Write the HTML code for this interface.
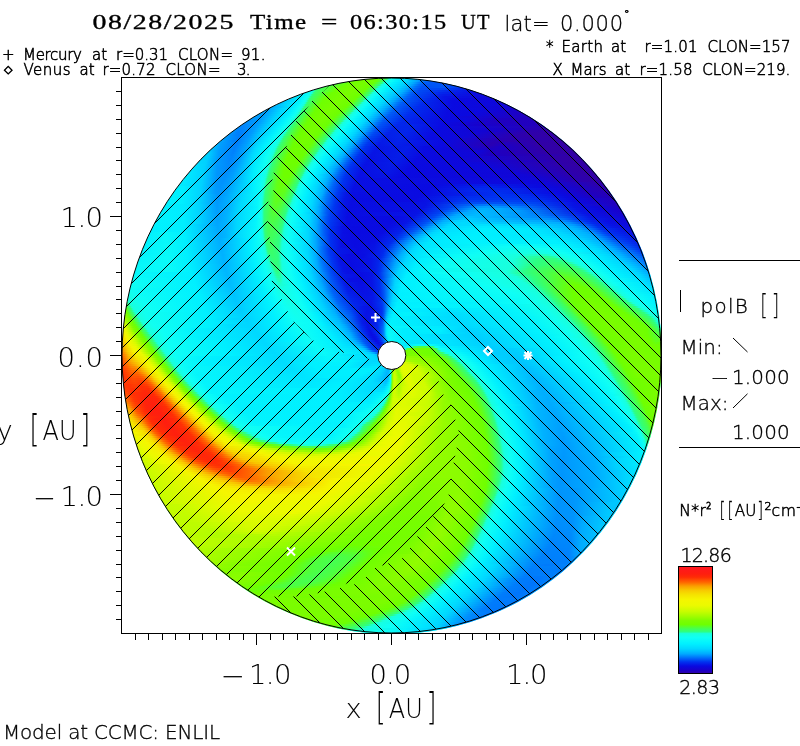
<!DOCTYPE html>
<html lang="en"><head><meta charset="utf-8"><title>ENLIL 08/28/2025 06:30:15 UT</title>
<style>
html,body{margin:0;padding:0;background:#fff}
body{width:800px;height:746px;position:relative;overflow:hidden}
#disk{position:absolute;left:121.5px;top:77.5px;width:540px;height:556px;border-radius:50%;overflow:hidden;background:#0ff;box-sizing:border-box;padding-top:.5px}
#disk i{display:block;height:2px;width:540px;margin-left:.5px}
#ov{position:absolute;left:0;top:0}
text{font-family:'DejaVu Sans Light','DejaVu Sans','Liberation Sans',sans-serif;font-weight:200;fill:#000;stroke:#000;white-space:pre}
.ser{font-family:'Liberation Serif','DejaVu Serif',serif;font-weight:400;stroke:#000;stroke-width:0.35px}
</style></head><body>

<div id="disk">
<i style="background:linear-gradient(90deg,#77fd00 244px,#6eff00 256px,#6aff08 257px,#2dff81 265px,#21ffb8 266px,#18ffdf 267px,#0ffff4 270px,#00efff 277px,#00d7ff 287px,#00b7ff 294px)"></i>
<i style="background:linear-gradient(90deg,#5eff20 227px,#6fff00 231px,#77fd00 243px,#6cff05 254px,#59ff29 257px,#32ff79 262px,#27ff9c 263px,#1bffd4 264px,#0efef6 268px,#01f1ff 274px,#00d4ff 285px,#00a8ff 294px,#006bf9 303px,#0057f6 311px)"></i>
<i style="background:linear-gradient(90deg,#50ff3d 216px,#6eff00 227px,#77fd00 239px,#6dff01 251px,#5cff23 254px,#2eff81 260px,#18ffde 262px,#0dfdf6 266px,#00f0ff 272px,#00d1ff 283px,#00abff 291px,#0074fb 298px,#005cf7 303px,#0051f5 322px)"></i>
<i style="background:linear-gradient(90deg,#47ff4d 207px,#6fff00 224px,#77fd00 236px,#6fff00 248px,#60ff1d 251px,#32ff77 257px,#29ff94 258px,#1dffc9 259px,#17ffe0 260px,#0ffff5 263px,#00efff 270px,#00d0ff 281px,#00a9ff 289px,#0069f9 297px,#0054f6 302px,#0057f6 321px,#004cf4 331px)"></i>
<i style="background:linear-gradient(90deg,#3dff63 199px,#6eff00 220px,#78fd00 234px,#6eff00 246px,#5dff22 249px,#30ff7d 255px,#19ffda 257px,#0ffff5 261px,#00efff 268px,#00ceff 279px,#00adff 286px,#006dfa 294px,#0051f5 300px,#0056f6 323px,#0035f1 339px)"></i>
<i style="background:linear-gradient(90deg,#14ffe8 192px,#18ffde 193px,#30ff7b 195px,#3dff62 197px,#6fff00 217px,#78fd00 232px,#6dff02 244px,#2dff81 253px,#18ffdd 255px,#0efef6 259px,#00efff 266px,#00cdff 277px,#00acff 284px,#006bfa 292px,#004ef5 298px,#0044f3 324px,#051ce8 346px)"></i>
<i style="background:linear-gradient(90deg,#02f2fe 185px,#0efef5 189px,#17ffe2 191px,#20ffbc 192px,#2eff80 193px,#3cff64 195px,#6fff00 213px,#79fd00 230px,#6cff04 242px,#34ff75 250px,#2bff8a 251px,#20ffbd 252px,#18ffdf 253px,#0efef6 257px,#00eeff 264px,#00ccff 275px,#00abff 282px,#005ef7 292px,#004af4 297px,#090de2 353px)"></i>
<i style="background:linear-gradient(90deg,#00eaff 180px,#11fff1 188px,#19ffdc 190px,#28ff97 191px,#33ff77 192px,#3aff69 193px,#65ff11 206px,#6fff00 210px,#79fd00 228px,#6bff05 240px,#32ff77 248px,#2aff92 249px,#1effc4 250px,#18ffe0 251px,#09f9f9 257px,#00c6ff 274px,#00aaff 280px,#0063f8 289px,#004af4 295px,#0327ec 319px,#0c09df 358px)"></i>
<i style="background:linear-gradient(90deg,#00dfff 174px,#01f1ff 181px,#0efef5 186px,#17ffe2 188px,#20ffbc 189px,#2eff80 190px,#3cff64 192px,#6eff00 207px,#79fd00 224px,#6fff00 237px,#5fff1f 240px,#32ff79 246px,#28ff97 247px,#1dffc9 248px,#17ffe0 249px,#10fff3 252px,#07f7fb 256px,#00c1ff 273px,#00a8ff 278px,#0063f8 287px,#004af4 293px,#061ce8 321px,#0e08db 364px)"></i>
<i style="background:linear-gradient(90deg,#00d8ff 169px,#00f0ff 179px,#10fff2 185px,#18ffde 187px,#26ffa2 188px,#31ff79 189px,#39ff6b 190px,#67ff0e 202px,#6fff00 205px,#79fd00 222px,#6eff00 235px,#5eff21 238px,#31ff7a 244px,#28ff9a 245px,#1cffcc 246px,#17ffe0 247px,#10fff3 250px,#04f4fc 255px,#00c9ff 269px,#00a7ff 276px,#0063f8 285px,#0049f4 292px,#0813e5 323px,#0f07da 369px)"></i>
<i style="background:linear-gradient(90deg,#00caff 164px,#01f1ff 178px,#0efef6 183px,#16ffe4 185px,#1cffcf 186px,#2bff8d 187px,#3bff67 189px,#67ff0f 200px,#6fff00 203px,#79fd00 219px,#6eff00 233px,#31ff7b 242px,#27ff9c 243px,#1cffce 244px,#17ffe1 245px,#10fff3 248px,#03f3fd 254px,#00d7ff 264px,#00acff 273px,#006ffa 281px,#0055f6 286px,#022aed 306px,#0a0ae1 331px,#0f07d9 374px)"></i>
<i style="background:linear-gradient(90deg,#00beff 160px,#00efff 176px,#0ffff5 182px,#17ffe1 184px,#21ffb9 185px,#2eff80 186px,#36ff70 187px,#66ff11 198px,#6fff00 201px,#79fd00 217px,#6dff01 231px,#30ff7b 240px,#27ff9e 241px,#1cffcf 242px,#17ffe1 243px,#10fff3 246px,#01f1fe 253px,#00d6ff 262px,#00abff 271px,#0059f6 283px,#0327ec 305px,#0a0ae1 330px,#0f07da 378px)"></i>
<i style="background:linear-gradient(90deg,#00b1ff 155px,#00d5ff 164px,#00f0ff 175px,#11fff1 181px,#18ffde 183px,#30ff7b 185px,#38ff6d 186px,#6eff00 199px,#79fd00 215px,#6cff04 229px,#30ff7c 238px,#27ff9f 239px,#1cffcf 240px,#17ffe1 241px,#0dfdf6 245px,#01f1fe 251px,#00d6ff 260px,#00aaff 269px,#0073fa 276px,#0058f6 281px,#0228ec 302px,#0a0ae1 330px,#0e07da 383px)"></i>
<i style="background:linear-gradient(90deg,#00a9ff 151px,#00d6ff 163px,#00efff 173px,#0efef6 179px,#1bffd5 182px,#29ff96 183px,#32ff77 184px,#39ff6a 185px,#66ff10 195px,#6fff00 198px,#79fd00 212px,#6eff00 226px,#5aff28 230px,#30ff7d 236px,#1cffcf 238px,#17ffe0 239px,#0efef6 243px,#01f1fe 249px,#00d6ff 258px,#00afff 266px,#005cf7 278px,#022aed 299px,#0a0ae1 331px,#0f07d9 387px)"></i>
<i style="background:linear-gradient(90deg,#00a1fe 147px,#00f0ff 172px,#10fff4 178px,#17ffe1 180px,#1fffc2 181px,#2cff87 182px,#34ff74 183px,#5bff25 191px,#6eff00 196px,#79fd00 210px,#6eff00 224px,#59ff2a 228px,#2fff7d 234px,#1cffcf 236px,#17ffe0 237px,#0efef6 241px,#01f1fe 247px,#00d6ff 256px,#00aeff 264px,#005bf7 276px,#022bed 296px,#0a0ae1 331px,#1205d4 391px)"></i>
<i style="background:linear-gradient(90deg,#009efe 143px,#00a3fe 147px,#00d5ff 160px,#00efff 170px,#0dfdf6 176px,#18ffdf 179px,#2eff7f 181px,#36ff70 182px,#62ff18 191px,#6fff00 195px,#79fd00 208px,#6cff03 222px,#58ff2d 226px,#2fff7e 232px,#1cffcf 234px,#17ffe0 235px,#0efef6 239px,#00f0ff 246px,#00d6ff 254px,#00aeff 262px,#005ef7 273px,#012dee 293px,#0a0ae1 328px,#0c09de 363px,#1801cb 395px)"></i>
<i style="background:linear-gradient(90deg,#009efe 140px,#00a0fe 145px,#00d7ff 159px,#00f0ff 169px,#0ffff5 175px,#19ffdb 178px,#26ff9f 179px,#31ff7b 180px,#37ff6d 181px,#6eff00 193px,#79fd00 206px,#6eff00 219px,#5cff23 223px,#2fff7e 230px,#1cffcf 232px,#17ffe0 233px,#0efef5 237px,#00f0ff 244px,#00d7ff 252px,#00adff 260px,#005df7 271px,#012cee 291px,#0a0ae1 326px,#0c09de 358px,#1b00c6 398px)"></i>
<i style="background:linear-gradient(90deg,#009dfe 136px,#009efe 143px,#00d5ff 157px,#00efff 167px,#10fff2 174px,#17ffe1 176px,#1effc7 177px,#2aff8f 178px,#33ff77 179px,#61ff1a 188px,#6fff00 192px,#78fd00 204px,#6eff01 217px,#56ff31 222px,#2fff7f 228px,#1cffcf 230px,#17ffe0 231px,#0efef5 235px,#00f0ff 242px,#00d7ff 250px,#00adff 258px,#005cf7 269px,#012dee 288px,#0a0ae1 325px,#0c09de 353px,#1e00c2 402px)"></i>
<i style="background:linear-gradient(90deg,#009bfe 133px,#009efe 142px,#00d7ff 156px,#00f0ff 166px,#0efef5 172px,#18ffde 175px,#2dff81 177px,#34ff73 178px,#6eff00 190px,#78fd00 202px,#6dff03 215px,#55ff33 220px,#2eff7f 226px,#1cffcf 228px,#17ffe0 229px,#0ffff5 233px,#01f1ff 240px,#00d8ff 248px,#00adff 256px,#005bf7 267px,#012cee 286px,#0a0ae1 325px,#0b09df 348px,#2000bf 405px)"></i>
<i style="background:linear-gradient(90deg,#0096fd 129px,#009cfe 140px,#00d5ff 154px,#00efff 164px,#10fff3 171px,#1affd9 174px,#26ffa1 175px,#30ff7d 176px,#5bff25 184px,#6fff00 189px,#78fd00 201px,#6cff04 213px,#54ff34 218px,#2eff7f 224px,#1cffcf 226px,#18ffe0 227px,#0ffff5 231px,#01f1fe 238px,#00d8ff 246px,#00aeff 254px,#005bf7 265px,#022bee 284px,#0a0ae1 324px,#2100be 409px)"></i>
<i style="background:linear-gradient(90deg,#0090fd 126px,#009dfe 139px,#00d7ff 153px,#01f1ff 163px,#0efef5 169px,#17ffe0 172px,#1fffc3 173px,#2aff8f 174px,#32ff78 175px,#62ff18 184px,#6fff00 188px,#78fd00 199px,#6cff05 211px,#53ff35 216px,#2eff7f 222px,#1cffcd 224px,#18ffdf 225px,#0ffff4 229px,#00efff 237px,#00d5ff 245px,#00aeff 252px,#005af7 263px,#022aed 282px,#0a0ae1 323px,#0c09de 343px,#1e00c3 375px,#2200bd 412px)"></i>
<i style="background:linear-gradient(90deg,#008afc 123px,#009bfe 137px,#00d5ff 151px,#00f0ff 161px,#10fff3 168px,#19ffdd 171px,#2eff81 173px,#34ff73 174px,#5fff1d 182px,#6eff00 186px,#78fd00 198px,#6cff05 209px,#2fff7e 220px,#1dffcb 222px,#18ffdf 223px,#10fff3 227px,#00f0ff 235px,#00d6ff 243px,#00afff 250px,#0059f7 261px,#0229ed 280px,#0a0ae1 323px,#0c09de 341px,#1f00c1 374px,#2200bd 415px)"></i>
<i style="background:linear-gradient(90deg,#0088fc 120px,#009bfe 136px,#00d7ff 150px,#01f1fe 160px,#0efef5 166px,#17ffe1 169px,#1cffcd 170px,#27ff9b 171px,#30ff7b 172px,#5dff23 180px,#6fff00 185px,#78fd00 196px,#6cff04 207px,#2fff7d 218px,#1dffc8 220px,#18ffdf 221px,#0efef6 226px,#01f1ff 233px,#00d7ff 241px,#00aaff 249px,#006cfa 256px,#0054f6 260px,#0229ed 277px,#0a0ae1 322px,#1f00c1 378px,#2200bd 418px)"></i>
<i style="background:linear-gradient(90deg,#008cfd 117px,#0084fc 121px,#009afe 134px,#00d5ff 148px,#00f0ff 158px,#10fff3 165px,#18ffde 168px,#2cff88 170px,#33ff76 171px,#5aff29 178px,#6eff00 183px,#77fd00 194px,#6cff03 205px,#30ff7c 216px,#18ffde 219px,#0efef5 224px,#01f1fe 231px,#00d8ff 239px,#00abff 247px,#0054f6 258px,#0327ec 275px,#0326eb 289px,#0a0ae1 321px,#1801cb 359px,#2300bb 421px)"></i>
<i style="background:linear-gradient(90deg,#0093fd 114px,#0082fc 120px,#009afe 133px,#00d7ff 147px,#00efff 156px,#0ffff5 163px,#1bffd5 167px,#2fff7e 169px,#35ff71 170px,#5cff24 177px,#6fff00 182px,#77fd00 192px,#6dff02 203px,#31ff7a 214px,#2aff92 215px,#18ffdd 217px,#0ffff5 222px,#00efff 230px,#00d5ff 238px,#00acff 245px,#0053f6 256px,#0326eb 273px,#0325eb 288px,#0a0be1 318px,#2800b4 424px)"></i>
<i style="background:linear-gradient(90deg,#009afe 111px,#0082fc 117px,#0082fc 120px,#009bfe 132px,#00d5ff 145px,#00edff 154px,#10fff3 162px,#18ffdf 165px,#1fffc0 166px,#2aff90 167px,#32ff79 168px,#5eff21 176px,#6fff00 181px,#77fd00 191px,#6eff00 201px,#33ff77 212px,#2bff89 213px,#19ffdc 215px,#0ffff5 220px,#00f0ff 228px,#00d6ff 236px,#00aeff 243px,#004ef5 255px,#0424eb 271px,#0326eb 286px,#0a0be1 316px,#1901ca 383px,#2e00ab 427px)"></i>
<i style="background:linear-gradient(90deg,#009cfe 109px,#0081fc 116px,#0082fc 120px,#009cfe 131px,#00d7ff 144px,#00efff 153px,#0ffff5 160px,#19ffdc 164px,#2dff81 166px,#34ff74 167px,#5bff26 174px,#6eff00 179px,#77fd00 189px,#6eff00 199px,#5cff24 203px,#2eff81 211px,#1bffd5 213px,#17ffe0 214px,#10fff4 218px,#01f1ff 226px,#00d7ff 234px,#00aaff 242px,#004ef5 253px,#0422ea 269px,#0325eb 285px,#0a0be1 314px,#1304d2 363px,#2b00af 406px,#3100a7 429px)"></i>
<i style="background:linear-gradient(90deg,#009ffe 106px,#0081fc 115px,#0080fc 119px,#009cfe 130px,#00c9ff 139px,#00eeff 151px,#10fff3 159px,#17ffe0 162px,#1dffca 163px,#27ff9b 164px,#30ff7c 165px,#36ff6f 166px,#5cff23 173px,#6fff00 178px,#77fd00 188px,#6cff03 198px,#2fff7d 209px,#1dffc9 211px,#18ffdf 212px,#0efef6 217px,#00efff 225px,#00d4ff 233px,#00acff 240px,#0062f8 248px,#0049f4 252px,#0421e9 267px,#0325eb 282px,#0a0be1 311px,#1106d6 353px,#2d00ad 402px,#3200a6 432px)"></i>
<i style="background:linear-gradient(90deg,#00a1fe 103px,#0081fc 114px,#007ffb 118px,#009dfe 129px,#00c7ff 137px,#00f0ff 150px,#0ffff5 157px,#18ffde 161px,#2bff8c 163px,#38ff6b 165px,#5eff20 172px,#6fff00 177px,#76fd00 186px,#6eff00 196px,#32ff79 207px,#2aff90 208px,#18ffdd 210px,#0ffff5 215px,#00f0ff 223px,#00d6ff 231px,#00aeff 238px,#0049f4 250px,#051fe9 265px,#0325eb 281px,#0a0be1 310px,#0f07d9 344px,#2d00ad 397px,#3200a5 435px)"></i>
<i style="background:linear-gradient(90deg,#00a2fe 101px,#007efb 117px,#009dfe 128px,#00d7ff 140px,#01f1ff 149px,#10fff4 156px,#19ffdb 160px,#2dff81 162px,#3aff67 164px,#5fff1e 171px,#6fff00 176px,#76fd00 185px,#6bff05 195px,#2dff82 206px,#1affd8 208px,#0ffff4 213px,#00f0ff 221px,#00d7ff 229px,#00aaff 237px,#005ef7 245px,#0044f3 249px,#051ee8 263px,#0424eb 279px,#0a0be1 309px,#0e08db 338px,#2d00ad 395px,#3200a5 437px)"></i>
<i style="background:linear-gradient(90deg,#00a7ff 98px,#007efb 116px,#009efe 127px,#00d8ff 139px,#00efff 147px,#0efef6 154px,#17ffe0 158px,#1cffd0 159px,#2fff7e 161px,#36ff70 162px,#57ff2f 168px,#6eff00 174px,#76fd00 183px,#6dff02 193px,#30ff7c 204px,#1effc7 206px,#18ffdf 207px,#0efef6 212px,#01f1ff 219px,#00d4ff 228px,#00acff 235px,#0058f6 244px,#003ff2 248px,#051ce8 261px,#0423ea 278px,#0a0be2 307px,#0a0ae0 323px,#2600b8 374px,#3200a5 440px)"></i>
<i style="background:linear-gradient(90deg,#00adff 96px,#0080fb 112px,#007ffb 116px,#009efe 126px,#00d6ff 137px,#00f0ff 146px,#0ffff5 153px,#18ffdf 157px,#1dffc8 158px,#28ff99 159px,#31ff7b 160px,#37ff6e 161px,#57ff2e 167px,#6eff00 173px,#75fe00 182px,#6eff00 191px,#5cff24 195px,#33ff77 202px,#2bff8a 203px,#19ffdd 205px,#0ffff5 210px,#00efff 218px,#00d6ff 226px,#00aeff 233px,#005bf7 242px,#003af1 247px,#061ae7 260px,#0422ea 276px,#0b0ae0 322px,#2800b4 373px,#3200a5 442px)"></i>
<i style="background:linear-gradient(90deg,#00b5ff 94px,#009ffe 99px,#007efb 115px,#009efe 125px,#00d7ff 136px,#01f1ff 145px,#0ffff4 152px,#18ffdf 156px,#1fffc3 157px,#29ff92 158px,#38ff6b 160px,#57ff2e 166px,#6eff00 172px,#75fe00 181px,#6dff03 190px,#2fff7e 201px,#1cffce 203px,#18ffe0 204px,#0ffff4 208px,#00f0ff 216px,#00d7ff 224px,#00abff 232px,#0055f6 241px,#0036f1 246px,#0619e7 258px,#0421ea 274px,#0b0ae0 321px,#2900b2 371px,#2200bd 383px,#3000a8 414px,#3200a5 444px)"></i>
<i style="background:linear-gradient(90deg,#00c5ff 91px,#00a0fe 98px,#007efb 114px,#00a3fe 125px,#00d8ff 135px,#00f0ff 143px,#10fff3 151px,#18ffdf 155px,#1fffbf 156px,#2aff8e 157px,#39ff6a 159px,#6eff00 171px,#6eff00 188px,#5cff23 192px,#32ff78 199px,#2aff8e 200px,#19ffdd 202px,#0efef6 207px,#01f1ff 214px,#00d4ff 223px,#00adff 230px,#0058f6 239px,#0037f1 244px,#0717e6 257px,#051fe9 273px,#0b0ae0 320px,#2900b3 369px,#1d00c4 381px,#3000a8 416px,#3200a5 447px)"></i>
<i style="background:linear-gradient(90deg,#00ccff 89px,#00a1fe 97px,#007ffb 113px,#00a2fe 124px,#00d8ff 134px,#00f0ff 142px,#10fff3 150px,#18ffdf 154px,#20ffbf 155px,#2bff8c 156px,#3aff69 158px,#6eff00 170px,#6dff03 187px,#5aff28 191px,#2fff7f 198px,#1cffd0 200px,#17ffe0 201px,#0ffff5 205px,#00efff 213px,#00d6ff 221px,#00aaff 229px,#0053f6 238px,#0032f0 243px,#0716e6 255px,#051de8 286px,#0a0be1 303px,#0b0ae0 319px,#2400ba 369px,#1900c9 379px,#3000a8 418px,#3200a5 449px)"></i>
<i style="background:linear-gradient(90deg,#00d1ff 87px,#009ffe 97px,#007ffb 112px,#00a2fe 123px,#00d8ff 133px,#00f0ff 141px,#10fff2 149px,#18ffdf 153px,#1fffc0 154px,#2bff8d 155px,#39ff69 157px,#6eff00 169px,#74fe00 177px,#6bff06 186px,#32ff78 196px,#2bff8d 197px,#19ffdd 199px,#0efef6 204px,#00f0ff 211px,#00d8ff 219px,#00acff 227px,#0057f6 236px,#0034f0 241px,#0715e5 254px,#051de8 284px,#0a0ce2 301px,#0a0ae0 317px,#1d00c3 369px,#1a00c8 380px,#3100a7 422px,#3200a5 451px)"></i>
<i style="background:linear-gradient(90deg,#00d4ff 85px,#009dfe 97px,#0080fc 112px,#00a2fe 122px,#00d8ff 132px,#00f0ff 140px,#10fff3 148px,#18ffdf 152px,#1effc5 153px,#29ff92 154px,#39ff6b 156px,#6eff00 168px,#6dff02 184px,#5bff26 188px,#2fff7e 195px,#1cffce 197px,#18ffe0 198px,#0ffff5 202px,#01f1fe 209px,#00d5ff 218px,#00aeff 225px,#0052f5 235px,#0031f0 240px,#0714e5 252px,#051de8 282px,#0a0be1 302px,#1205d4 360px,#1d00c3 369px,#3000a8 423px,#3200a5 453px)"></i>
<i style="background:linear-gradient(90deg,#00d5ff 83px,#00ceff 87px,#009bfe 97px,#0081fc 111px,#00a1fe 121px,#00d8ff 131px,#00f0ff 139px,#10fff3 147px,#17ffe0 151px,#1dffcc 152px,#28ff9a 153px,#31ff7b 154px,#37ff6e 155px,#6eff00 167px,#6cff04 183px,#59ff2a 187px,#33ff77 193px,#2bff89 194px,#19ffdd 196px,#10fff3 200px,#00f0ff 208px,#00d7ff 216px,#00abff 224px,#0056f6 233px,#0033f0 238px,#0813e4 251px,#051ee8 280px,#0a0be1 300px,#1006d7 356px,#1e00c2 369px,#3100a6 430px,#3200a5 455px)"></i>
<i style="background:linear-gradient(90deg,#00d6ff 81px,#00ccff 87px,#009afe 97px,#0082fc 110px,#009cfe 119px,#00d7ff 130px,#00f0ff 138px,#0ffff4 146px,#1bffd5 151px,#2fff7e 153px,#35ff71 154px,#6aff08 165px,#6fff00 167px,#6eff00 181px,#5dff23 185px,#30ff7c 192px,#1dffc8 194px,#18ffdf 195px,#0ffff5 199px,#01f1ff 206px,#00d4ff 215px,#00aeff 222px,#005af7 231px,#0030ef 237px,#0813e4 249px,#051ee8 279px,#0a0be1 299px,#0f07d8 351px,#1d00c3 368px,#3200a5 457px)"></i>
<i style="background:linear-gradient(90deg,#00d7ff 79px,#00ceff 86px,#0098fe 97px,#0084fc 110px,#009bfe 118px,#00ddff 131px,#0ffff5 145px,#19ffdc 150px,#2dff84 152px,#33ff75 153px,#65ff12 163px,#6fff00 166px,#6dff02 180px,#5bff27 184px,#2dff82 191px,#19ffdb 193px,#10fff3 197px,#00efff 205px,#00d6ff 213px,#00abff 221px,#005ef7 229px,#0032f0 235px,#0812e4 248px,#051de8 277px,#0a0be1 297px,#0e07da 342px,#3100a7 436px,#3200a5 459px)"></i>
<i style="background:linear-gradient(90deg,#00d8ff 77px,#00d0ff 85px,#009afe 96px,#0084fc 109px,#009bfe 117px,#00e0ff 131px,#0efef6 144px,#18ffdd 149px,#2aff91 151px,#31ff7a 152px,#64ff13 162px,#6eff00 165px,#6cff04 179px,#59ff2b 183px,#31ff79 189px,#2aff92 190px,#18ffde 192px,#0ffff5 196px,#01f1ff 203px,#00d8ff 211px,#00adff 219px,#005af7 228px,#0030ef 234px,#0811e4 247px,#051de8 275px,#0a0be1 295px,#0d08dd 334px,#3100a7 439px,#3200a5 461px)"></i>
<i style="background:linear-gradient(90deg,#00daff 75px,#00d1ff 84px,#0098fe 96px,#0085fc 108px,#0096fd 115px,#00e6ff 132px,#0ffff4 144px,#18ffdf 148px,#1effc7 149px,#2fff7e 151px,#63ff16 161px,#6eff00 164px,#6eff00 177px,#5cff23 181px,#2fff7e 188px,#1cffcf 190px,#17ffe0 191px,#0efef6 195px,#00f0ff 202px,#00d6ff 210px,#00aaff 218px,#005ef7 226px,#0033f0 232px,#0810e3 246px,#051ce8 274px,#0a0be1 293px,#0c09de 329px,#2400b9 420px,#3100a7 442px,#3200a5 463px)"></i>
<i style="background:linear-gradient(90deg,#00dcff 73px,#00d0ff 84px,#009afe 95px,#0087fc 107px,#0099fe 115px,#00e8ff 132px,#0efef5 143px,#1bffd2 148px,#2dff83 150px,#33ff77 151px,#67ff0f 161px,#6fff00 164px,#6dff02 176px,#5bff27 180px,#2dff84 187px,#19ffdc 189px,#0ffff5 193px,#01f1fe 200px,#00d8ff 208px,#00adff 216px,#005af7 225px,#0031f0 231px,#0811e4 244px,#061ce8 272px,#0a0be1 292px,#0f07d9 357px,#3000a7 444px,#3200a5 465px)"></i>
<i style="background:linear-gradient(90deg,#00e0ff 71px,#00d2ff 83px,#0099fe 95px,#0088fc 107px,#0099fe 114px,#00eaff 132px,#10fff4 143px,#19ffdc 147px,#2aff8f 149px,#31ff7b 150px,#65ff12 160px,#6eff00 163px,#6cff04 175px,#59ff2a 179px,#32ff79 185px,#2aff91 186px,#20ffbf 187px,#18ffde 188px,#0efef5 192px,#00f0ff 199px,#00d6ff 207px,#00abff 215px,#005ff8 223px,#0035f0 229px,#0810e3 243px,#061be7 271px,#0a0ae1 291px,#0d08dc 358px,#3100a7 447px,#3200a5 467px)"></i>
<i style="background:linear-gradient(90deg,#00e4ff 69px,#00d1ff 83px,#0098fe 95px,#0089fc 106px,#009cfe 114px,#00e8ff 131px,#0efef5 142px,#18ffdf 146px,#2fff7f 149px,#63ff15 159px,#6fff00 163px,#6bff06 174px,#57ff2e 178px,#30ff7c 184px,#27ff9d 185px,#1dffcb 186px,#17ffe0 187px,#0efef6 191px,#00efff 198px,#00d8ff 205px,#00a8ff 214px,#005cf7 222px,#0033f0 228px,#0910e3 242px,#061ae7 269px,#0a0ae1 289px,#0d08dc 362px,#3000a8 449px,#3200a5 469px)"></i>
<i style="background:linear-gradient(90deg,#00e8ff 67px,#00d2ff 82px,#0098fd 95px,#008afc 105px,#009cfe 113px,#00eaff 131px,#0ffff4 142px,#1affd6 146px,#2cff85 148px,#32ff78 149px,#62ff19 158px,#6eff00 162px,#6aff08 173px,#2eff7f 183px,#1affd6 185px,#17ffe1 186px,#0ffff4 189px,#00eeff 197px,#00d7ff 204px,#00acff 212px,#005af7 221px,#0032f0 227px,#0910e3 241px,#0619e7 268px,#0a0ae1 287px,#0e08db 372px,#3000a8 451px,#3200a5 471px)"></i>
<i style="background:linear-gradient(90deg,#00eaff 66px,#00d1ff 82px,#0097fd 95px,#008cfc 105px,#009bfe 112px,#00ebff 131px,#0efef6 141px,#18ffde 145px,#29ff95 147px,#30ff7d 148px,#64ff13 158px,#6eff00 162px,#6fff00 170px,#69ff0a 172px,#2dff82 182px,#19ffdc 184px,#0ffff5 188px,#00f0ff 195px,#00d5ff 203px,#00abff 211px,#0060f8 219px,#0031f0 226px,#090fe3 240px,#0718e6 266px,#0a0ae1 285px,#0f07d9 382px,#2f00a9 452px,#3200a5 472px)"></i>
<i style="background:linear-gradient(90deg,#00edff 64px,#00d3ff 81px,#0096fd 95px,#008dfd 104px,#009ffe 112px,#00ecff 131px,#0ffff5 141px,#1bffd3 145px,#2dff81 147px,#62ff18 157px,#6eff00 162px,#6eff00 169px,#68ff0b 171px,#2cff87 181px,#18ffdd 183px,#0efef5 187px,#00f0ff 194px,#00d8ff 201px,#00a9ff 210px,#005ff7 218px,#0031f0 225px,#090fe3 239px,#0717e6 265px,#0a0ae1 283px,#1006d7 393px,#2e00ab 452px,#3200a5 474px)"></i>
<i style="background:linear-gradient(90deg,#00efff 62px,#00d2ff 81px,#0096fd 95px,#008efd 103px,#009efe 111px,#00edff 131px,#0dfdf6 140px,#18ffde 144px,#29ff93 146px,#30ff7c 147px,#64ff14 157px,#6eff00 162px,#6eff00 168px,#5eff21 172px,#33ff77 179px,#2bff8a 180px,#18ffde 182px,#0efef6 186px,#00f0ff 193px,#00aeff 208px,#005ef7 217px,#0031f0 224px,#090fe3 238px,#0715e5 264px,#0a0ae1 282px,#1106d7 402px,#2d00ac 453px,#3200a5 476px)"></i>
<i style="background:linear-gradient(90deg,#00f0ff 61px,#00d2ff 81px,#0099fe 94px,#008ffd 103px,#009efe 110px,#00eeff 131px,#0efef6 140px,#1affd6 144px,#2dff81 146px,#66ff10 157px,#6eff00 162px,#6dff02 167px,#5dff22 171px,#32ff77 178px,#2bff8b 179px,#18ffde 181px,#0efef6 185px,#00efff 192px,#00d7ff 199px,#00adff 207px,#005df7 216px,#0032f0 223px,#090fe3 237px,#0714e5 262px,#0a0ae1 280px,#1006d7 409px,#2d00ad 455px,#3200a6 477px)"></i>
<i style="background:linear-gradient(90deg,#00f0ff 59px,#00d3ff 80px,#0098fe 94px,#0090fd 102px,#009efe 109px,#00f0ff 132px,#0ffff5 140px,#18ffdf 143px,#29ff95 145px,#30ff7c 146px,#67ff0e 157px,#6dff01 163px,#67ff0e 168px,#32ff77 177px,#2bff8a 178px,#18ffde 180px,#0efef6 184px,#00efff 191px,#00d7ff 198px,#00adff 206px,#005df7 215px,#0033f0 222px,#090fe3 236px,#0f07d9 413px,#2c00ae 457px,#3200a6 479px)"></i>
<i style="background:linear-gradient(90deg,#01f1ff 57px,#00d3ff 80px,#0098fe 94px,#0091fd 101px,#009efe 108px,#00efff 131px,#0cfcf7 139px,#19ffdc 143px,#2dff83 145px,#32ff77 146px,#65ff13 156px,#6cff04 162px,#67ff0f 167px,#33ff77 176px,#2cff87 177px,#18ffde 179px,#0efef6 183px,#00efff 190px,#00d7ff 197px,#00adff 205px,#0065f8 213px,#0034f0 221px,#090fe3 235px,#0e07db 416px,#2c00af 460px,#3100a6 481px)"></i>
<i style="background:linear-gradient(90deg,#01f1ff 56px,#00d2ff 80px,#0098fd 94px,#0092fd 100px,#009dfe 107px,#00efff 131px,#0dfdf6 139px,#17ffe1 142px,#1dffcb 143px,#27ff9b 144px,#2fff7e 145px,#62ff19 155px,#6bff06 160px,#66ff0f 166px,#33ff76 175px,#2dff83 176px,#18ffdd 178px,#0efef6 182px,#00efff 189px,#00d8ff 196px,#00aeff 204px,#0066f9 212px,#0035f1 220px,#090fe3 234px,#0d08dc 419px,#3100a7 482px)"></i>
<i style="background:linear-gradient(90deg,#01f1fe 54px,#00d4ff 79px,#0098fd 94px,#0093fd 99px,#009dfe 106px,#00f0ff 131px,#0dfdf6 139px,#18ffdf 142px,#2bff8b 144px,#31ff79 145px,#63ff16 155px,#6aff08 159px,#69ff0a 163px,#62ff18 166px,#47ff4e 170px,#2eff81 175px,#19ffdd 177px,#0efef6 181px,#00efff 188px,#00d8ff 195px,#00a9ff 204px,#0067f9 211px,#0032f0 220px,#090fe3 233px,#0a0ae1 314px,#061ae7 363px,#0c08dd 422px,#3000a8 484px)"></i>
<i style="background:linear-gradient(90deg,#01f1fe 53px,#00eeff 62px,#00d3ff 79px,#0098fd 94px,#0093fd 98px,#00a0fe 106px,#00f0ff 131px,#0bfbf8 138px,#19ffdc 142px,#2eff81 144px,#64ff15 155px,#69ff0a 159px,#62ff19 165px,#41ff5a 170px,#2eff7f 174px,#25ffa4 175px,#1affd8 176px,#16ffe3 177px,#0efef6 180px,#00f0ff 187px,#00d5ff 195px,#00abff 203px,#0068f9 210px,#0033f0 219px,#090fe3 232px,#0a0ae1 310px,#0324eb 363px,#0a0ae1 415px,#0e07da 433px,#2f00aa 485px)"></i>
<i style="background:linear-gradient(90deg,#01f1fe 51px,#00efff 61px,#00d3ff 79px,#009bfe 93px,#0094fd 98px,#009ffe 105px,#00f0ff 131px,#0bfbf8 138px,#17ffe2 141px,#1cffcd 142px,#28ff9a 143px,#30ff7d 144px,#61ff1b 154px,#68ff0c 158px,#61ff1a 164px,#42ff59 169px,#2fff7e 173px,#27ff9d 174px,#1cffcf 175px,#17ffe2 176px,#0efef6 179px,#00f0ff 186px,#00d7ff 194px,#00adff 202px,#0072fa 208px,#0034f0 218px,#090fe3 231px,#0a0ae1 306px,#0229ed 358px,#0326ec 381px,#0c09de 433px,#2d00ad 487px)"></i>
<i style="background:linear-gradient(90deg,#01f1fe 50px,#00efff 61px,#00d4ff 78px,#009bfe 93px,#0095fd 97px,#00a2fe 105px,#00eeff 130px,#08f8fa 137px,#17ffe0 141px,#20ffbe 142px,#2bff8d 143px,#31ff7a 144px,#61ff19 154px,#67ff0e 157px,#60ff1b 163px,#2fff7d 172px,#17ffe0 175px,#0efef5 178px,#00edff 186px,#00d8ff 193px,#00afff 201px,#0073fa 207px,#0035f1 217px,#0910e3 230px,#0a0ae1 302px,#022cee 360px,#022aed 385px,#0c09df 436px,#2100be 465px,#2a00b1 488px)"></i>
<i style="background:linear-gradient(90deg,#01f1fe 49px,#00efff 61px,#00d4ff 78px,#009bfe 93px,#0096fd 97px,#00a4fe 105px,#00d6ff 120px,#08f8f9 137px,#18ffde 141px,#2dff82 143px,#5eff20 153px,#66ff10 157px,#5cff23 163px,#30ff7d 171px,#29ff92 172px,#18ffdf 174px,#0ffff5 177px,#00efff 185px,#00d9ff 192px,#00abff 201px,#0076fb 206px,#0036f1 216px,#0618e6 224px,#090ee3 231px,#0a0be1 301px,#0030ef 376px,#0a0ae1 437px,#2000bf 468px,#2700b5 489px)"></i>
<i style="background:linear-gradient(90deg,#02f2fe 47px,#00efff 61px,#00d4ff 78px,#0096fd 96px,#00a3fe 104px,#00d8ff 120px,#09f9f9 137px,#19ffdc 141px,#25ffa5 142px,#2eff7f 143px,#5eff1f 153px,#65ff13 156px,#5cff24 162px,#30ff7c 170px,#2aff8e 171px,#19ffdd 173px,#10fff3 176px,#00f0ff 184px,#00d7ff 192px,#00aeff 200px,#0078fb 205px,#0038f1 215px,#0716e6 224px,#090de2 232px,#0a0be1 298px,#0032f0 380px,#022aed 403px,#0a0ae1 441px,#2000bf 472px,#2600b7 491px)"></i>
<i style="background:linear-gradient(90deg,#02f2fe 46px,#00efff 60px,#00d5ff 77px,#0097fd 96px,#00adff 107px,#00d7ff 119px,#06f6fb 136px,#12ffef 139px,#1bffd3 141px,#27ff9b 142px,#30ff7d 143px,#5fff1f 153px,#63ff15 156px,#57ff2d 162px,#31ff7a 169px,#2bff8a 170px,#19ffdb 172px,#0efef6 176px,#00edff 184px,#00d9ff 191px,#00b0ff 199px,#007cfb 204px,#0039f1 214px,#0717e6 223px,#090de2 231px,#0a0be1 296px,#022aed 339px,#0034f0 385px,#022cee 409px,#0a0ae1 445px,#1f00c0 475px,#2400b9 492px)"></i>
<i style="background:linear-gradient(90deg,#03f3fd 44px,#00efff 60px,#00d5ff 77px,#0098fe 96px,#00afff 107px,#00d8ff 119px,#06f6fb 136px,#0efef6 138px,#16ffe2 140px,#1dffc8 141px,#29ff93 142px,#31ff7b 143px,#5bff26 152px,#62ff18 155px,#57ff2e 161px,#32ff79 168px,#2cff84 169px,#1bffd2 171px,#17ffe1 172px,#0ffff5 175px,#00efff 183px,#00d7ff 191px,#00b2ff 198px,#0078fb 204px,#003bf2 213px,#0618e6 222px,#090ce2 231px,#0a0be1 294px,#012fef 338px,#0039f1 389px,#012fef 414px,#0a0ae1 449px,#2400ba 494px)"></i>
<i style="background:linear-gradient(90deg,#03f3fd 43px,#00efff 60px,#00d5ff 77px,#0099fe 95px,#00adff 106px,#00d9ff 119px,#06f6fb 136px,#0efef6 138px,#17ffe1 140px,#1fffc0 141px,#2bff8c 142px,#31ff79 143px,#5bff26 152px,#60ff1b 155px,#57ff2e 160px,#2eff81 168px,#1dffc9 170px,#18ffdf 171px,#0dfdf6 175px,#01f1ff 182px,#00d5ff 191px,#00afff 198px,#0074fa 204px,#0038f1 213px,#0717e6 222px,#090ce2 230px,#0a0be1 293px,#0714e5 311px,#003af1 342px,#0041f2 388px,#0038f1 413px,#0a0ae1 453px,#2300bb 495px)"></i>
<i style="background:linear-gradient(90deg,#03f3fd 42px,#00efff 60px,#00d6ff 76px,#009afe 95px,#00afff 106px,#00d8ff 118px,#07f7fb 136px,#0ffff5 138px,#17ffe0 140px,#2cff87 142px,#32ff78 143px,#57ff2e 151px,#5fff1f 154px,#53ff36 160px,#2fff7e 167px,#18ffde 170px,#0efef6 174px,#00efff 182px,#00d8ff 190px,#00b2ff 197px,#0070fa 204px,#0036f1 213px,#0619e6 221px,#090de2 229px,#0811e3 303px,#004bf4 347px,#0053f6 376px,#0042f3 414px,#0a0ae1 457px,#2200bc 496px)"></i>
<i style="background:linear-gradient(90deg,#03f3fd 41px,#00e7ff 66px,#00d2ff 78px,#009bfe 95px,#00b0ff 106px,#00d9ff 118px,#07f7fa 136px,#0ffff4 138px,#18ffdf 140px,#2dff83 142px,#33ff77 143px,#57ff2e 151px,#5dff22 154px,#53ff37 159px,#30ff7b 166px,#2aff90 167px,#19ffdc 169px,#0ffff5 173px,#00f0ff 181px,#00d6ff 190px,#00b5ff 196px,#0064f8 205px,#0034f0 213px,#0718e6 221px,#090ce2 229px,#0812e4 304px,#0071fa 355px,#007afb 365px,#0059f6 405px,#0812e4 451px,#2100be 497px)"></i>
<i style="background:linear-gradient(90deg,#02f2fe 39px,#00e9ff 65px,#00d2ff 78px,#009cfe 95px,#00aeff 105px,#00d7ff 117px,#04f4fc 135px,#10fff3 138px,#18ffde 140px,#2dff82 142px,#33ff76 143px,#57ff2f 151px,#5bff26 154px,#4fff3e 159px,#32ff78 165px,#2cff85 166px,#1bffd3 168px,#17ffe0 169px,#0efef6 173px,#00efff 181px,#00d8ff 189px,#00b8ff 195px,#0060f8 205px,#0036f1 212px,#0717e6 221px,#090ce2 228px,#0812e4 302px,#0044f3 329px,#0098fd 356px,#00a0fe 365px,#007ffb 395px,#0714e5 452px,#0d08dc 473px,#2000bf 499px)"></i>
<i style="background:linear-gradient(90deg,#02f2fe 38px,#00eaff 64px,#00d4ff 77px,#009dfe 95px,#00afff 105px,#00d8ff 117px,#05f5fc 135px,#10fff2 138px,#18ffde 140px,#2dff81 142px,#33ff75 143px,#53ff36 150px,#59ff2a 153px,#4fff3e 158px,#2eff7f 165px,#1effc6 167px,#18ffdf 168px,#0ffff5 172px,#01f1ff 180px,#00d7ff 189px,#00c2ff 193px,#00a9ff 197px,#005cf7 205px,#0034f0 212px,#090de2 227px,#0813e4 300px,#0045f3 325px,#00aaff 353px,#00b1ff 363px,#00aaff 379px,#0096fd 394px,#0716e5 454px,#0d08dc 478px,#1e00c3 500px)"></i>
<i style="background:linear-gradient(90deg,#02f2fe 37px,#00eaff 64px,#00d4ff 77px,#009efe 95px,#00b0ff 105px,#00dbff 118px,#05f5fc 135px,#10fff1 138px,#18ffdd 140px,#2eff81 142px,#34ff75 143px,#52ff37 150px,#57ff2e 153px,#4fff3e 157px,#30ff7b 164px,#2aff91 165px,#19ffdd 167px,#0efef6 172px,#00f0ff 180px,#00d6ff 189px,#00c0ff 193px,#00a5ff 197px,#0058f6 205px,#0040f2 209px,#061ae7 219px,#090de2 226px,#0a0ae1 278px,#0813e4 298px,#0045f3 321px,#00aaff 348px,#00b7ff 361px,#009bfe 397px,#0715e5 458px,#0d08dc 482px,#1a00c8 501px)"></i>
<i style="background:linear-gradient(90deg,#02f2fe 36px,#00ecff 63px,#00d4ff 77px,#009ffe 95px,#00b1ff 105px,#00d7ff 116px,#05f5fb 135px,#0cfcf7 137px,#18ffdd 140px,#2eff81 142px,#34ff74 143px,#4fff3f 149px,#55ff33 152px,#4fff3f 156px,#32ff77 163px,#2dff83 164px,#1bffd1 166px,#17ffe0 167px,#0ffff5 171px,#00efff 180px,#00c4ff 192px,#00abff 196px,#005df7 204px,#003ef2 209px,#0619e7 219px,#090ce2 226px,#0812e4 295px,#0043f3 317px,#008afc 332px,#00a8ff 341px,#00baff 360px,#0092fd 403px,#0714e5 462px,#1702cc 502px)"></i>
<i style="background:linear-gradient(90deg,#02f2fe 35px,#00ecff 63px,#00d3ff 77px,#00a1fe 95px,#00b2ff 105px,#00d7ff 116px,#06f6fb 135px,#0dfdf7 137px,#18ffde 140px,#2eff81 142px,#34ff74 143px,#4bff46 148px,#53ff37 152px,#4cff45 156px,#34ff73 162px,#2fff7e 163px,#18ffde 166px,#0efef6 171px,#00d8ff 188px,#00a8ff 196px,#0046f3 207px,#061be7 218px,#090ce2 226px,#0813e4 293px,#0049f4 315px,#00aaff 335px,#00bbff 356px,#00aaff 382px,#0086fc 413px,#0814e5 466px,#1503d1 503px)"></i>
<i style="background:linear-gradient(90deg,#02f2fe 33px,#00edff 62px,#00d3ff 77px,#00a2fe 95px,#00b1ff 104px,#00d8ff 116px,#06f6fb 135px,#0dfdf6 137px,#18ffde 140px,#2eff81 142px,#3aff68 144px,#4aff47 148px,#50ff3c 152px,#48ff4b 156px,#31ff7a 162px,#2bff8a 163px,#1affd8 165px,#0ffff5 170px,#00f0ff 179px,#00d7ff 188px,#00adff 195px,#0060f8 203px,#0044f3 207px,#051de8 217px,#090ce2 225px,#0a0ae1 274px,#0814e5 291px,#004af4 312px,#00abff 330px,#00c3ff 347px,#0087fc 419px,#006efa 433px,#0717e6 468px,#1304d3 505px)"></i>
<i style="background:linear-gradient(90deg,#02f2fe 32px,#00eeff 62px,#00d6ff 76px,#00a3fe 95px,#00b1ff 104px,#00d8ff 116px,#06f6fb 135px,#18ffde 140px,#2eff81 142px,#3bff67 144px,#4aff48 148px,#4eff40 151px,#49ff4b 155px,#33ff75 161px,#2eff80 162px,#18ffde 165px,#0efef6 170px,#00d6ff 188px,#00abff 195px,#005ef7 203px,#0042f3 207px,#061ae7 218px,#0a0ce2 225px,#0a0ae1 273px,#0715e5 289px,#004cf4 309px,#00a9ff 325px,#00cdff 344px,#0090fd 426px,#0075fb 439px,#0032f0 459px,#061ce8 469px,#1106d6 506px)"></i>
<i style="background:linear-gradient(90deg,#02f2fd 31px,#00eeff 62px,#00d6ff 76px,#00a4fe 95px,#00b2ff 104px,#00d7ff 115px,#04f4fc 134px,#0dfdf6 137px,#18ffdf 140px,#2dff81 142px,#3bff66 144px,#49ff4a 148px,#4cff44 151px,#43ff55 156px,#30ff7b 161px,#2aff8e 162px,#1affda 164px,#0ffff5 169px,#01f1ff 178px,#00d4ff 188px,#00a9ff 195px,#005cf7 203px,#003bf2 208px,#0a0ce2 225px,#0a0ae1 271px,#0716e5 287px,#004ef5 306px,#00aaff 321px,#00cdff 334px,#00d7ff 343px,#00c4ff 362px,#00a3fe 429px,#0083fc 443px,#0033f0 463px,#0422ea 470px,#090fe3 484px,#0f07d9 507px)"></i>
<i style="background:linear-gradient(90deg,#02f2fe 30px,#00eeff 62px,#00d6ff 76px,#00a5ff 95px,#00b3ff 104px,#00d7ff 115px,#05f5fc 134px,#0dfdf6 137px,#18ffdf 140px,#21ffb9 141px,#2dff82 142px,#43ff55 146px,#4aff49 150px,#44ff55 155px,#33ff77 160px,#2eff81 161px,#18ffde 164px,#0efef6 169px,#00d8ff 187px,#00a7ff 195px,#0063f8 202px,#0039f1 208px,#090ce2 224px,#0a0be1 269px,#0715e5 284px,#004ff5 303px,#00b4ff 320px,#00d6ff 332px,#00dbff 341px,#00aeff 436px,#008efd 448px,#0034f0 467px,#0326ec 472px,#0811e4 486px,#0e07db 508px)"></i>
<i style="background:linear-gradient(90deg,#02f2fe 29px,#00eeff 62px,#00a6ff 95px,#00b3ff 104px,#00d7ff 115px,#05f5fc 134px,#0dfdf6 137px,#17ffe0 140px,#20ffbd 141px,#2dff83 142px,#3bff66 144px,#45ff52 147px,#48ff4c 150px,#42ff58 155px,#30ff7c 160px,#2aff8e 161px,#1affd8 163px,#0ffff5 168px,#00f0ff 178px,#00d7ff 187px,#00adff 194px,#0061f8 202px,#0038f1 208px,#0a0ce2 224px,#0a0be1 266px,#0715e5 281px,#0047f4 298px,#0066f9 304px,#00acff 314px,#00d6ff 327px,#00e1ff 364px,#00d7ff 401px,#00b7ff 440px,#0098fe 452px,#022bed 474px,#0714e5 488px,#0d08dc 509px)"></i>
<i style="background:linear-gradient(90deg,#02f2fe 28px,#00eeff 62px,#00a8ff 96px,#00b4ff 104px,#00d7ff 115px,#05f5fb 134px,#0dfdf6 137px,#17ffe1 140px,#1fffc2 141px,#2cff86 142px,#34ff73 143px,#42ff57 146px,#46ff50 149px,#42ff58 154px,#32ff77 159px,#2eff81 160px,#18ffde 163px,#0efef5 168px,#00d6ff 187px,#00acff 194px,#0060f8 202px,#0032f0 209px,#090fe3 221px,#0a0ae1 231px,#0a0be2 266px,#051ce8 282px,#0056f6 298px,#00aeff 311px,#00dcff 326px,#00ebff 363px,#00e2ff 406px,#00b2ff 450px,#0092fd 459px,#0030ef 476px,#0718e6 490px,#0c09de 510px)"></i>
<i style="background:linear-gradient(90deg,#01f1fe 27px,#00efff 62px,#00a9ff 96px,#00b4ff 104px,#00d8ff 115px,#06f6fb 134px,#10fff2 138px,#17ffe2 140px,#1dffc9 141px,#2bff8b 142px,#34ff75 143px,#42ff59 146px,#45ff52 149px,#40ff5b 154px,#30ff7b 159px,#2bff8c 160px,#1bffd2 162px,#10fff3 167px,#01f1ff 177px,#00d5ff 187px,#00abff 194px,#005ff8 202px,#0031f0 209px,#090fe3 221px,#0a0ae1 233px,#0a0ce2 264px,#051ee8 280px,#0057f6 295px,#00b4ff 309px,#00d6ff 318px,#00deff 323px,#00f0ff 362px,#00e9ff 406px,#00d7ff 429px,#00b2ff 455px,#0095fd 463px,#0033f0 479px,#0b09df 511px)"></i>
<i style="background:linear-gradient(90deg,#01f1fe 26px,#00efff 62px,#00aaff 96px,#00b5ff 104px,#00d8ff 115px,#06f6fb 134px,#10fff3 138px,#16ffe3 140px,#1bffd1 141px,#29ff92 142px,#33ff77 143px,#41ff5a 146px,#44ff54 149px,#3fff5f 154px,#2eff80 159px,#19ffdd 162px,#0ffff5 167px,#00efff 178px,#00d4ff 187px,#00a9ff 194px,#005ef7 202px,#0030ef 209px,#090fe3 221px,#0a0ae1 234px,#090ce2 262px,#0422ea 279px,#0057f6 292px,#00b9ff 307px,#00d5ff 314px,#00dfff 320px,#00f0ff 358px,#00ecff 407px,#00d7ff 433px,#00b3ff 459px,#009bfe 466px,#0032f0 483px,#0a0ae1 512px)"></i>
<i style="background:linear-gradient(90deg,#01f1fe 25px,#07f7fa 44px,#00efff 62px,#00abff 96px,#00b3ff 103px,#00d8ff 115px,#08f8fa 135px,#10fff4 138px,#19ffdb 141px,#27ff9c 142px,#31ff79 143px,#40ff5c 146px,#43ff56 149px,#3dff62 154px,#31ff7a 158px,#2cff87 159px,#1dffca 161px,#18ffde 162px,#0ffff5 167px,#00d8ff 186px,#00a8ff 194px,#0056f6 203px,#0130ef 209px,#090ee3 221px,#0a0ae1 234px,#090ce2 260px,#0423ea 277px,#0057f6 289px,#00beff 305px,#00d7ff 311px,#00e2ff 318px,#00f0ff 355px,#00ebff 409px,#00d7ff 438px,#00b3ff 463px,#009ffe 469px,#004ef5 481px,#0032f0 487px,#090ee2 513px)"></i>
<i style="background:linear-gradient(90deg,#01f1fe 24px,#08f8fa 44px,#00eeff 63px,#00abff 97px,#00b5ff 104px,#00d7ff 115px,#08f8f9 135px,#0ffff5 138px,#18ffdd 141px,#30ff7c 143px,#3fff5e 146px,#42ff57 149px,#3cff65 154px,#2fff7e 158px,#29ff92 159px,#1affd7 161px,#0efef6 167px,#00d8ff 186px,#00a7ff 194px,#0066f9 201px,#0033f0 208px,#0910e3 220px,#0a0be1 231px,#0a0ce2 257px,#0324eb 275px,#0050f5 285px,#00aaff 298px,#00c3ff 303px,#00d8ff 308px,#00e4ff 316px,#00f0ff 351px,#00e8ff 419px,#00d7ff 444px,#00b0ff 468px,#009cfe 473px,#0050f5 484px,#0035f0 490px,#0811e4 514px)"></i>
<i style="background:linear-gradient(90deg,#01f1fe 23px,#08f8fa 44px,#00efff 63px,#00acff 97px,#00b3ff 103px,#00d7ff 115px,#08f8f9 135px,#0ffff5 138px,#18ffdf 141px,#2eff80 143px,#3eff60 146px,#42ff59 149px,#3aff68 154px,#2eff81 158px,#19ffdd 161px,#10fff3 166px,#00f0ff 177px,#00d7ff 186px,#00a6ff 194px,#0033f0 208px,#0910e3 220px,#0a0be1 231px,#090de2 256px,#0328ec 274px,#0042f3 280px,#00a9ff 295px,#00c7ff 301px,#00d8ff 305px,#00e6ff 314px,#01f1fe 348px,#00e9ff 427px,#00d6ff 450px,#00aeff 472px,#003cf2 492px,#0714e5 515px)"></i>
<i style="background:linear-gradient(90deg,#01f1fe 22px,#08f8fa 44px,#00efff 63px,#00adff 97px,#00f0ff 129px,#0afaf8 136px,#17ffe1 141px,#1effc6 142px,#2bff8c 143px,#33ff76 144px,#3dff62 146px,#41ff5a 149px,#30ff7c 157px,#2cff88 158px,#1dffc9 160px,#18ffde 161px,#0ffff4 166px,#00d7ff 186px,#00a6ff 194px,#0033f0 208px,#090fe3 220px,#0a0be1 232px,#090de2 254px,#0229ec 272px,#0038f1 276px,#00acff 293px,#00c5ff 298px,#00d7ff 302px,#00e7ff 311px,#01f1fe 345px,#00ecff 431px,#00d7ff 455px,#00afff 475px,#003ff2 495px,#0718e6 516px)"></i>
<i style="background:linear-gradient(90deg,#01f1fe 22px,#08f8fa 44px,#00efff 63px,#00adff 98px,#00efff 129px,#0cfcf7 137px,#1affd8 142px,#27ff9d 143px,#31ff7a 144px,#3cff65 146px,#40ff5b 149px,#2fff7e 157px,#2aff91 158px,#1bffd2 160px,#18ffdf 161px,#0ffff5 166px,#00d6ff 186px,#00a6ff 194px,#0033f0 208px,#090fe3 220px,#0a0be1 233px,#090ee2 253px,#022cee 271px,#00a9ff 290px,#00cdff 297px,#00e8ff 309px,#02f2fe 343px,#00f0ff 433px,#00d7ff 460px,#00afff 478px,#0046f3 497px,#061ce8 516px)"></i>
<i style="background:linear-gradient(90deg,#02f2fe 21px,#08f8f9 45px,#00efff 64px,#00aeff 98px,#00efff 129px,#0cfcf7 137px,#18ffde 142px,#2eff7f 144px,#3aff68 146px,#40ff5d 149px,#2eff81 157px,#19ffdb 160px,#0ffff5 166px,#00efff 177px,#00d6ff 186px,#00a6ff 194px,#0033f0 208px,#090fe3 220px,#0a0be1 233px,#090fe3 252px,#012cee 269px,#00aaff 288px,#00d7ff 297px,#00e8ff 306px,#03f3fd 348px,#00f0ff 440px,#00d7ff 464px,#00afff 481px,#004af4 500px,#051fe9 517px)"></i>
<i style="background:linear-gradient(90deg,#02f2fe 20px,#09f9f9 45px,#00efff 64px,#00aeff 99px,#00efff 129px,#0dfdf6 138px,#17ffe0 142px,#1effc4 143px,#2bff8c 144px,#33ff76 145px,#3fff5e 149px,#2dff84 157px,#19ffdd 160px,#0ffff5 166px,#00d6ff 186px,#00a7ff 194px,#0034f0 208px,#090fe3 220px,#0a0be1 234px,#0811e4 252px,#022cee 267px,#00aaff 286px,#00ceff 293px,#00e8ff 304px,#0afaf8 396px,#03f3fd 441px,#00d9ff 467px,#00b2ff 483px,#0052f5 502px,#0422ea 518px)"></i>
<i style="background:linear-gradient(90deg,#02f2fe 19px,#09f9f9 45px,#00efff 64px,#00afff 99px,#00efff 129px,#0dfdf6 138px,#1affd9 143px,#26ffa0 144px,#30ff7c 145px,#3bff67 147px,#3eff60 149px,#30ff7d 156px,#2bff89 157px,#18ffde 160px,#0ffff5 166px,#00d6ff 186px,#00a7ff 194px,#0077fb 199px,#0031f0 209px,#0811e4 219px,#0a0be1 234px,#0812e4 252px,#012eee 266px,#00a9ff 284px,#00d7ff 293px,#00e7ff 301px,#0ffff5 399px,#06f6fb 440px,#00d7ff 472px,#00acff 488px,#005df7 503px,#0327ec 519px)"></i>
<i style="background:linear-gradient(90deg,#02f2fe 18px,#09f9f9 45px,#00f0ff 64px,#00afff 99px,#00f0ff 130px,#0efef6 139px,#18ffde 143px,#2dff82 145px,#39ff6b 147px,#3dff63 149px,#2fff7e 156px,#2bff8d 157px,#1dffcc 159px,#18ffde 160px,#0ffff5 166px,#00d6ff 186px,#00a9ff 194px,#007ffb 198px,#003bf1 207px,#0619e7 216px,#0a0be1 236px,#0813e5 252px,#012cee 264px,#00acff 283px,#00d6ff 291px,#00e5ff 298px,#02f2fe 317px,#13ffec 409px,#0ffff5 426px,#00f0ff 456px,#00d7ff 476px,#00acff 491px,#0069f9 504px,#022cee 520px)"></i>
<i style="background:linear-gradient(90deg,#02f2fe 17px,#09f9f9 45px,#00efff 65px,#00b0ff 100px,#00f0ff 130px,#0efef6 139px,#17ffe1 143px,#1cffce 144px,#28ff98 145px,#31ff7b 146px,#3bff66 149px,#2fff7f 156px,#2aff90 157px,#1cffd1 159px,#18ffdf 160px,#0ffff5 166px,#00d7ff 186px,#00aaff 194px,#007ffb 198px,#003cf2 207px,#0619e7 216px,#0a0be1 236px,#0813e4 251px,#0229ed 262px,#00abff 281px,#00d8ff 290px,#00e6ff 297px,#0dfdf6 361px,#15ffe5 412px,#0ffff5 435px,#00f0ff 460px,#00d8ff 479px,#00acff 494px,#0032f0 521px)"></i>
<i style="background:linear-gradient(90deg,#02f2fd 17px,#09f9f9 45px,#00efff 65px,#00b1ff 100px,#00efff 130px,#0dfdf6 139px,#18ffdd 144px,#2dff82 146px,#37ff6e 148px,#3aff69 150px,#2fff7f 156px,#2aff91 157px,#1bffd3 159px,#18ffdf 160px,#0ffff4 166px,#01f1ff 176px,#00d7ff 186px,#00abff 194px,#0080fc 198px,#003ef2 207px,#0619e7 216px,#0a0be1 236px,#0814e5 251px,#0229ed 261px,#00adff 280px,#00d6ff 288px,#00e7ff 296px,#0ffff5 361px,#18ffdf 414px,#0ffff5 442px,#00d6ff 483px,#00a9ff 498px,#0040f2 521px)"></i>
<i style="background:linear-gradient(90deg,#03f3fd 16px,#09f9f9 46px,#00f0ff 65px,#00b1ff 101px,#00efff 130px,#0efef6 140px,#17ffe0 144px,#1dffcb 145px,#28ff9a 146px,#2fff7d 147px,#38ff6c 150px,#2fff7f 156px,#2aff90 157px,#1bffd4 159px,#18ffe0 160px,#10fff4 166px,#00dcff 185px,#00acff 194px,#0081fc 198px,#0039f1 208px,#0716e5 217px,#0a0be2 227px,#090de2 242px,#0325eb 259px,#0033f0 262px,#00aaff 278px,#00d7ff 287px,#00e3ff 292px,#02f2fe 308px,#0efef6 349px,#19ffdc 401px,#1effc6 410px,#20ffbe 420px,#1effc5 425px,#19ffdc 430px,#0ffff4 447px,#00e9ff 474px,#00d7ff 486px,#00adff 500px,#004af4 522px)"></i>
<i style="background:linear-gradient(90deg,#04f4fc 15px,#0afaf9 46px,#00efff 66px,#00b2ff 101px,#00f0ff 131px,#0efef6 140px,#19ffdd 145px,#2bff8b 147px,#31ff7b 148px,#37ff6f 151px,#2fff7e 156px,#2aff8f 157px,#1bffd3 159px,#18ffe0 160px,#0efef6 167px,#00d9ff 186px,#00adff 194px,#007bfb 199px,#0036f1 209px,#0814e5 218px,#0a0ce2 227px,#090de2 241px,#0324eb 258px,#0033f0 261px,#00abff 277px,#00d8ff 286px,#00e4ff 291px,#0efef6 343px,#19ffdc 394px,#24ffaa 408px,#29ff92 424px,#26ffa0 430px,#19ffdd 438px,#0efef5 453px,#00ebff 476px,#00d8ff 489px,#00b8ff 500px,#0054f6 523px)"></i>
<i style="background:linear-gradient(90deg,#05f5fc 14px,#0afaf9 46px,#00efff 66px,#00b2ff 101px,#02f2fd 133px,#0ffff5 141px,#17ffe0 145px,#1bffd1 146px,#2dff83 148px,#35ff72 152px,#2fff7e 156px,#2bff8d 157px,#1cffd0 159px,#18ffdf 160px,#0efef6 167px,#00d9ff 186px,#00aeff 194px,#007cfb 199px,#0038f1 209px,#0715e5 218px,#0a0be2 228px,#0714e5 250px,#0327ec 258px,#00acff 276px,#00d8ff 285px,#00f0ff 300px,#0cfcf7 328px,#19ffdc 391px,#2cff88 415px,#30ff7d 427px,#2cff86 434px,#19ffdc 443px,#0ffff5 457px,#00f0ff 473px,#00d7ff 493px,#00abff 507px,#005cf7 524px)"></i>
<i style="background:linear-gradient(90deg,#05f5fb 14px,#0afaf9 47px,#00f0ff 66px,#00b3ff 102px,#02f2fe 133px,#10fff3 142px,#18ffde 146px,#2dff81 149px,#34ff74 153px,#2fff7e 156px,#2bff8a 157px,#1dffcb 159px,#18ffdf 160px,#0ffff5 167px,#00daff 186px,#00aaff 195px,#007ffb 199px,#0036f1 210px,#0715e5 218px,#0a0ce2 228px,#0814e5 249px,#0325eb 257px,#0068f9 267px,#00abff 275px,#00d9ff 284px,#00f0ff 298px,#0cfcf7 325px,#19ffdc 390px,#2dff82 414px,#34ff75 430px,#2cff85 440px,#19ffdc 448px,#0ffff4 460px,#00f0ff 477px,#00d8ff 496px,#00abff 510px,#0067f9 524px)"></i>
<i style="background:linear-gradient(90deg,#06f6fb 13px,#0afaf9 47px,#00efff 67px,#00b3ff 102px,#01f1fe 133px,#0ffff5 142px,#19ffdc 147px,#28ff98 149px,#2eff81 150px,#33ff76 153px,#2cff88 157px,#18ffde 160px,#0ffff5 167px,#00f0ff 177px,#00dbff 186px,#00abff 195px,#007afb 200px,#0033f0 211px,#0814e5 219px,#090ce2 228px,#0814e5 249px,#0327ec 257px,#00a9ff 274px,#00d8ff 282px,#00eeff 294px,#0cfcf7 322px,#19ffdc 391px,#2dff81 413px,#38ff6d 433px,#2eff7f 444px,#19ffdd 453px,#0ffff5 464px,#00f0ff 480px,#00d6ff 500px,#00acff 513px,#006efa 525px)"></i>
<i style="background:linear-gradient(90deg,#07f7fb 12px,#0afaf8 47px,#00f0ff 67px,#00b4ff 103px,#00f0ff 133px,#0efef6 142px,#18ffe0 147px,#1bffd3 148px,#29ff95 150px,#2eff81 151px,#32ff78 154px,#2cff86 157px,#19ffdd 160px,#0ffff5 167px,#00f0ff 177px,#00d8ff 187px,#00acff 195px,#007dfb 200px,#0035f1 211px,#0715e5 219px,#090ce2 229px,#0814e5 249px,#0325eb 256px,#0034f0 259px,#00a7ff 273px,#00d9ff 281px,#00f0ff 294px,#0dfdf6 320px,#19ffdc 390px,#2dff81 411px,#3cff63 435px,#39ff6a 442px,#2eff80 449px,#19ffdd 457px,#0ffff4 467px,#00f0ff 483px,#00d7ff 503px,#00abff 516px,#0074fb 526px)"></i>
<i style="background:linear-gradient(90deg,#07f7fa 12px,#0afaf9 48px,#00efff 68px,#00b5ff 103px,#01f1fe 134px,#0ffff5 143px,#18ffde 148px,#2eff81 152px,#31ff7b 154px,#2cff85 157px,#19ffdc 160px,#0ffff4 167px,#00f0ff 177px,#00d9ff 187px,#00aeff 195px,#0079fb 201px,#0032f0 212px,#0814e5 220px,#090ce2 229px,#0814e5 249px,#0326eb 256px,#0036f1 259px,#00a6ff 272px,#00d9ff 280px,#00f0ff 293px,#0dfdf7 317px,#19ffdc 389px,#2dff83 408px,#3aff68 421px,#42ff59 437px,#3dff63 445px,#2fff7f 453px,#19ffdd 461px,#0efef5 471px,#00f0ff 486px,#00d7ff 506px,#00abff 519px,#0080fb 526px)"></i>
<i style="background:linear-gradient(90deg,#07f7fa 11px,#0afaf9 48px,#00f0ff 68px,#00b5ff 103px,#00f0ff 134px,#0ffff4 144px,#19ffdd 149px,#2aff91 152px,#2dff81 153px,#2fff7d 155px,#2cff86 157px,#1affd6 160px,#18ffdf 161px,#0efef5 168px,#00daff 187px,#00aaff 196px,#007cfb 201px,#0030ef 213px,#0813e4 221px,#090ce2 230px,#061ce8 253px,#0130ef 258px,#00a4ff 271px,#00d6ff 278px,#00f0ff 291px,#07f7fa 302px,#19ffdc 387px,#2eff81 406px,#40ff5c 422px,#47ff4d 438px,#42ff59 447px,#2eff7f 457px,#1affd9 464px,#0efef5 474px,#01f1ff 488px,#00d7ff 509px,#00aaff 522px,#0089fc 527px)"></i>
<i style="background:linear-gradient(90deg,#08f8fa 10px,#0afaf9 49px,#00f0ff 69px,#00b6ff 104px,#01f1fe 135px,#0efef5 144px,#19ffdc 150px,#2aff91 153px,#2eff80 155px,#2cff88 157px,#1cffd0 160px,#18ffde 161px,#0ffff5 168px,#00f0ff 178px,#00d7ff 188px,#00acff 196px,#0078fb 202px,#0033f0 213px,#0714e5 221px,#090ce2 231px,#061ce8 253px,#0031ef 258px,#00abff 271px,#00d5ff 277px,#00edff 287px,#07f7fa 301px,#19ffdc 385px,#2dff82 403px,#45ff52 423px,#4eff40 439px,#48ff4d 448px,#2eff81 461px,#19ffdd 468px,#10fff4 476px,#01f1fe 490px,#00d8ff 512px,#00b1ff 523px,#0093fd 528px)"></i>
<i style="background:linear-gradient(90deg,#08f8fa 10px,#00f0ff 69px,#00b7ff 105px,#00f0ff 135px,#0ffff5 145px,#18ffdf 150px,#1affd6 151px,#29ff92 154px,#2cff86 156px,#27ff9c 158px,#18ffde 161px,#0ffff5 168px,#00f0ff 178px,#00d8ff 188px,#00a7ff 197px,#004df5 209px,#051ce8 219px,#0910e3 225px,#0a0ce2 237px,#0714e5 250px,#022cee 257px,#00a6ff 270px,#00d4ff 276px,#00efff 286px,#0cfcf7 314px,#0ffff4 342px,#19ffdc 385px,#2dff82 403px,#4cff43 428px,#54ff34 440px,#4dff42 450px,#2fff7f 464px,#19ffdd 471px,#0ffff4 479px,#01f1fe 493px,#00d8ff 515px,#00a5ff 528px)"></i>
<i style="background:linear-gradient(90deg,#0afaf9 9px,#00f0ff 70px,#00b7ff 105px,#01f1ff 136px,#10fff4 146px,#18ffde 151px,#26ffa3 154px,#2aff90 156px,#27ff9f 158px,#19ffdd 161px,#0efef5 169px,#00efff 179px,#00d6ff 189px,#00abff 197px,#0050f5 209px,#061be7 220px,#090ce2 238px,#0714e5 250px,#012cee 257px,#00d3ff 275px,#00f0ff 285px,#0ffff5 342px,#19ffdc 389px,#2dff83 406px,#53ff37 432px,#5aff29 442px,#50ff3b 453px,#2dff82 468px,#19ffdd 474px,#0ffff5 482px,#01f1fe 496px,#00d9ff 517px,#00aeff 529px)"></i>
<i style="background:linear-gradient(90deg,#0afaf8 9px,#00efff 71px,#00b8ff 106px,#00efff 136px,#0efef5 146px,#18ffde 152px,#25ffa6 155px,#27ff9d 157px,#22ffb4 159px,#19ffdc 161px,#0ffff5 169px,#00f0ff 179px,#00d8ff 189px,#00adff 197px,#0054f6 209px,#061ae7 221px,#090ce2 238px,#0814e5 250px,#0031f0 258px,#00d1ff 274px,#00f0ff 284px,#0ffff5 343px,#19ffdc 394px,#2dff83 409px,#57ff2d 435px,#5fff1e 445px,#55ff32 455px,#2dff82 471px,#18ffdd 477px,#10fff3 484px,#02f2fe 497px,#00e0ff 516px,#00b9ff 529px)"></i>
<i style="background:linear-gradient(90deg,#0cfcf7 8px,#00f0ff 71px,#00b9ff 106px,#00f0ff 137px,#0ffff5 147px,#19ffdd 153px,#21ffb8 155px,#25ffa8 157px,#21ffb8 159px,#19ffdc 161px,#0efef6 170px,#00efff 180px,#00d5ff 190px,#00abff 198px,#0057f6 209px,#051de8 221px,#0910e3 227px,#090ce2 238px,#0814e5 250px,#0031f0 258px,#00aaff 269px,#00d6ff 274px,#00f0ff 283px,#12ffed 368px,#19ffdd 397px,#2dff82 411px,#5aff27 437px,#63ff15 447px,#5aff29 457px,#2dff82 474px,#1affd9 479px,#0ffff5 487px,#00e3ff 517px,#00beff 530px)"></i>
<i style="background:linear-gradient(90deg,#0efef6 7px,#00f0ff 72px,#00baff 107px,#00eeff 137px,#0ffff5 148px,#19ffdd 154px,#22ffb5 157px,#20ffbe 159px,#19ffdc 161px,#0ffff5 170px,#00f0ff 180px,#00d7ff 190px,#00aeff 198px,#0060f8 208px,#061ce8 222px,#090fe3 228px,#090de2 239px,#0814e5 250px,#0031ef 258px,#00d2ff 273px,#00f0ff 282px,#11fff0 367px,#19ffdc 400px,#2eff80 413px,#5fff1f 440px,#68ff0d 450px,#5cff25 460px,#2dff83 477px,#19ffdd 482px,#10fff3 489px,#02f2fe 502px,#00e4ff 519px,#00c3ff 531px)"></i>
<i style="background:linear-gradient(90deg,#0ffff5 7px,#00efff 73px,#00bbff 108px,#00efff 138px,#0efef6 148px,#19ffdc 155px,#1fffc1 158px,#19ffdc 161px,#0efef5 171px,#00f0ff 181px,#00d5ff 191px,#00acff 199px,#0064f8 208px,#061be7 223px,#090de2 239px,#0814e5 250px,#0030ef 258px,#00d5ff 273px,#00f0ff 281px,#0ffff4 359px,#19ffdc 403px,#2dff82 414px,#56ff2f 435px,#6cff05 452px,#60ff1d 462px,#2fff7e 479px,#2cff87 480px,#1bffd4 484px,#18ffde 485px,#0ffff5 492px,#00e7ff 520px,#00cbff 531px)"></i>
<i style="background:linear-gradient(90deg,#10fff3 6px,#00f0ff 73px,#00bcff 108px,#00f0ff 139px,#0efef6 149px,#1cffce 158px,#0efef6 172px,#01f1ff 181px,#00d3ff 192px,#00aaff 200px,#0061f8 209px,#061ae7 224px,#090ee2 239px,#0814e5 250px,#0030ef 258px,#00d8ff 273px,#00f0ff 280px,#0ffff5 363px,#19ffdc 406px,#2dff83 416px,#51ff39 432px,#6cff04 449px,#6eff00 456px,#61ff1a 465px,#2eff7f 482px,#19ffdc 487px,#10fff3 494px,#08f8fa 500px,#00e8ff 522px,#00cfff 532px)"></i>
<i style="background:linear-gradient(90deg,#11fff1 6px,#00f0ff 74px,#00bdff 109px,#00f0ff 140px,#0efef5 150px,#19ffda 159px,#0ffff5 172px,#00f0ff 182px,#00d6ff 192px,#00a8ff 201px,#0065f8 209px,#061ae7 225px,#090ee3 240px,#0814e5 250px,#0130ef 258px,#0056f6 262px,#00a8ff 268px,#00d2ff 272px,#00f0ff 280px,#0ffff5 371px,#19ffdc 409px,#2cff85 418px,#56ff31 434px,#6eff00 450px,#6eff00 461px,#5fff1d 469px,#2dff81 485px,#1bffd3 489px,#18ffde 490px,#0afaf9 501px,#00eaff 523px,#00d8ff 532px)"></i>
<i style="background:linear-gradient(90deg,#12ffee 5px,#0bfbf8 16px,#00f0ff 75px,#00beff 110px,#00f0ff 141px,#0efef5 151px,#18ffdd 159px,#0ffff5 173px,#00efff 183px,#00d4ff 193px,#00adff 201px,#0063f8 210px,#051de8 225px,#090fe3 240px,#0814e5 250px,#012fef 258px,#0055f6 262px,#00aaff 268px,#00d4ff 272px,#00f0ff 279px,#0ffff5 380px,#19ffdd 411px,#2cff87 420px,#59ff2a 436px,#6eff01 450px,#6fff00 465px,#60ff1c 472px,#2fff7d 487px,#2cff86 488px,#19ffdc 492px,#0bfbf7 502px,#00ebff 525px,#00dbff 533px)"></i>
<i style="background:linear-gradient(90deg,#13ffeb 5px,#0cfcf7 16px,#00f0ff 75px,#00bfff 110px,#01f1fe 142px,#0efef5 152px,#18ffdf 160px,#0efef5 174px,#00efff 184px,#00d3ff 194px,#00acff 202px,#0067f9 210px,#051de8 226px,#0910e3 240px,#0814e5 250px,#012fef 258px,#0055f6 262px,#00acff 268px,#00d7ff 272px,#01f1ff 279px,#0ffff5 387px,#18ffdd 413px,#19ffdc 414px,#2eff81 423px,#5cff24 438px,#6eff00 451px,#6eff00 469px,#60ff1b 475px,#2eff7f 490px,#1bffd2 494px,#18ffde 495px,#0cfcf7 504px,#00e1ff 533px)"></i>
<i style="background:linear-gradient(90deg,#16ffe5 4px,#0dfdf7 16px,#00f0ff 76px,#00c1ff 111px,#00f0ff 142px,#0efef5 153px,#17ffe0 161px,#0efef6 175px,#00d6ff 194px,#00abff 203px,#0066f9 211px,#0421ea 226px,#0811e4 241px,#0714e5 250px,#012fef 258px,#0054f6 262px,#00adff 268px,#00cfff 271px,#00f0ff 278px,#0ffff5 392px,#17ffe1 413px,#19ffdc 416px,#2dff81 425px,#5fff1e 440px,#6eff00 451px,#6fff00 472px,#61ff1b 478px,#2dff82 493px,#19ffdc 497px,#0efef5 505px,#00e5ff 534px)"></i>
<i style="background:linear-gradient(90deg,#17ffe0 4px,#0dfdf6 17px,#00f0ff 77px,#00c2ff 112px,#00f0ff 143px,#0efef5 154px,#17ffe2 161px,#0ffff5 175px,#00f0ff 185px,#00d5ff 195px,#00abff 204px,#0066f9 212px,#0422ea 227px,#0812e4 241px,#0714e5 250px,#012eef 258px,#0054f6 262px,#00afff 268px,#00d2ff 271px,#00f0ff 278px,#0efef5 394px,#16ffe3 414px,#19ffdd 418px,#2dff81 427px,#61ff19 442px,#6eff00 452px,#6eff00 476px,#2fff7d 495px,#2bff89 496px,#18ffdd 500px,#0efef6 508px,#00eaff 534px)"></i>
<i style="background:linear-gradient(90deg,#1cffcd 4px,#17ffe0 5px,#14ffe7 7px,#0efef6 17px,#00f0ff 78px,#00c3ff 113px,#00f0ff 144px,#0efef5 155px,#16ffe4 162px,#0ffff5 176px,#00f0ff 186px,#00d4ff 196px,#00aaff 205px,#0065f9 213px,#0423ea 228px,#0813e4 242px,#0716e6 251px,#0034f0 259px,#0061f8 263px,#00a3fe 267px,#00d5ff 271px,#01f1fe 278px,#0dfdf6 394px,#16ffe5 415px,#1affd7 421px,#2eff81 429px,#64ff15 444px,#6eff00 452px,#6eff00 479px,#2eff7f 498px,#1affd8 502px,#18ffdf 503px,#0ffff5 510px,#00edff 534px)"></i>
<i style="background:linear-gradient(90deg,#35ff71 3px,#28ff97 4px,#1cffce 5px,#18ffdf 6px,#0efef5 18px,#00efff 79px,#00c4ff 113px,#00f0ff 144px,#0efef6 156px,#15ffe5 164px,#0ffff5 177px,#00f0ff 187px,#00cfff 198px,#00aaff 206px,#0066f9 214px,#0327ec 228px,#0814e5 242px,#0716e6 251px,#0032f0 259px,#0053f5 262px,#00a7ff 267px,#00d8ff 271px,#00f0ff 277px,#0bfbf7 392px,#15ffe7 416px,#1affd8 423px,#2eff81 431px,#3eff61 436px,#5bff27 442px,#66ff11 446px,#6eff00 453px,#76fd00 467px,#6eff00 482px,#2dff82 501px,#19ffdc 505px,#0efef5 513px,#00efff 535px)"></i>
<i style="background:linear-gradient(90deg,#41ff5b 3px,#28ff99 5px,#1dffcc 6px,#18ffdf 7px,#0ffff5 19px,#00f0ff 79px,#00c6ff 114px,#00f0ff 145px,#0ffff4 158px,#15ffe6 166px,#0efef5 178px,#00f0ff 188px,#00d3ff 198px,#00abff 207px,#0066f9 215px,#0325eb 230px,#0814e5 249px,#0031ef 259px,#0052f5 262px,#00abff 267px,#00d2ff 270px,#01f1fe 277px,#06f6fb 376px,#0ffff5 405px,#15ffe7 418px,#1affd9 425px,#2eff80 433px,#3eff5f 438px,#5cff23 444px,#68ff0d 448px,#6eff00 453px,#76fd00 467px,#6eff00 485px,#5dff23 491px,#2cff85 504px,#19ffdd 508px,#0efef5 516px,#00f0ff 535px)"></i>
<i style="background:linear-gradient(90deg,#61ff19 2px,#3fff5f 4px,#28ff98 6px,#1effc7 7px,#18ffde 8px,#0ffff5 21px,#00f0ff 80px,#00c7ff 115px,#00f0ff 146px,#0ffff5 159px,#15ffe7 167px,#0efef5 179px,#00f0ff 189px,#00cfff 200px,#00abff 208px,#0067f9 216px,#0326ec 231px,#0813e4 249px,#0037f1 260px,#0061f8 263px,#00aeff 267px,#00d7ff 270px,#00efff 275px,#02f2fe 354px,#0ffff5 407px,#18ffdd 426px,#19ffda 427px,#2eff80 435px,#3fff5d 440px,#5eff20 446px,#69ff09 450px,#6eff00 454px,#77fd00 469px,#6eff00 488px,#30ff7d 506px,#2cff88 507px,#19ffdd 511px,#0efef5 519px,#00f0ff 536px)"></i>
<i style="background:linear-gradient(90deg,#6fff00 2px,#3eff61 5px,#29ff93 7px,#1fffc0 8px,#18ffdd 9px,#0ffff5 23px,#00f0ff 81px,#00c8ff 115px,#00efff 146px,#0efef5 160px,#14ffe8 168px,#0efef6 180px,#00f0ff 190px,#00cfff 201px,#00acff 209px,#0069f9 217px,#0327ec 232px,#0812e4 249px,#0035f1 260px,#0050f5 262px,#00a1fe 266px,#00d0ff 269px,#00f0ff 275px,#05f5fc 381px,#14ffe9 421px,#19ffdb 429px,#2cff88 436px,#40ff5c 442px,#60ff1c 448px,#6bff06 452px,#78fd00 471px,#6eff00 491px,#30ff7d 509px,#2cff88 510px,#19ffdd 514px,#0ffff5 522px,#01f1fe 536px)"></i>
<i style="background:linear-gradient(90deg,#75fe00 2px,#6eff01 3px,#4aff47 5px,#2bff8c 8px,#19ffdd 10px,#0ffff5 26px,#00f0ff 82px,#00caff 116px,#00f0ff 147px,#0ffff5 162px,#14ffe9 170px,#0efef6 181px,#00f0ff 191px,#00cfff 202px,#00a7ff 211px,#006bf9 218px,#0328ec 233px,#0716e5 241px,#0812e4 249px,#0033f0 260px,#0063f8 263px,#00a9ff 266px,#00d7ff 269px,#01f1ff 275px,#04f4fc 383px,#14ffea 423px,#19ffdc 431px,#2cff87 438px,#41ff5a 444px,#61ff1a 450px,#6dff03 454px,#78fd00 474px,#6eff00 494px,#2cff85 513px,#19ffdc 517px,#0ffff5 525px,#02f2fd 536px)"></i>
<i style="background:linear-gradient(90deg,#86fc00 1px,#6cff04 4px,#49ff49 6px,#2dff82 9px,#1affd9 11px,#16ffe3 13px,#0ffff5 28px,#00efff 83px,#00cbff 118px,#00f0ff 148px,#0ffff5 163px,#13ffea 172px,#0cfcf7 184px,#00d3ff 202px,#00a9ff 212px,#0072fa 218px,#0030ef 232px,#061be7 238px,#0813e4 245px,#0716e5 252px,#0032f0 260px,#0051f5 262px,#00b0ff 266px,#00d0ff 268px,#00e8ff 271px,#00f0ff 274px,#00e8ff 317px,#03f3fd 386px,#13ffea 425px,#19ffdc 433px,#2cff86 440px,#41ff59 446px,#62ff17 452px,#6eff00 456px,#79fd00 476px,#6eff00 497px,#2dff82 516px,#1affd6 520px,#18ffde 521px,#0ffff5 528px,#03f3fd 537px)"></i>
<i style="background:linear-gradient(90deg,#93fc00 1px,#6aff07 5px,#4aff48 7px,#2fff7f 10px,#1cffd1 12px,#16ffe2 14px,#0ffff5 30px,#00f0ff 83px,#00cdff 119px,#00f0ff 149px,#0ffff5 165px,#13ffeb 173px,#0cfcf7 185px,#00d4ff 203px,#00abff 213px,#0074fb 219px,#0050f5 228px,#0326ec 235px,#0812e4 245px,#0716e6 252px,#0032f0 260px,#0053f5 262px,#00a4fe 265px,#00d8ff 268px,#00f0ff 273px,#00e2ff 329px,#04f4fc 393px,#13ffec 426px,#19ffdc 435px,#2cff84 442px,#3eff61 447px,#5fff1e 453px,#6dff02 457px,#79fd00 478px,#6eff00 500px,#2eff80 519px,#18ffdd 524px,#0ffff4 531px,#07f7fb 537px)"></i>
<i style="background:linear-gradient(90deg,#a2fc00 1px,#82fc00 3px,#69ff09 6px,#4bff46 8px,#31ff7b 11px,#1effc6 13px,#18ffde 14px,#11fff0 23px,#00f0ff 84px,#00ceff 119px,#00f0ff 150px,#0ffff5 166px,#13ffec 174px,#0dfdf7 185px,#00edff 195px,#00b1ff 213px,#0077fb 220px,#0051f5 229px,#0229ed 235px,#0812e4 244px,#0717e6 252px,#0033f0 260px,#0056f6 262px,#00aeff 265px,#00d2ff 267px,#00f0ff 272px,#02f2fd 286px,#00ddff 329px,#04f4fc 397px,#13ffec 428px,#19ffdc 437px,#2dff83 444px,#3eff60 449px,#60ff1c 455px,#6eff00 459px,#79fd00 481px,#6eff00 503px,#2eff80 522px,#19ffdd 527px,#0bfbf8 537px)"></i>
<i style="background:linear-gradient(90deg,#c9fc00 0px,#8ffc00 3px,#69ff09 7px,#4dff42 9px,#2aff8f 13px,#19ffdc 15px,#11fff0 24px,#00f0ff 84px,#00d0ff 120px,#00f0ff 151px,#0ffff5 168px,#12ffed 175px,#0dfdf7 186px,#00edff 196px,#00b3ff 214px,#007afb 221px,#0057f6 229px,#0421ea 237px,#0812e4 244px,#0619e7 253px,#0036f1 260px,#005cf7 262px,#009efe 264px,#00cbff 266px,#00e2ff 268px,#00f0ff 271px,#02f2fd 285px,#00dbff 332px,#05f5fc 402px,#13ffec 430px,#19ffdc 439px,#2dff82 446px,#3fff5f 451px,#61ff1a 457px,#6dff03 460px,#7afd00 482px,#6fff00 506px,#2eff80 525px,#1bffd4 529px,#18ffde 530px,#0dfdf6 538px)"></i>
<i style="background:linear-gradient(90deg,#d6fb00 0px,#8efc00 4px,#6aff08 8px,#46ff51 11px,#2dff82 14px,#1bffd3 16px,#17ffe2 18px,#11fff0 25px,#00f0ff 85px,#00d1ff 122px,#00f0ff 152px,#0ffff5 169px,#12ffee 177px,#0bfbf7 188px,#00eeff 197px,#00b5ff 215px,#007efb 222px,#0057f6 230px,#0324eb 237px,#0812e4 244px,#061ae7 253px,#0032f0 259px,#004bf4 261px,#0063f8 262px,#00acff 264px,#00d6ff 266px,#01f1fe 271px,#00daff 333px,#04f4fc 404px,#12ffed 432px,#19ffdc 441px,#2dff81 448px,#3fff5e 453px,#62ff18 459px,#6eff01 462px,#7afd00 485px,#6fff00 509px,#30ff7d 527px,#2cff87 528px,#18ffdd 532px,#11fff1 538px)"></i>
<i style="background:linear-gradient(90deg,#e3fa00 0px,#9bfc00 4px,#6cff04 9px,#49ff4a 12px,#30ff7d 15px,#1effc5 17px,#18ffdd 18px,#11fff0 26px,#00f0ff 86px,#00d4ff 113px,#00d2ff 124px,#00f0ff 153px,#0ffff5 171px,#11ffef 178px,#0bfbf8 189px,#00eeff 198px,#00b7ff 216px,#0422ea 238px,#0811e4 244px,#061be7 253px,#0038f1 259px,#0051f5 261px,#00ceff 265px,#00e6ff 267px,#01f1fe 270px,#00daff 335px,#03f3fd 405px,#12ffee 433px,#19ffdc 443px,#2eff81 450px,#40ff5c 455px,#63ff17 461px,#6eff00 464px,#7afd00 487px,#6fff00 512px,#63ff16 516px,#30ff7b 529px,#2cff85 530px,#1bffd1 533px,#18ffde 534px,#13ffea 538px)"></i>
<i style="background:linear-gradient(90deg,#ecf900 0px,#9bfc00 5px,#6eff00 10px,#2aff8d 17px,#1affda 19px,#11fff0 28px,#00f0ff 87px,#00d3ff 125px,#00f0ff 154px,#0efef5 172px,#0bfbf8 190px,#00eeff 199px,#00b9ff 217px,#0520e9 239px,#0810e3 245px,#051fe9 254px,#0047f4 260px,#0074fb 262px,#00c0ff 264px,#00d9ff 265px,#02f2fe 269px,#00dbff 338px,#03f3fd 408px,#12ffee 435px,#19ffdd 445px,#2eff80 452px,#41ff5b 457px,#64ff15 463px,#6eff00 466px,#7afd00 490px,#6fff00 515px,#5fff1d 520px,#30ff7c 531px,#2bff8c 532px,#19ffdd 535px,#15ffe6 538px)"></i>
<i style="background:linear-gradient(90deg,#f0f700 0px,#eafa00 1px,#b6fc00 4px,#84fc00 8px,#6fff00 11px,#2eff80 18px,#1dffcc 20px,#18ffde 21px,#11fff0 29px,#00f0ff 88px,#00d5ff 126px,#00f0ff 155px,#0ffff5 174px,#0bfbf8 191px,#00efff 200px,#00bbff 218px,#051ee8 240px,#090fe3 245px,#0520e9 254px,#004ef5 260px,#005ef7 261px,#00caff 264px,#00e0ff 265px,#02f2fe 268px,#00dbff 341px,#03f3fd 410px,#12ffee 437px,#19ffdd 447px,#2eff80 454px,#41ff59 459px,#6dff02 467px,#7bfc00 491px,#6fff00 518px,#5fff1f 523px,#2eff80 533px,#19ffdc 536px,#16ffe4 539px)"></i>
<i style="background:linear-gradient(90deg,#f3f600 0px,#e6fa00 2px,#b6fc00 5px,#7bfc00 10px,#6bff06 13px,#4bff47 16px,#31ff7a 19px,#19ffdc 22px,#11fff1 31px,#00f0ff 88px,#00daff 110px,#00d6ff 128px,#00f0ff 156px,#0efef6 175px,#0afaf8 193px,#00efff 201px,#00c1ff 218px,#00adff 222px,#0422ea 240px,#090fe3 246px,#0325eb 255px,#0055f6 260px,#0064f8 261px,#0083fc 262px,#00d4ff 264px,#00e6ff 265px,#03f3fd 267px,#00daff 343px,#02f2fe 409px,#11ffef 439px,#19ffdd 449px,#2fff7f 456px,#42ff58 461px,#65ff11 467px,#6fff00 470px,#7bfc00 495px,#6fff00 521px,#5cff23 526px,#30ff7b 534px,#2aff91 535px,#1bffd5 537px,#17ffe0 539px)"></i>
<i style="background:linear-gradient(90deg,#f5f100 0px,#edf900 2px,#7cfc00 11px,#6fff00 14px,#45ff53 18px,#2dff82 21px,#1cffcf 23px,#18ffde 24px,#11fff0 32px,#00f0ff 89px,#00dbff 111px,#00d6ff 129px,#00f0ff 157px,#0efef6 176px,#0afaf8 194px,#00d8ff 213px,#00c3ff 219px,#00a8ff 224px,#012eee 239px,#090ee3 246px,#012cee 256px,#006af9 261px,#0088fc 262px,#00d9ff 264px,#00ecff 265px,#06f6fb 267px,#00e9ff 320px,#00d8ff 344px,#03f3fd 414px,#12ffee 442px,#19ffdd 451px,#2cff87 457px,#43ff56 463px,#6eff00 471px,#7bfc00 498px,#6dff03 524px,#58ff2c 529px,#2eff81 536px,#1fffc1 538px,#1affd6 539px)"></i>
<i style="background:linear-gradient(90deg,#f5eb00 0px,#ecf900 3px,#7efc00 12px,#71fe00 15px,#6aff08 16px,#49ff4a 19px,#30ff7b 22px,#19ffdc 25px,#0ffff5 40px,#02f2fe 72px,#00d7ff 130px,#00f0ff 159px,#0efef6 178px,#09f9f9 196px,#00d7ff 215px,#00c4ff 220px,#00abff 225px,#012dee 240px,#090de2 247px,#0327ec 255px,#0037f1 257px,#006ffa 261px,#008bfc 262px,#00dcff 264px,#00f0ff 265px,#08f8fa 267px,#00ecff 283px,#00edff 319px,#00d4ff 344px,#02f2fd 416px,#12ffee 444px,#19ffdc 453px,#2dff83 459px,#40ff5d 464px,#63ff17 470px,#6eff00 473px,#7bfc00 499px,#6eff00 525px,#50ff3b 532px,#2cff85 538px,#27ff9f 539px)"></i>
<i style="background:linear-gradient(90deg,#f5e400 0px,#ebfa00 4px,#82fc00 13px,#6eff00 17px,#44ff55 21px,#2dff84 24px,#1cffcf 26px,#18ffde 27px,#0ffff5 40px,#02f2fd 71px,#00d8ff 133px,#00f0ff 160px,#0efef5 181px,#01f1ff 204px,#00d6ff 217px,#00adff 226px,#012eee 241px,#090de2 248px,#0036f1 257px,#0072fa 261px,#008cfc 262px,#00ddff 264px,#01f1fe 265px,#09f9f9 267px,#00edff 281px,#00edff 319px,#00daff 330px,#00d1ff 346px,#02f2fe 416px,#12ffee 446px,#19ffdc 455px,#2dff81 461px,#46ff51 467px,#64ff14 472px,#6fff00 475px,#7bfc00 501px,#6eff00 525px,#57ff2d 532px,#33ff75 539px)"></i>
<i style="background:linear-gradient(90deg,#f5dd00 0px,#f3f600 3px,#eafa00 5px,#7dfc00 15px,#70ff00 18px,#69ff0a 19px,#48ff4d 22px,#30ff7c 25px,#19ffdc 28px,#0ffff5 41px,#02f2fe 73px,#00d8ff 135px,#00f0ff 162px,#0efef6 182px,#00f0ff 206px,#00d8ff 218px,#00abff 228px,#012fef 242px,#090ce2 249px,#0034f0 257px,#0073fa 261px,#008afc 262px,#00ddff 264px,#02f2fe 265px,#0afaf8 267px,#00edff 281px,#00eaff 318px,#00d0ff 349px,#02f2fe 418px,#12ffef 448px,#19ffdc 457px,#2eff80 463px,#42ff57 468px,#65ff12 474px,#6fff00 477px,#7bfc00 503px,#6fff00 525px,#57ff2e 533px,#3fff5f 539px)"></i>
<i style="background:linear-gradient(90deg,#f6d600 0px,#f5f200 3px,#e9fa00 6px,#81fc00 16px,#6eff00 20px,#42ff57 24px,#2cff85 27px,#1cffce 29px,#18ffde 30px,#0ffff5 42px,#02f2fe 75px,#00d8ff 137px,#00f0ff 163px,#0dfdf6 183px,#01f1ff 207px,#00d6ff 220px,#00adff 229px,#0060f8 237px,#0715e5 247px,#090ce2 250px,#0715e5 253px,#003df2 258px,#0087fc 262px,#00d9ff 264px,#00f0ff 265px,#0afaf8 267px,#00efff 278px,#00cfff 353px,#01f1fe 420px,#11ffef 450px,#19ffdc 459px,#2cff88 464px,#6eff00 478px,#7cfc00 506px,#6eff00 526px,#5fff1e 530px,#4aff49 539px)"></i>
<i style="background:linear-gradient(90deg,#f7cf00 0px,#f5f400 4px,#e9fa00 7px,#7dfc00 18px,#70ff00 21px,#68ff0c 22px,#46ff50 25px,#30ff7d 28px,#19ffdc 31px,#0ffff5 43px,#01f1fe 77px,#00d8ff 138px,#00f0ff 165px,#0dfdf6 184px,#00f0ff 209px,#00d8ff 221px,#00b5ff 229px,#0062f8 238px,#0717e6 248px,#0a0ce2 251px,#0813e4 254px,#0037f1 258px,#007ffb 262px,#00e7ff 265px,#0afaf8 267px,#00efff 278px,#00cfff 356px,#01f1fe 422px,#0ffff4 446px,#1affd9 461px,#2dff83 466px,#6eff00 480px,#7cfc00 509px,#6eff00 527px,#5cff25 532px,#54ff33 539px)"></i>
<i style="background:linear-gradient(90deg,#f8c900 0px,#f5f500 5px,#e9fa00 8px,#cbfc00 12px,#82fc00 19px,#6dff02 23px,#4bff47 26px,#2cff86 30px,#1cffcd 32px,#18ffde 33px,#0ffff5 44px,#01f1fe 80px,#00d9ff 140px,#00f0ff 166px,#0dfdf7 185px,#00efff 211px,#00d8ff 223px,#00b8ff 230px,#005cf7 240px,#003ff2 245px,#0714e5 250px,#0a0ce2 253px,#061ae7 256px,#003df2 259px,#0072fa 262px,#008dfd 263px,#00dbff 265px,#02f2fe 266px,#0afaf8 268px,#00f0ff 278px,#00cfff 359px,#01f1fe 425px,#10fff3 450px,#18ffde 462px,#1affd5 463px,#2eff80 468px,#3eff60 472px,#6dff02 481px,#7cfc00 510px,#6fff00 528px,#5bff27 534px,#5dff22 539px)"></i>
<i style="background:linear-gradient(90deg,#f8bf00 0px,#f5f500 6px,#ebfa00 9px,#c6fc00 14px,#7dfc00 21px,#70ff00 24px,#45ff52 28px,#2fff7d 31px,#19ffdc 34px,#0ffff5 45px,#00f0ff 96px,#00d9ff 141px,#00f0ff 168px,#0cfcf7 187px,#00f0ff 212px,#00d7ff 225px,#00bcff 231px,#00a9ff 234px,#005df7 241px,#090ce2 254px,#0717e6 257px,#003df2 260px,#0079fb 263px,#00edff 266px,#0bfbf8 268px,#00e6ff 288px,#00e1ff 329px,#00ceff 362px,#01f1fe 427px,#10fff2 453px,#19ffdd 464px,#2cff88 469px,#6eff00 483px,#7cfc00 517px,#6fff00 529px,#60ff1d 534px,#64ff15 539px)"></i>
<i style="background:linear-gradient(90deg,#f9b600 0px,#f5f500 7px,#dafb00 13px,#82fc00 22px,#6cff03 26px,#4aff48 29px,#2cff87 33px,#1cffcd 35px,#18ffde 36px,#0ffff5 46px,#00f0ff 98px,#00d9ff 143px,#0cfcf7 188px,#00f0ff 213px,#00d8ff 227px,#00bcff 233px,#00a9ff 236px,#0058f6 243px,#090ee2 256px,#051ce8 259px,#003bf1 261px,#0067f9 263px,#0088fc 264px,#00e3ff 266px,#04f4fc 267px,#0bfbf8 269px,#00e5ff 286px,#00e2ff 329px,#00ceff 365px,#01f1fe 429px,#10fff2 455px,#19ffdc 466px,#2dff81 471px,#42ff58 476px,#64ff14 482px,#6fff00 485px,#7cfc00 517px,#6fff00 530px,#66ff10 534px,#6bff05 537px,#69ff0b 539px)"></i>
<i style="background:linear-gradient(90deg,#f9ac00 0px,#f5e000 5px,#f5f400 8px,#dffb00 14px,#7efc00 24px,#70ff00 27px,#45ff52 31px,#2fff7e 34px,#19ffdc 37px,#0ffff5 47px,#00f0ff 99px,#00d9ff 144px,#0cfcf7 190px,#00efff 215px,#00d7ff 230px,#00c0ff 235px,#00aeff 238px,#0054f6 245px,#090fe3 258px,#0717e6 260px,#0033f0 262px,#0070fa 264px,#00c9ff 266px,#00e6ff 267px,#0afaf8 269px,#00e6ff 284px,#08f8fa 295px,#0afaf8 308px,#00e7ff 320px,#00ceff 367px,#01f1fe 431px,#10fff2 457px,#1affd8 468px,#2fff7e 473px,#6dff01 486px,#7bfc00 516px,#6dff03 539px)"></i>
<i style="background:linear-gradient(90deg,#faa200 0px,#f5e000 6px,#f3f600 10px,#eafa00 14px,#84fc00 25px,#6cff03 29px,#4aff48 32px,#2cff88 36px,#1cffcf 38px,#18ffde 39px,#0ffff5 48px,#00f0ff 100px,#00daff 147px,#0bfbf7 195px,#00e0ff 229px,#00d6ff 234px,#00bdff 239px,#00acff 241px,#004ff5 247px,#0812e4 260px,#0031f0 263px,#0074fa 265px,#00d3ff 267px,#00f0ff 268px,#09f9f9 269px,#00e8ff 281px,#0ffff4 288px,#18ffdd 290px,#2aff91 291px,#35ff72 292px,#3dff62 293px,#4aff47 296px,#4fff3d 300px,#4bff45 305px,#40ff5b 309px,#33ff77 311px,#27ff9e 312px,#18ffde 313px,#10fff3 315px,#03f3fd 319px,#00cdff 370px,#01f1fe 433px,#10fff3 458px,#19ffdd 469px,#2dff82 474px,#6eff00 488px,#7bfc00 515px,#6fff00 539px)"></i>
<i style="background:linear-gradient(90deg,#fb9500 0px,#f7cf00 5px,#f4f500 11px,#e8fa00 16px,#7ffc00 27px,#70ff00 30px,#45ff51 34px,#2fff7e 37px,#19ffdd 40px,#0ffff5 49px,#00f0ff 102px,#00daff 148px,#0bfbf8 197px,#00e2ff 233px,#00d7ff 238px,#00bfff 242px,#00abff 244px,#005df7 248px,#0045f3 250px,#0031f0 257px,#061ae7 261px,#0034f0 264px,#0052f5 265px,#00c5ff 267px,#00ecff 268px,#07f7fa 269px,#00eaff 277px,#0dfdf6 282px,#14ffe8 283px,#29ff95 284px,#40ff5b 285px,#51ff3b 286px,#6bff07 289px,#70ff00 290px,#6eff00 308px,#60ff1d 311px,#3fff5e 314px,#32ff78 315px,#20ffbe 316px,#16ffe3 317px,#0efef5 319px,#00f0ff 331px,#00cdff 372px,#00d0ff 391px,#01f1fe 435px,#11fff1 462px,#19ffdc 471px,#2fff7e 476px,#6dff02 489px,#7bfc00 508px,#70ff00 539px)"></i>
<i style="background:linear-gradient(90deg,#fc8700 0px,#f8c700 5px,#f5f500 12px,#e5fa00 18px,#7cfc00 29px,#6eff01 32px,#4bff46 35px,#2cff88 39px,#1cffd1 41px,#18ffdf 42px,#0ffff5 50px,#00f0ff 103px,#00daff 150px,#0afaf8 199px,#00e3ff 237px,#00d8ff 242px,#00c4ff 245px,#00aeff 247px,#0063f8 251px,#0046f3 254px,#022aed 263px,#0039f1 265px,#0066f9 266px,#00b0ff 267px,#00dfff 268px,#02f2fe 269px,#00edff 274px,#0bfbf8 278px,#13ffeb 279px,#2bff8a 280px,#46ff51 281px,#6aff09 283px,#72fe00 284px,#7afd00 290px,#6eff00 309px,#5aff28 313px,#33ff77 317px,#27ff9e 318px,#1affd9 319px,#16ffe2 320px,#0efef6 324px,#00efff 340px,#00cdff 372px,#00ceff 392px,#01f1fe 439px,#10fff2 463px,#18ffdd 472px,#1bffd2 473px,#2dff81 477px,#6eff00 491px,#7bfc00 509px,#71fe00 539px)"></i>
<i style="background:linear-gradient(90deg,#fd7800 0px,#f8c500 6px,#f5f100 13px,#ebfa00 19px,#81fc00 30px,#70ff00 33px,#69ff0b 34px,#46ff50 37px,#2fff7d 40px,#19ffdd 43px,#0ffff5 51px,#00f0ff 105px,#00daff 152px,#0afaf9 201px,#00e4ff 241px,#00ceff 248px,#00a9ff 252px,#0073fa 255px,#005cf7 257px,#0036f1 264px,#0039f1 265px,#0051f5 266px,#00c2ff 268px,#00dfff 269px,#00f0ff 272px,#0efef6 275px,#17ffe2 276px,#32ff78 277px,#63ff16 279px,#71fe00 280px,#7bfc00 287px,#6dff02 310px,#5aff27 314px,#2eff7f 321px,#1effc6 323px,#18ffde 324px,#0efef6 330px,#00f0ff 344px,#00cdff 374px,#00ccff 393px,#01f1fe 440px,#0ffff5 462px,#19ffdc 474px,#2cff89 478px,#6dff02 492px,#7bfc00 510px,#72fe00 539px)"></i>
<i style="background:linear-gradient(90deg,#fe6b00 0px,#f8c300 7px,#f5ed00 14px,#e9fa00 21px,#c9fc00 25px,#7cfc00 32px,#6fff00 35px,#42ff57 39px,#2cff88 42px,#1bffd4 44px,#18ffdf 45px,#0efef6 53px,#00f0ff 107px,#00dbff 155px,#09f9f9 203px,#00e2ff 231px,#00e3ff 245px,#00d3ff 252px,#00a9ff 258px,#006af9 264px,#006bf9 265px,#007dfb 266px,#00d2ff 268px,#00e6ff 269px,#01f1fe 271px,#0dfdf7 273px,#20ffbe 274px,#4cff44 275px,#6bff07 276px,#74fe00 277px,#80fc00 291px,#6eff00 313px,#59ff2b 318px,#31ff79 325px,#2aff8e 326px,#19ffdc 328px,#0ffff5 334px,#00efff 348px,#00cdff 376px,#00cbff 395px,#01f1fe 442px,#0ffff5 463px,#18ffdd 475px,#2eff80 480px,#6eff00 494px,#7bfc00 511px,#74fe00 539px)"></i>
<i style="background:linear-gradient(90deg,#ff5f00 0px,#f9ad00 6px,#f5e500 14px,#e7fa00 23px,#c6fc00 27px,#83fc00 33px,#71fe00 36px,#6aff07 37px,#47ff4d 40px,#2fff7d 43px,#18ffdd 46px,#0ffff5 53px,#02f2fe 80px,#00dbff 156px,#07f7fa 207px,#00daff 251px,#00c4ff 263px,#00caff 265px,#00e2ff 267px,#0ffff5 269px,#24ffaa 270px,#33ff77 271px,#2cff87 272px,#39ff6b 273px,#5eff1f 274px,#71fe00 275px,#6cff04 276px,#60ff1d 277px,#62ff18 278px,#70ff00 279px,#8efc00 283px,#91fc00 290px,#6eff00 318px,#5aff28 322px,#2dff82 329px,#1bffd2 331px,#18ffdf 332px,#0ffff5 338px,#00f0ff 351px,#00ceff 378px,#00c9ff 396px,#00f0ff 437px,#0ffff5 465px,#18ffde 476px,#1affd8 477px,#2dff82 481px,#6eff01 495px,#7bfc00 512px,#75fe00 539px)"></i>
<i style="background:linear-gradient(90deg,#ff5601 0px,#faa100 6px,#f5e100 15px,#ecfa00 24px,#c4fc00 29px,#7efc00 35px,#6fff00 38px,#43ff55 42px,#2cff88 45px,#1affd7 47px,#0efef6 55px,#01f1fe 81px,#00dcff 157px,#06f6fb 205px,#00d7ff 256px,#00e5ff 267px,#02f2fe 268px,#14ffe8 269px,#62ff18 270px,#87fc00 271px,#96fc00 272px,#9bfc00 274px,#7bfc00 275px,#46ff50 276px,#19ffdd 277px,#18ffde 278px,#39ff69 279px,#6aff08 280px,#7dfc00 281px,#99fc00 283px,#9bfc00 285px,#93fc00 299px,#6fff00 321px,#5fff1d 324px,#31ff7a 331px,#2bff8d 332px,#1bffd2 334px,#18ffdf 335px,#0ffff5 341px,#00efff 354px,#00cfff 379px,#00c7ff 398px,#00f0ff 439px,#0ffff5 467px,#19ffdd 478px,#2cff89 482px,#60ff1d 493px,#6fff00 497px,#7bfc00 513px,#76fd00 539px)"></i>
<i style="background:linear-gradient(90deg,#ff4d02 0px,#ff6800 3px,#fa9e00 7px,#f7ce00 14px,#f4f500 22px,#ebfa00 26px,#c1fc00 31px,#7bfc00 37px,#6cff03 40px,#49ff4a 43px,#2fff7d 46px,#1effc5 48px,#18ffde 49px,#0dfdf6 57px,#01f1fe 82px,#00dcff 159px,#05f5fc 207px,#00f0ff 229px,#00d8ff 250px,#00d8ff 267px,#00e4ff 268px,#0ffff5 269px,#60ff1b 270px,#93fc00 271px,#c1fc00 274px,#c1fc00 275px,#a2fc00 277px,#a1fc00 278px,#bdfc00 282px,#a3fc00 288px,#6fff00 323px,#6cff04 324px,#2fff7f 334px,#19ffdc 337px,#0ffff5 344px,#00f0ff 356px,#00cfff 381px,#00c5ff 399px,#00f0ff 441px,#0ffff5 469px,#18ffdd 479px,#2fff7f 484px,#6eff00 498px,#7afd00 513px,#77fd00 539px)"></i>
<i style="background:linear-gradient(90deg,#ff4603 0px,#faa000 9px,#f5e300 20px,#edf900 27px,#c9fc00 32px,#81fc00 38px,#70ff00 41px,#2cff88 48px,#1affd9 50px,#0cfcf7 59px,#01f1fe 84px,#00ddff 162px,#00f0ff 188px,#02f2fd 225px,#00d8ff 244px,#00e1ff 260px,#00cbff 267px,#00dbff 268px,#0afaf9 269px,#48ff4c 270px,#7dfc00 271px,#d0fc00 275px,#e2fb00 278px,#d7fb00 284px,#a4fc00 294px,#6fff00 325px,#31ff7b 336px,#2bff8c 337px,#1cffcc 339px,#18ffde 340px,#0ffff5 347px,#00efff 359px,#00d0ff 382px,#00c4ff 401px,#00f0ff 443px,#0ffff5 470px,#18ffde 480px,#1affd6 481px,#2eff81 485px,#6dff01 499px,#7afd00 513px,#77fd00 539px)"></i>
<i style="background:linear-gradient(90deg,#ff3f03 0px,#fc8800 8px,#f8c600 17px,#f5f300 25px,#ecf900 29px,#c6fc00 34px,#7dfc00 40px,#6eff00 43px,#4bff47 46px,#30ff7c 49px,#1effc6 51px,#18ffde 52px,#0cfcf7 61px,#01f1fe 85px,#00ddff 165px,#00f0ff 190px,#01f1fe 225px,#00daff 241px,#00e5ff 258px,#00d3ff 264px,#00beff 267px,#00d4ff 268px,#06f6fb 269px,#39ff6a 270px,#78fd00 271px,#8ffc00 272px,#a3fc00 274px,#ddfb00 277px,#e4fa00 279px,#dafb00 288px,#9ffc00 301px,#6eff00 327px,#2cff87 339px,#19ffdd 342px,#0ffff5 349px,#00f0ff 361px,#00c2ff 402px,#00f0ff 446px,#0ffff5 472px,#19ffdc 482px,#2dff82 486px,#6fff00 501px,#7afd00 514px,#78fd00 539px)"></i>
<i style="background:linear-gradient(90deg,#ff3904 0px,#fd8100 9px,#fb9100 13px,#f5de00 23px,#f5f400 27px,#ecfa00 31px,#c3fc00 36px,#84fc00 41px,#71fe00 44px,#6aff08 45px,#46ff51 48px,#2cff85 51px,#19ffda 53px,#0ffff5 59px,#07f7fa 68px,#00deff 167px,#00f0ff 193px,#00eeff 224px,#00e1ff 240px,#00ebff 254px,#00d2ff 263px,#00b9ff 267px,#00d1ff 268px,#06f6fb 269px,#39ff6a 270px,#7cfc00 271px,#a0fc00 272px,#a4fc00 275px,#d2fb00 277px,#e4fa00 280px,#ddfb00 290px,#9ffc00 305px,#6fff00 328px,#31ff7a 340px,#2bff8a 341px,#1dffca 343px,#18ffde 344px,#0ffff5 351px,#00f0ff 363px,#00c0ff 404px,#00f0ff 448px,#0ffff4 474px,#19ffdd 483px,#2cff85 487px,#6eff00 502px,#7afd00 515px,#79fd00 539px)"></i>
<i style="background:linear-gradient(90deg,#ff3404 0px,#fe7300 9px,#fc8400 14px,#f5de00 25px,#f5f400 29px,#ebfa00 33px,#c0fc00 38px,#80fc00 43px,#6fff00 46px,#31ff7a 52px,#1effc5 54px,#18ffde 55px,#0efef6 61px,#07f7fa 70px,#00dfff 170px,#00f0ff 196px,#00eeff 250px,#00d2ff 262px,#00b5ff 266px,#00b8ff 267px,#00d4ff 268px,#07f7fa 269px,#44ff54 270px,#8afc00 271px,#b2fc00 272px,#b2fc00 273px,#96fc00 275px,#a1fc00 276px,#defb00 279px,#e4fa00 281px,#dbfb00 293px,#9efc00 308px,#6fff00 329px,#5fff1e 333px,#30ff7d 342px,#1bffd1 345px,#18ffde 346px,#0efef5 353px,#00efff 365px,#00beff 405px,#00f0ff 451px,#0ffff5 475px,#18ffde 484px,#1cffd0 485px,#2bff89 488px,#2fff7d 489px,#47ff4f 495px,#6eff00 503px,#7afd00 515px,#79fd00 539px)"></i>
<i style="background:linear-gradient(90deg,#ff3105 0px,#fe6b00 10px,#fd7700 15px,#f5df00 27px,#f5f500 31px,#eafa00 35px,#c9fc00 39px,#7cfc00 45px,#6dff03 48px,#48ff4c 51px,#2eff81 54px,#1affd7 56px,#0ffff5 62px,#07f7fb 71px,#00e0ff 173px,#00efff 197px,#00efff 247px,#00d5ff 260px,#00b3ff 266px,#00baff 267px,#00d9ff 268px,#0bfbf8 269px,#55ff32 270px,#9afc00 271px,#bffc00 272px,#befc00 273px,#95fc00 275px,#92fc00 276px,#d6fb00 279px,#e5fa00 282px,#d6fb00 296px,#9cfc00 311px,#6eff00 331px,#2eff7f 344px,#1affd8 347px,#0ffff4 354px,#00efff 367px,#00bcff 407px,#00f0ff 453px,#0ffff5 477px,#18ffde 485px,#1affd6 486px,#2aff8d 489px,#2fff7e 490px,#45ff51 496px,#6dff02 504px,#7afd00 515px,#7afd00 539px)"></i>
<i style="background:linear-gradient(90deg,#ff2e05 0px,#ff6000 10px,#ff6a00 16px,#f5e000 29px,#edf900 36px,#c7fc00 41px,#84fc00 46px,#71fe00 49px,#68ff0b 50px,#44ff54 53px,#32ff77 55px,#2aff91 56px,#18ffdd 58px,#10fff4 63px,#06f6fb 73px,#00e1ff 175px,#00eeff 198px,#00efff 243px,#00d5ff 259px,#00b3ff 265px,#00c0ff 267px,#00dfff 268px,#0ffff5 269px,#64ff15 270px,#a5fc00 271px,#c8fc00 272px,#c8fc00 273px,#92fc00 276px,#96fc00 277px,#d7fb00 280px,#e5fa00 283px,#d6fb00 289px,#d4fb00 298px,#97fc00 314px,#6fff00 332px,#5bff27 337px,#2eff81 346px,#19ffdb 349px,#0ffff5 356px,#00f0ff 368px,#00baff 408px,#00f0ff 456px,#0ffff5 478px,#19ffdc 487px,#2eff80 491px,#6fff00 506px,#7afd00 516px,#7afd00 539px)"></i>
<i style="background:linear-gradient(90deg,#ff2d05 0px,#ff5801 10px,#ff6000 17px,#fd7c00 21px,#f8ca00 28px,#f5e100 31px,#ecf900 38px,#c4fc00 43px,#80fc00 48px,#6fff00 51px,#30ff7d 57px,#1cffce 59px,#18ffdf 60px,#0ffff5 65px,#05f5fb 75px,#00e3ff 178px,#00efff 207px,#00edff 240px,#00d4ff 258px,#00b3ff 265px,#00c7ff 267px,#00e6ff 268px,#12ffed 269px,#6dff02 270px,#a9fc00 271px,#cbfc00 272px,#cefc00 273px,#97fc00 276px,#8ffc00 277px,#98fc00 278px,#dbfb00 281px,#e5fa00 284px,#d5fb00 290px,#d2fb00 299px,#91fc00 317px,#6eff00 334px,#2eff80 348px,#19ffdc 351px,#0efef6 358px,#00efff 370px,#00b9ff 410px,#00efff 458px,#0ffff5 480px,#19ffdd 488px,#2eff81 492px,#43ff55 498px,#6fff00 507px,#7afd00 517px,#7afd00 539px)"></i>
<i style="background:linear-gradient(90deg,#ff2d05 0px,#ff5302 11px,#ff5202 16px,#ff6000 20px,#fd7600 23px,#f6da00 32px,#f5f200 36px,#ecf900 40px,#ccfc00 44px,#7dfc00 50px,#6dff02 53px,#48ff4d 56px,#2dff82 59px,#19ffdc 61px,#0efef6 67px,#05f5fc 77px,#00e4ff 181px,#00efff 206px,#00ecff 237px,#00d7ff 255px,#00b4ff 265px,#00baff 266px,#00ecff 268px,#15ffe7 269px,#70ff00 270px,#abfc00 271px,#ccfc00 272px,#c7fc00 274px,#9efc00 276px,#90fc00 277px,#92fc00 278px,#d3fb00 281px,#e3fa00 283px,#e5fa00 285px,#d5fb00 291px,#d0fc00 300px,#8afc00 320px,#6eff00 336px,#2eff80 350px,#19ffdd 353px,#0ffff5 359px,#00f0ff 371px,#00b7ff 411px,#00f0ff 461px,#0ffff5 481px,#18ffde 489px,#1cffcf 490px,#2dff83 493px,#42ff57 499px,#6fff00 508px,#79fd00 517px,#7afd00 539px)"></i>
<i style="background:linear-gradient(90deg,#ff2d05 0px,#ff4c02 11px,#ff4902 17px,#ff5a01 22px,#fe7200 25px,#f8cb00 32px,#f5f200 38px,#ecfa00 42px,#cafc00 46px,#7cfc00 52px,#71fe00 54px,#69ff09 55px,#45ff53 58px,#33ff77 60px,#2aff90 61px,#20ffbf 62px,#18ffde 63px,#0ffff5 68px,#05f5fc 78px,#00e5ff 184px,#00edff 229px,#00ddff 251px,#00b9ff 264px,#00c2ff 266px,#01f1ff 268px,#16ffe3 269px,#70ff00 270px,#aafc00 271px,#ccfc00 272px,#d0fc00 273px,#a4fc00 276px,#98fc00 278px,#d6fb00 282px,#e5fa00 286px,#d4fb00 292px,#cefc00 301px,#aefc00 308px,#7efc00 325px,#6eff00 338px,#2dff82 352px,#1effc8 354px,#18ffde 355px,#0ffff5 361px,#00efff 373px,#00b6ff 413px,#00efff 463px,#0ffff5 483px,#18ffdf 490px,#1affd6 491px,#2cff87 494px,#46ff50 501px,#6fff00 509px,#7afd00 539px)"></i>
<i style="background:linear-gradient(90deg,#ff2f05 0px,#ff4703 12px,#ff4103 18px,#ff5002 23px,#ff6300 26px,#f8cc00 34px,#f3f600 41px,#dbfb00 46px,#84fc00 53px,#70ff00 56px,#31ff7b 62px,#1dffca 64px,#18ffdf 65px,#0ffff5 70px,#04f4fc 80px,#00e6ff 185px,#00edff 223px,#00dfff 249px,#00bdff 264px,#00c2ff 265px,#00e1ff 267px,#04f4fc 268px,#18ffde 269px,#71fe00 270px,#aafc00 271px,#cbfc00 272px,#cffc00 273px,#a9fc00 276px,#a4fc00 278px,#d9fb00 283px,#e4fa00 287px,#d4fb00 293px,#d1fb00 301px,#acfc00 309px,#7ffc00 325px,#6eff00 340px,#31ff79 353px,#2bff8b 354px,#1bffd4 356px,#18ffdf 357px,#0ffff4 362px,#00efff 374px,#00b4ff 414px,#00efff 465px,#0ffff5 484px,#19ffdc 492px,#2bff8b 495px,#2fff7d 496px,#45ff51 502px,#6eff00 510px,#7bfc00 539px)"></i>
<i style="background:linear-gradient(90deg,#ff3304 0px,#ff4303 13px,#ff3a04 19px,#ff4603 24px,#ff6200 28px,#f7cc00 36px,#f3f600 43px,#e2fa00 47px,#c6fc00 50px,#81fc00 55px,#6fff00 58px,#4aff47 61px,#2fff7e 64px,#1bffd3 66px,#17ffe0 67px,#0efef5 72px,#04f4fc 82px,#00e7ff 186px,#00eeff 218px,#00e0ff 247px,#00d1ff 260px,#00c3ff 264px,#00ebff 267px,#08f8fa 268px,#20ffbc 269px,#73fe00 270px,#acfc00 271px,#cbfc00 272px,#cffc00 273px,#a9fc00 277px,#d5fb00 283px,#e3fa00 287px,#d2fb00 295px,#d1fb00 302px,#aafc00 310px,#7efc00 326px,#6fff00 341px,#5cff23 346px,#2fff7e 355px,#19ffdd 358px,#0efef5 364px,#00f0ff 375px,#00b3ff 415px,#00efff 467px,#0ffff5 486px,#19ffdd 493px,#2fff7f 497px,#45ff53 503px,#6eff00 511px,#7bfc00 539px)"></i>
<i style="background:linear-gradient(90deg,#ff3804 0px,#ff3304 7px,#ff3e03 14px,#ff3205 20px,#ff3d04 25px,#ff6100 30px,#f8c400 37px,#f5f500 44px,#eafa00 48px,#c4fc00 52px,#7ffc00 57px,#6eff00 60px,#48ff4b 63px,#2eff81 66px,#19ffda 68px,#0efef6 74px,#04f4fd 84px,#00e8ff 190px,#00efff 216px,#00d7ff 260px,#00caff 263px,#00e7ff 266px,#0cfcf7 268px,#2fff7d 269px,#77fd00 270px,#b0fc00 271px,#ccfc00 272px,#d0fc00 273px,#adfc00 276px,#abfc00 277px,#cbfc00 281px,#e3fa00 288px,#d2fb00 296px,#d1fb00 303px,#a9fc00 311px,#7efc00 327px,#6eff00 343px,#57ff2f 349px,#32ff78 356px,#2bff89 357px,#1bffd5 359px,#0ffff5 365px,#00f0ff 376px,#00b2ff 417px,#00efff 469px,#0ffff5 487px,#18ffde 494px,#2eff80 498px,#44ff54 504px,#6eff00 512px,#7bfc00 539px)"></i>
<i style="background:linear-gradient(90deg,#ff3e03 0px,#ff3304 7px,#ff3b04 14px,#ff2c05 20px,#ff3504 26px,#ff6200 32px,#f8c500 39px,#f5f500 46px,#e9fa00 50px,#c2fc00 54px,#7dfc00 59px,#72fe00 61px,#6cff04 62px,#47ff4f 65px,#2dff84 68px,#19ffdc 70px,#0ffff4 75px,#03f3fd 86px,#00e9ff 190px,#00f0ff 215px,#00d4ff 262px,#01f1fe 266px,#12ffee 268px,#3fff5d 269px,#7cfc00 270px,#b5fc00 271px,#cefc00 272px,#d0fc00 273px,#acfc00 277px,#d0fc00 281px,#e2fb00 289px,#d2fb00 296px,#d0fc00 304px,#a8fc00 312px,#7efc00 328px,#6fff00 344px,#59ff2a 350px,#2eff80 358px,#1dffc8 360px,#18ffde 361px,#0efef6 367px,#00efff 378px,#00b1ff 418px,#00efff 471px,#0efef6 488px,#18ffde 495px,#1cffd1 496px,#2eff81 499px,#44ff55 505px,#6eff00 513px,#7bfc00 539px)"></i>
<i style="background:linear-gradient(90deg,#ff4603 0px,#ff3205 8px,#ff2d05 27px,#ff6200 34px,#f8c600 41px,#f5f000 47px,#e8fa00 52px,#ccfc00 55px,#7cfc00 61px,#72fe00 63px,#6bff06 64px,#46ff51 67px,#2cff88 70px,#19ffdd 72px,#0ffff4 77px,#03f3fd 88px,#00f0ff 214px,#00dbff 250px,#00ddff 262px,#01f1fe 265px,#0dfdf6 267px,#19ffdd 268px,#56ff31 269px,#89fc00 270px,#bbfc00 271px,#cffc00 272px,#d1fb00 273px,#aefc00 277px,#d3fb00 281px,#e1fb00 290px,#d1fc00 297px,#ccfc00 306px,#a7fc00 313px,#7efc00 329px,#6eff00 346px,#56ff30 352px,#30ff7d 359px,#19ffdd 362px,#0efef6 368px,#00efff 379px,#00b0ff 419px,#00efff 473px,#0ffff5 490px,#18ffdf 496px,#1affd6 497px,#2dff82 500px,#48ff4d 507px,#6eff00 514px,#7bfc00 539px)"></i>
<i style="background:linear-gradient(90deg,#ff4f02 0px,#ff3205 9px,#ff3504 15px,#ff2709 22px,#ff2c05 29px,#ff6400 36px,#f8c700 43px,#f5f100 49px,#e7fa00 54px,#cbfc00 57px,#7cfc00 63px,#71fe00 65px,#6aff08 66px,#45ff52 69px,#2bff8a 72px,#19ffdd 74px,#0ffff5 79px,#03f3fd 90px,#00f0ff 213px,#00ddff 248px,#00e2ff 260px,#00efff 263px,#0cfcf7 266px,#14ffe9 267px,#34ff74 268px,#6eff00 269px,#c1fc00 271px,#d1fb00 272px,#d2fb00 273px,#b1fc00 277px,#d5fb00 281px,#e0fb00 290px,#cafc00 307px,#a5fc00 314px,#7ffc00 329px,#6eff00 347px,#57ff2e 353px,#31ff7b 360px,#29ff92 361px,#19ffdc 363px,#0efef5 369px,#00efff 380px,#00b7ff 411px,#00afff 421px,#00f0ff 475px,#0ffff5 491px,#19ffdb 498px,#2cff85 501px,#47ff4e 508px,#6eff00 515px,#7bfc00 538px)"></i>
<i style="background:linear-gradient(90deg,#ff5901 0px,#ff3205 10px,#ff250a 23px,#ff2c06 31px,#ff6600 38px,#f8c800 45px,#f5f200 51px,#e6fa00 56px,#cafc00 59px,#7cfc00 65px,#71fe00 67px,#69ff09 68px,#45ff52 71px,#2bff8a 74px,#19ffdd 76px,#0ffff5 81px,#04f4fc 90px,#00f0ff 212px,#00e0ff 246px,#00efff 261px,#12ffee 266px,#20ffbc 267px,#4cff44 268px,#78fd00 269px,#c6fc00 271px,#d2fb00 272px,#b6fc00 277px,#d7fb00 281px,#dffb00 290px,#c8fc00 308px,#a4fc00 315px,#81fc00 329px,#6fff00 348px,#58ff2d 354px,#31ff7a 361px,#2aff8f 362px,#1affd9 364px,#0efef5 370px,#00efff 381px,#00b6ff 412px,#00aeff 422px,#00eeff 476px,#0efef5 492px,#19ffdc 499px,#2cff88 502px,#47ff4f 509px,#6eff00 516px,#7bfc00 538px)"></i>
<i style="background:linear-gradient(90deg,#ff6500 0px,#ff3205 11px,#ff230b 24px,#ff2a07 32px,#ff5d01 39px,#f8c900 47px,#f5f200 53px,#e5fa00 58px,#7cfc00 67px,#71fe00 69px,#69ff09 70px,#45ff52 73px,#2cff88 76px,#19ffdd 78px,#0efef6 84px,#01f1fe 99px,#00f0ff 212px,#00e2ff 245px,#00efff 258px,#0efef6 264px,#18ffde 266px,#3aff69 267px,#67ff0e 268px,#84fc00 269px,#aefc00 270px,#cafc00 271px,#d4fb00 272px,#bcfc00 277px,#d8fb00 281px,#defb00 291px,#c7fc00 308px,#a2fc00 316px,#85fc00 328px,#6dff02 350px,#53ff36 356px,#31ff79 362px,#2aff8d 363px,#1affd7 365px,#0dfdf6 372px,#00f0ff 382px,#00b5ff 413px,#00adff 424px,#00efff 478px,#0afaf8 490px,#19ffdd 500px,#2bff8b 503px,#2fff7d 504px,#46ff50 510px,#6eff00 517px,#7bfc00 538px)"></i>
<i style="background:linear-gradient(90deg,#fe7000 1px,#ff3504 11px,#ff220c 24px,#ff2709 33px,#ff2d05 35px,#ff5501 40px,#f8c900 49px,#f5f300 55px,#e4fa00 60px,#7cfc00 69px,#71fe00 71px,#6aff08 72px,#45ff51 75px,#2cff86 78px,#19ffdd 80px,#0efef6 86px,#01f1fe 101px,#00f0ff 211px,#00e4ff 243px,#00f0ff 256px,#0ffff4 263px,#17ffe0 265px,#31ff7b 266px,#75fe00 268px,#b7fc00 270px,#d5fb00 272px,#c3fc00 277px,#dafb00 281px,#dcfb00 290px,#c8fc00 307px,#a3fc00 316px,#88fc00 327px,#6dff02 351px,#53ff35 357px,#31ff7a 363px,#2aff8e 364px,#1affd7 366px,#0dfdf6 373px,#00f0ff 383px,#00b6ff 413px,#00adff 425px,#00f0ff 480px,#0afaf9 491px,#0ffff5 495px,#18ffde 501px,#2aff8e 504px,#2fff7e 505px,#46ff51 511px,#6eff00 518px,#7bfc00 537px)"></i>
<i style="background:linear-gradient(90deg,#fc8200 1px,#ff3504 12px,#ff220d 24px,#ff250a 34px,#ff2d05 37px,#ff5701 42px,#f8ca00 51px,#f5f400 57px,#e4fa00 62px,#7cfc00 71px,#72fe00 73px,#6bff07 74px,#46ff50 77px,#2dff82 80px,#19ffdc 82px,#0efef6 88px,#02f2fe 103px,#00f0ff 212px,#00e6ff 242px,#00f0ff 253px,#0ffff5 261px,#18ffe0 264px,#2cff85 265px,#45ff52 266px,#6bff06 267px,#7dfc00 268px,#befc00 270px,#cffc00 271px,#d7fb00 273px,#cbfc00 277px,#ddfb00 282px,#c9fc00 306px,#8bfc00 326px,#6dff02 352px,#53ff36 358px,#31ff7b 364px,#2aff91 365px,#1affd9 367px,#0dfdf7 374px,#00f0ff 384px,#00b5ff 414px,#00acff 426px,#00f0ff 482px,#09f9f9 492px,#0ffff5 496px,#18ffde 502px,#2fff7f 506px,#45ff52 512px,#6eff00 519px,#7bfc00 537px)"></i>
<i style="background:linear-gradient(90deg,#fb9500 1px,#ff4703 10px,#ff3704 13px,#ff210d 24px,#ff220c 34px,#ff2f05 39px,#ff5002 43px,#f8c000 52px,#f5e300 56px,#f5f400 59px,#ebfa00 63px,#c8fc00 67px,#7dfc00 73px,#72fe00 75px,#6cff04 76px,#47ff4e 79px,#2eff81 82px,#19ffdb 84px,#0efef6 90px,#02f2fe 105px,#00f0ff 212px,#00e7ff 240px,#01f1ff 251px,#10fff2 260px,#18ffdf 263px,#2aff8f 264px,#5eff20 266px,#76fd00 267px,#c3fc00 270px,#d0fc00 271px,#defb00 282px,#c9fc00 306px,#93fc00 322px,#6fff00 352px,#58ff2d 358px,#30ff7c 365px,#29ff95 366px,#19ffdc 368px,#0dfdf7 375px,#00f0ff 385px,#00b4ff 415px,#00acff 427px,#00efff 483px,#09f9f9 493px,#10fff3 498px,#18ffdf 503px,#1cffd0 504px,#2eff7f 507px,#45ff52 513px,#6fff00 520px,#7bfc00 537px)"></i>
<i style="background:linear-gradient(90deg,#faa600 1px,#ff3c04 13px,#ff230c 23px,#ff1f0e 32px,#ff3105 41px,#ff6400 47px,#fa9f00 51px,#f8cb00 55px,#f5f500 61px,#ebfa00 65px,#c8fc00 69px,#7dfc00 75px,#6dff01 78px,#49ff4b 81px,#2fff7f 84px,#1affd6 86px,#0efef5 92px,#02f2fe 107px,#00f0ff 213px,#00f0ff 248px,#13ffeb 260px,#18ffde 262px,#2aff8f 263px,#71fe00 266px,#80fc00 267px,#c8fc00 270px,#d2fb00 271px,#defb00 281px,#c8fc00 306px,#95fc00 321px,#6fff00 353px,#5cff25 358px,#2fff7e 366px,#19ffdd 369px,#0cfcf7 376px,#00f0ff 386px,#00b4ff 415px,#00abff 428px,#00b4ff 441px,#00f0ff 485px,#08f8fa 494px,#0ffff4 499px,#18ffdf 504px,#1bffd4 505px,#2eff80 508px,#49ff49 515px,#6fff00 521px,#7bfc00 537px)"></i>
<i style="background:linear-gradient(90deg,#f9af00 2px,#fa9b00 5px,#ff5d01 10px,#ff3f03 14px,#ff220c 24px,#ff1f0e 34px,#ff3304 43px,#ff6600 49px,#faa000 53px,#f8cc00 57px,#f5f500 63px,#ebfa00 67px,#c8fc00 71px,#7ffc00 77px,#6fff00 80px,#4aff47 83px,#30ff7d 86px,#1cffd1 88px,#17ffe0 89px,#0ffff5 94px,#01f1fe 116px,#00f0ff 215px,#02f2fe 247px,#0ffff5 256px,#16ffe3 260px,#19ffdc 261px,#2bff89 262px,#6fff00 265px,#7afd00 266px,#bcfc00 269px,#d3fb00 271px,#defb00 281px,#c6fc00 307px,#95fc00 321px,#6eff00 354px,#5bff26 359px,#2eff80 367px,#1effc6 369px,#18ffde 370px,#0bfbf8 378px,#00dfff 397px,#00b5ff 415px,#00aaff 429px,#08f8fa 495px,#0ffff5 500px,#1affd8 506px,#2eff81 509px,#49ff4a 516px,#6fff00 522px,#7afd00 536px)"></i>
<i style="background:linear-gradient(90deg,#f9be00 2px,#faa300 6px,#ff6000 11px,#ff4603 14px,#ff230b 24px,#ff1f0f 35px,#ff2d05 44px,#ff6800 51px,#f7cc00 59px,#f5f500 65px,#ebfa00 69px,#c8fc00 73px,#81fc00 79px,#6fff00 82px,#31ff7a 88px,#27ff9b 89px,#1dffca 90px,#18ffdf 91px,#0ffff5 96px,#01f1fe 118px,#00f0ff 219px,#03f3fd 246px,#0ffff5 254px,#17ffe1 259px,#1dffca 260px,#2eff80 261px,#3eff60 262px,#6eff00 264px,#cefc00 270px,#dffb00 276px,#dbfb00 292px,#c6fc00 307px,#95fc00 321px,#6eff00 355px,#5aff29 360px,#2cff85 368px,#1cffcf 370px,#18ffdf 371px,#0ffff5 376px,#00efff 388px,#00b6ff 415px,#00a9ff 430px,#00efff 488px,#0efef5 501px,#19ffdb 507px,#2dff81 510px,#49ff4a 517px,#6bff07 522px,#7afd00 536px)"></i>
<i style="background:linear-gradient(90deg,#f8c700 3px,#faa000 8px,#ff6400 12px,#ff4b02 15px,#ff250a 24px,#ff1e0f 36px,#ff2f05 46px,#ff5f00 52px,#faa200 57px,#f5dd00 63px,#f5f500 67px,#ebfa00 71px,#c9fc00 75px,#83fc00 81px,#70ff00 84px,#32ff77 90px,#18ffde 93px,#0efef6 99px,#01f1fe 120px,#00f0ff 223px,#02f2fe 241px,#0ffff5 252px,#18ffde 258px,#32ff79 260px,#41ff5a 261px,#6eff00 263px,#c8fc00 269px,#dcfb00 272px,#e2fb00 275px,#dbfb00 292px,#c7fc00 306px,#94fc00 322px,#6eff01 356px,#5dff21 360px,#31ff7b 368px,#2aff8f 369px,#1affd9 371px,#0ffff5 377px,#00efff 389px,#00b4ff 416px,#00a8ff 431px,#00f0ff 490px,#0efef6 502px,#19ffdc 508px,#2dff82 511px,#49ff4b 518px,#6bff06 523px,#79fd00 535px)"></i>
<i style="background:linear-gradient(90deg,#f7d100 3px,#faa500 9px,#ff5d01 14px,#ff2e05 22px,#ff200e 28px,#ff1e0f 37px,#ff3105 48px,#ff6100 54px,#f8c400 62px,#f5f500 69px,#ebfa00 73px,#7cfc00 84px,#6bff07 87px,#46ff51 90px,#2bff8a 93px,#19ffdd 95px,#0ffff5 101px,#02f2fe 119px,#01f1ff 166px,#01f1fe 232px,#0ffff4 250px,#18ffdf 256px,#1effc6 257px,#2aff8e 258px,#37ff6e 259px,#70ff00 262px,#cdfc00 269px,#e3fa00 274px,#dbfb00 291px,#c7fc00 306px,#95fc00 322px,#6fff00 356px,#61ff1a 360px,#2fff7e 369px,#19ffdd 372px,#0efef5 378px,#00efff 390px,#00b5ff 416px,#00a7ff 432px,#00f0ff 492px,#0ffff4 504px,#19ffdd 509px,#2dff82 512px,#48ff4b 519px,#6cff05 524px,#79fd00 535px)"></i>
<i style="background:linear-gradient(90deg,#f6da00 3px,#f8c800 7px,#faa000 11px,#ff6300 15px,#ff2f05 23px,#ff200e 29px,#ff1e0f 38px,#ff2d05 49px,#ff6300 56px,#f8c500 64px,#f5f500 71px,#ebfa00 75px,#7dfc00 86px,#6eff00 89px,#48ff4c 92px,#2eff81 95px,#1affd9 97px,#0ffff4 103px,#02f2fd 121px,#01f1ff 168px,#02f2fe 225px,#0ffff5 247px,#18ffde 254px,#1effc8 255px,#28ff99 256px,#3eff60 258px,#63ff16 260px,#72fe00 261px,#c9fc00 268px,#e4fa00 274px,#c8fc00 305px,#94fc00 323px,#6eff00 357px,#5fff1d 361px,#2dff82 370px,#1dffcb 372px,#18ffdf 373px,#0efef6 379px,#00eeff 391px,#00b4ff 417px,#00a7ff 433px,#00f0ff 494px,#0ffff5 505px,#19ffdd 510px,#2dff83 513px,#48ff4b 520px,#6cff03 525px,#78fd00 535px)"></i>
<i style="background:linear-gradient(90deg,#f5e000 4px,#f8c500 9px,#fd7800 15px,#ff3005 24px,#ff220d 29px,#ff1e0f 39px,#ff2e05 51px,#ff6400 58px,#f8c500 66px,#f5f500 73px,#ebfa00 77px,#81fc00 88px,#6fff00 91px,#41ff5b 95px,#30ff7c 97px,#1dffcb 99px,#18ffdf 100px,#10fff3 105px,#03f3fd 124px,#01f1ff 168px,#02f2fe 224px,#0ffff5 245px,#18ffdf 252px,#1dffc9 253px,#31ff79 255px,#47ff4e 257px,#6bff05 259px,#cefc00 268px,#e4fa00 274px,#c8fc00 305px,#94fc00 323px,#6eff00 358px,#5eff21 362px,#31ff7b 370px,#2aff8e 371px,#1affd9 373px,#0ffff5 379px,#00f0ff 391px,#00b4ff 417px,#00a5ff 433px,#00f0ff 496px,#0efef6 506px,#19ffdd 511px,#2dff82 514px,#49ff4b 521px,#6dff02 526px,#77fd00 534px)"></i>
<i style="background:linear-gradient(90deg,#f5e600 4px,#f8ca00 10px,#fc8400 16px,#ff2c06 26px,#ff1e0f 40px,#ff3005 53px,#ff6600 60px,#f8c600 68px,#f5f500 75px,#ebfa00 79px,#c4fc00 84px,#7bfc00 91px,#71fe00 93px,#68ff0c 94px,#43ff55 97px,#2aff8e 100px,#19ffdc 102px,#0ffff5 108px,#03f3fd 127px,#01f1ff 171px,#02f2fd 225px,#0efef5 243px,#18ffdf 250px,#1cffcf 251px,#30ff7d 253px,#43ff56 255px,#70ff00 258px,#ccfc00 267px,#e4fa00 273px,#defb00 288px,#c9fc00 304px,#94fc00 323px,#6fff00 358px,#61ff1b 362px,#2fff7f 371px,#18ffdd 374px,#0ffff5 380px,#00efff 392px,#00b5ff 417px,#00a4ff 434px,#00f0ff 498px,#0efef6 507px,#18ffdd 512px,#2dff82 515px,#43ff55 521px,#6eff00 527px,#76fd00 534px)"></i>
<i style="background:linear-gradient(90deg,#f5ea00 5px,#f8c500 12px,#ff2e05 27px,#ff210d 33px,#ff1e0f 42px,#ff230c 50px,#ff3205 55px,#ff6800 62px,#f8c600 70px,#f5f500 77px,#e4fa00 82px,#c7fc00 86px,#7dfc00 93px,#6cff04 96px,#47ff4e 99px,#2fff7f 102px,#1dffcb 104px,#18ffdf 105px,#10fff4 110px,#03f3fd 129px,#01f1ff 176px,#03f3fd 225px,#0ffff4 242px,#18ffdd 248px,#1dffc8 249px,#2fff7e 251px,#4dff42 254px,#6bff06 256px,#cafc00 266px,#e4fa00 273px,#defb00 288px,#c8fc00 304px,#94fc00 323px,#6eff00 359px,#5fff1f 363px,#2cff86 372px,#1bffd1 374px,#18ffdf 375px,#0efef6 381px,#00eeff 393px,#00b3ff 418px,#00a4fe 435px,#00f0ff 500px,#0ffff5 509px,#18ffde 513px,#2dff81 516px,#44ff55 522px,#69ff0a 527px,#6eff00 528px,#74fe00 533px)"></i>
<i style="background:linear-gradient(90deg,#f5f000 5px,#f5df00 10px,#faa200 18px,#ff5701 24px,#ff2c06 29px,#ff1e0f 43px,#ff2d05 56px,#ff6900 64px,#f8c700 72px,#f5f500 79px,#ebfa00 83px,#c9fc00 88px,#82fc00 95px,#6fff00 98px,#4cff44 101px,#2bff89 105px,#19ffdc 107px,#0ffff4 113px,#03f3fd 131px,#01f1ff 181px,#04f4fd 223px,#0ffff5 240px,#19ffdd 245px,#2bff8b 248px,#41ff5a 251px,#70ff00 255px,#cffc00 266px,#e5fa00 273px,#e1fb00 286px,#c2fc00 306px,#96fc00 322px,#6fff00 359px,#62ff19 363px,#2fff7d 372px,#29ff96 373px,#19ffdd 375px,#0ffff5 381px,#00f0ff 393px,#00b4ff 418px,#00a3fe 436px,#00efff 501px,#0efef5 510px,#18ffde 514px,#2eff81 517px,#44ff54 523px,#6aff07 528px,#73fe00 533px)"></i>
<i style="background:linear-gradient(90deg,#f5f400 6px,#f5e200 11px,#f9ab00 19px,#ff5b01 25px,#ff2f05 30px,#ff1e0f 44px,#ff2e05 58px,#ff6100 65px,#f8c700 74px,#f5f500 81px,#ecfa00 85px,#ccfc00 90px,#7cfc00 98px,#71fe00 100px,#6aff08 101px,#48ff4c 104px,#30ff7b 107px,#1dffc8 109px,#18ffdf 110px,#10fff1 115px,#04f4fc 133px,#01f1fe 184px,#03f3fd 220px,#0ffff5 237px,#18ffdf 242px,#1effc7 243px,#2eff81 245px,#43ff55 249px,#6fff00 253px,#7dfc00 256px,#d5fb00 266px,#e6fa00 273px,#e4fa00 284px,#c0fc00 306px,#98fc00 321px,#6fff00 360px,#5fff1e 364px,#2dff82 373px,#1dffcb 375px,#18ffdf 376px,#0ffff5 382px,#00efff 394px,#00b3ff 419px,#00a2fe 437px,#00efff 503px,#0efef6 511px,#18ffde 515px,#2eff80 518px,#45ff53 524px,#6cff05 529px,#72fe00 532px)"></i>
<i style="background:linear-gradient(90deg,#f3f600 6px,#f5ed00 10px,#f8c600 18px,#fa9f00 22px,#ff5f00 26px,#ff2d05 32px,#ff1e0f 46px,#ff3005 60px,#ff6200 67px,#f8c700 76px,#f5f500 83px,#e8fa00 88px,#c9fc00 93px,#80fc00 100px,#6fff00 103px,#45ff51 107px,#2eff81 110px,#1affd8 112px,#10fff3 119px,#05f5fc 135px,#02f2fe 188px,#03f3fd 221px,#0ffff5 234px,#18ffde 240px,#2aff8d 242px,#32ff78 243px,#47ff4e 247px,#6bff06 251px,#7ffc00 255px,#d5fb00 265px,#e7fa00 273px,#e4fa00 284px,#befc00 306px,#96fc00 322px,#6eff00 361px,#62ff18 364px,#30ff7d 373px,#29ff93 374px,#19ffdc 376px,#0ffff4 382px,#00eeff 395px,#00b3ff 419px,#00a1fe 437px,#00efff 505px,#0dfdf6 512px,#18ffde 516px,#29ff95 518px,#2fff7f 519px,#46ff50 525px,#6dff02 530px,#71fe00 532px)"></i>
<i style="background:linear-gradient(90deg,#f2f700 7px,#f5f300 10px,#f8c900 20px,#fa9b00 24px,#ff5b01 28px,#ff2c05 34px,#ff1e0f 48px,#ff3105 62px,#ff6300 69px,#f8c700 78px,#f5f500 85px,#eafa00 90px,#cdfc00 95px,#7cfc00 103px,#6eff00 106px,#2bff8b 113px,#19ffdc 115px,#10fff3 123px,#02f2fe 194px,#04f4fc 222px,#10fff4 233px,#18ffe0 238px,#1cffd0 239px,#30ff7d 241px,#6eff00 250px,#81fc00 254px,#d5fb00 264px,#e9fa00 273px,#e4fa00 284px,#97fc00 321px,#6fff00 361px,#5fff1d 365px,#2dff82 374px,#1dffc9 376px,#18ffde 377px,#0ffff5 383px,#00efff 395px,#00b2ff 420px,#00a0fe 438px,#00f0ff 507px,#0afaf9 512px,#18ffdd 517px,#2aff91 519px,#2fff7e 520px,#41ff5a 525px,#6eff00 531px)"></i>
<i style="background:linear-gradient(90deg,#f0f800 7px,#f5f500 11px,#f8ca00 22px,#faa700 25px,#ff6300 29px,#ff2c05 36px,#ff1f0f 49px,#ff2c05 63px,#ff6400 71px,#f8c700 80px,#f3f600 88px,#ebfa00 92px,#cbfc00 98px,#7bfc00 106px,#6eff01 109px,#42ff57 113px,#2bff8a 116px,#1cffd0 118px,#18ffde 119px,#10fff3 127px,#02f2fe 199px,#10fff3 232px,#18ffdf 237px,#1cffcf 238px,#30ff7d 240px,#6fff00 249px,#82fc00 253px,#d7fb00 263px,#e9fa00 272px,#e6fa00 283px,#98fc00 320px,#6fff00 361px,#62ff19 365px,#30ff7d 374px,#29ff93 375px,#19ffdb 377px,#0efef6 384px,#00f0ff 395px,#00b1ff 421px,#009ffe 438px,#01f1ff 509px,#0ffff4 515px,#19ffdd 518px,#2bff8c 520px,#43ff57 526px,#6bff07 531px)"></i>
<i style="background:linear-gradient(90deg,#eef800 8px,#f5e300 20px,#f7d200 23px,#faa600 27px,#ff6300 31px,#ff2d05 38px,#ff1f0f 52px,#ff2d05 65px,#ff6400 73px,#f8c700 82px,#f5de00 85px,#f5f400 89px,#eafa00 95px,#cafc00 101px,#83fc00 108px,#6dff01 112px,#43ff57 116px,#2eff80 119px,#1bffd2 122px,#18ffde 123px,#0ffff5 132px,#04f4fc 162px,#02f2fe 208px,#10fff3 230px,#18ffdd 236px,#31ff7a 239px,#6dff02 247px,#7cfc00 251px,#d3fb00 261px,#eafa00 272px,#e6fa00 283px,#99fc00 319px,#6fff00 362px,#5fff1e 366px,#2dff83 375px,#1dffc9 377px,#18ffde 378px,#0ffff5 384px,#00efff 396px,#00b3ff 420px,#009efe 438px,#00f0ff 510px,#0ffff5 516px,#19ffdc 519px,#2cff87 521px,#3fff5f 526px,#5fff1d 530px)"></i>
<i style="background:linear-gradient(90deg,#ecf900 8px,#f4f500 14px,#f6d900 24px,#f8c000 27px,#ff6300 33px,#ff2d05 40px,#ff1f0e 53px,#ff2d05 67px,#ff6400 75px,#f5dd00 87px,#f5f300 91px,#ecfa00 97px,#c9fc00 104px,#83fc00 111px,#6eff00 115px,#45ff52 119px,#2dff81 123px,#1cffcf 126px,#18ffdd 127px,#0efef5 136px,#04f4fc 162px,#02f2fe 209px,#0ffff5 226px,#19ffdc 234px,#2aff90 236px,#31ff79 237px,#6eff00 245px,#7bfc00 249px,#bdfc00 256px,#d6fb00 260px,#ebfa00 272px,#e6fa00 283px,#98fc00 319px,#6eff01 363px,#2fff7e 375px,#29ff96 376px,#19ffdc 378px,#0efef6 385px,#00f0ff 396px,#00b2ff 421px,#009dfe 440px,#06f6fb 514px,#0ffff5 517px,#16ffe3 519px,#1bffd4 520px,#25ffa4 521px,#2dff82 522px,#40ff5b 527px,#5aff28 530px)"></i>
<i style="background:linear-gradient(90deg,#ebfa00 9px,#f5df00 25px,#f8bf00 29px,#ff6400 35px,#ff3404 41px,#ff250a 46px,#ff1f0e 55px,#ff2e05 69px,#ff6400 77px,#f8c500 86px,#f5e300 90px,#f5f500 94px,#ecfa00 100px,#c8fc00 107px,#84fc00 114px,#6fff00 118px,#49ff4b 122px,#2cff84 127px,#1affd6 130px,#18ffdf 131px,#0ffff5 139px,#05f5fc 159px,#02f2fd 209px,#0ffff5 224px,#18ffde 231px,#1dffc8 232px,#2fff7f 234px,#6cff04 242px,#70ff00 243px,#7dfc00 247px,#c4fc00 255px,#d7fb00 259px,#ebfa00 274px,#e8fa00 282px,#98fc00 318px,#6eff00 363px,#5eff20 367px,#31ff79 375px,#2cff87 376px,#1dffcc 378px,#18ffde 379px,#0ffff5 385px,#00efff 397px,#00b2ff 421px,#009dfe 440px,#03f3fd 514px,#0ffff4 518px,#17ffe1 520px,#1dffca 521px,#27ff9c 522px,#2eff80 523px,#3dff63 527px,#4bff46 529px)"></i>
<i style="background:linear-gradient(90deg,#e6fa00 9px,#f5f300 20px,#f5e300 26px,#f8c900 30px,#ff5c01 38px,#ff3005 44px,#ff1f0e 58px,#ff2e05 71px,#ff6400 79px,#f8c300 88px,#f5e200 92px,#f5f400 96px,#eafa00 104px,#c8fc00 110px,#7dfc00 118px,#70ff00 121px,#45ff51 126px,#2bff8b 131px,#19ffdc 134px,#0ffff5 143px,#05f5fb 162px,#04f4fc 208px,#0ffff4 223px,#18ffdd 229px,#30ff7b 232px,#6fff00 240px,#80fc00 245px,#d1fb00 256px,#e6fa00 264px,#ecfa00 273px,#e9fa00 281px,#99fc00 317px,#6fff00 363px,#60ff1d 367px,#2eff80 376px,#19ffdc 379px,#0ffff4 385px,#00f0ff 397px,#00b1ff 422px,#009cfe 441px,#03f3fd 515px,#10fff3 519px,#18ffe0 521px,#29ff94 523px,#2fff7f 524px,#46ff50 529px)"></i>
<i style="background:linear-gradient(90deg,#e2fb00 10px,#f5f400 22px,#f5e200 28px,#f8c800 32px,#ff5f00 40px,#ff3205 46px,#ff200e 60px,#ff2e05 73px,#ff6300 81px,#f8c100 90px,#f5e000 94px,#f5f500 99px,#ebfa00 107px,#c9fc00 113px,#7ffc00 121px,#6eff00 125px,#46ff51 130px,#2eff80 135px,#19ffdd 139px,#0ffff5 149px,#07f7fa 165px,#07f7fa 209px,#13ffec 223px,#19ffdd 227px,#31ff7b 230px,#6dff03 237px,#70ff00 238px,#7cfc00 242px,#d3fb00 255px,#eafa00 265px,#ecf900 273px,#e9fa00 281px,#97fc00 317px,#6eff00 364px,#30ff7c 376px,#2aff8f 377px,#1bffd1 379px,#18ffdf 380px,#0ffff5 386px,#00f0ff 397px,#00b1ff 422px,#009bfe 441px,#01f1fe 515px,#0cfcf7 519px,#18ffde 522px,#2bff8b 524px,#3cff65 528px)"></i>
<i style="background:linear-gradient(90deg,#dffb00 11px,#f5f500 24px,#f5e200 30px,#f8c800 34px,#ff6200 42px,#ff3404 48px,#ff260a 53px,#ff200e 62px,#ff2e05 75px,#ff6200 83px,#f8c900 93px,#f5de00 96px,#f4f500 102px,#ebfa00 111px,#cbfc00 116px,#7efc00 125px,#70ff00 129px,#45ff53 136px,#2dff82 142px,#1affd6 146px,#18ffde 147px,#0ffff5 159px,#0afaf8 170px,#0efef5 212px,#19ffdd 223px,#31ff7b 227px,#6fff00 235px,#7dfc00 240px,#c9fc00 251px,#d9fb00 255px,#ebfa00 263px,#ecf900 272px,#eafa00 280px,#98fc00 316px,#85fc00 346px,#6fff00 364px,#5eff20 368px,#2dff83 377px,#19ffdd 380px,#0ffff5 386px,#00efff 398px,#00afff 423px,#009bfe 441px,#01f1fe 516px,#0dfdf6 520px,#1affd8 523px,#25ffa5 524px,#2dff83 525px,#34ff73 527px)"></i>
<i style="background:linear-gradient(90deg,#dafb00 11px,#ecfa00 17px,#f5f500 26px,#f5e200 32px,#f8c900 36px,#ff6600 44px,#ff3105 51px,#ff210d 65px,#ff2d05 77px,#ff6800 86px,#f8c600 95px,#f5f000 103px,#e9fa00 115px,#80fc00 130px,#6fff00 136px,#45ff52 145px,#2cff88 153px,#19ffdc 158px,#0ffff5 177px,#0ffff5 200px,#19ffdd 215px,#2dff82 220px,#46ff4f 226px,#6dff03 231px,#70ff00 232px,#7efc00 237px,#c9fc00 249px,#ddfb00 254px,#ebfa00 260px,#edf900 270px,#ebfa00 279px,#97fc00 316px,#87fc00 345px,#6fff00 364px,#5fff1e 368px,#2fff7f 377px,#1affd9 380px,#10fff3 386px,#00f0ff 398px,#00b0ff 423px,#009afe 442px,#02f2fe 517px,#0efef5 521px,#17ffe1 523px,#1effc6 524px,#28ff99 525px,#2eff7f 526px,#32ff78 527px)"></i>
<i style="background:linear-gradient(90deg,#d7fb00 12px,#ecf900 19px,#f4f500 28px,#f5e200 34px,#f8c900 38px,#ff6000 47px,#ff3404 53px,#ff260a 58px,#ff210d 67px,#ff3205 80px,#ff6500 88px,#f8c100 97px,#f5e200 102px,#f5f400 109px,#ebfa00 119px,#7dfc00 139px,#6cff03 148px,#45ff53 159px,#2eff80 169px,#1affd9 179px,#18ffe0 186px,#19ffdc 200px,#2cff86 208px,#48ff4c 218px,#6fff00 226px,#7ffc00 232px,#e0fb00 252px,#edf900 266px,#ebfa00 278px,#97fc00 315px,#87fc00 345px,#6eff00 365px,#30ff7c 377px,#2aff8f 378px,#1cffce 380px,#18ffde 381px,#0ffff5 387px,#00f0ff 398px,#00aeff 424px,#009afe 442px,#00f0ff 517px,#10fff3 522px,#18ffde 524px,#2bff8c 526px)"></i>
<i style="background:linear-gradient(90deg,#d4fb00 13px,#ebfa00 20px,#f5f400 31px,#f5e700 35px,#f8c200 41px,#ff6500 49px,#ff3205 56px,#ff220c 70px,#ff3105 82px,#ff6200 90px,#f8c500 100px,#f5e200 105px,#eafa00 125px,#7efc00 152px,#6fff00 164px,#50ff3b 177px,#44ff54 187px,#47ff4d 204px,#52ff38 209px,#6fff00 217px,#7dfc00 224px,#cafc00 242px,#e9fa00 252px,#eef900 268px,#ebfa00 277px,#c2fc00 292px,#b3fc00 304px,#96fc00 315px,#87fc00 345px,#6fff00 365px,#2cff86 378px,#19ffdd 381px,#0ffff5 387px,#02f2fe 397px,#00a6ff 428px,#009afe 443px,#01f1fe 518px,#0dfdf6 522px,#1bffd3 525px)"></i>
<i style="background:linear-gradient(90deg,#d1fb00 13px,#eafa00 22px,#f5eb00 36px,#f8c600 43px,#ff6200 52px,#ff3005 59px,#ff230c 73px,#ff3005 84px,#ff6500 93px,#f8c600 103px,#f5e000 108px,#ecfa00 132px,#89fc00 167px,#71fe00 188px,#6eff00 202px,#7afd00 213px,#b5fc00 229px,#e9fa00 248px,#eff800 261px,#ebfa00 276px,#96fc00 314px,#88fc00 345px,#6fff00 365px,#2eff81 378px,#19ffda 381px,#0efef6 388px,#00efff 399px,#00a4ff 429px,#0099fe 442px,#00f0ff 518px,#0ffff5 523px,#18ffe0 525px)"></i>
<i style="background:linear-gradient(90deg,#cffc00 14px,#ebfa00 25px,#f5f000 37px,#f8c900 45px,#ff6000 55px,#ff3005 62px,#ff230b 76px,#ff3404 87px,#ff6100 95px,#f9be00 105px,#f6d800 110px,#f4f500 131px,#ebfa00 142px,#b6fc00 165px,#82fc00 196px,#89fc00 206px,#c8fc00 225px,#eafa00 243px,#f0f800 260px,#ebfa00 275px,#96fc00 314px,#88fc00 345px,#6fff00 365px,#6dff03 366px,#2fff7e 378px,#1bffd2 381px,#18ffde 382px,#0efef5 388px,#00efff 399px,#00a4ff 429px,#0099fe 442px,#00adff 466px,#00eeff 518px,#11fff0 524px)"></i>
<i style="background:linear-gradient(90deg,#cdfc00 15px,#ebfa00 27px,#f5f200 39px,#f8c500 48px,#ff6700 57px,#ff3504 64px,#ff240b 79px,#ff2e05 88px,#ff4c02 94px,#ff6300 98px,#faa700 105px,#f7d100 112px,#f5f500 138px,#adfc00 197px,#ebfa00 237px,#ecfa00 273px,#96fc00 313px,#87fc00 346px,#6fff00 365px,#6dff01 366px,#30ff7c 378px,#18ffde 382px,#0ffff5 388px,#00f0ff 399px,#00a4fe 429px,#0098fe 442px,#00b4ff 473px,#00d2ff 491px,#00f0ff 519px,#0afaf9 523px)"></i>
<i style="background:linear-gradient(90deg,#cafc00 15px,#eafa00 29px,#f5f400 41px,#f8ca00 50px,#faa000 55px,#ff6600 60px,#ff3704 67px,#ff250b 81px,#ff2d05 90px,#ff4803 96px,#ff6600 101px,#faa000 107px,#f8cb00 114px,#f4f500 145px,#d1fb00 192px,#ebfa00 228px,#ecf900 271px,#95fc00 313px,#88fc00 346px,#6eff00 366px,#31ff7a 378px,#2bff8a 379px,#19ffdd 382px,#0ffff5 388px,#00f0ff 399px,#00a4fe 429px,#0098fd 441px,#00afff 470px,#00d4ff 493px,#00efff 519px,#08f8fa 523px)"></i>
<i style="background:linear-gradient(90deg,#c9fc00 16px,#ebfa00 32px,#f5f200 44px,#f8c800 53px,#ff6700 63px,#ff3e03 69px,#ff2c06 74px,#ff260a 84px,#ff2c05 92px,#ff4503 98px,#f8c900 117px,#f5f500 151px,#e2fb00 186px,#f2f600 246px,#ecf900 270px,#95fc00 312px,#88fc00 345px,#6eff00 366px,#2cff85 379px,#19ffdc 382px,#0ffff5 388px,#00f0ff 399px,#00a4fe 429px,#0097fd 441px,#00afff 471px,#03f3fd 522px)"></i>
<i style="background:linear-gradient(90deg,#c8fc00 17px,#cdfc00 23px,#eafa00 34px,#f5f400 46px,#f8c800 56px,#ff6100 67px,#ff4203 72px,#ff2d05 78px,#ff2709 86px,#ff2c06 94px,#ff4203 100px,#ff6100 106px,#faa300 114px,#f8c800 121px,#f5f500 157px,#ebfa00 186px,#f3f600 247px,#edf900 268px,#94fc00 312px,#89fc00 345px,#6eff00 366px,#2dff82 379px,#19ffda 382px,#0efef6 389px,#00f0ff 399px,#00a3fe 429px,#0097fd 441px,#00aeff 471px,#00d4ff 494px,#01f1ff 521px)"></i>
<i style="background:linear-gradient(90deg,#c6fc00 18px,#ebfa00 37px,#f5f400 49px,#f8c800 59px,#ff6500 70px,#ff4c02 74px,#ff2e05 82px,#ff2908 89px,#ff2d05 97px,#ff3f03 102px,#ff6100 109px,#faa300 118px,#f8c800 127px,#f5f500 164px,#ecf900 267px,#94fc00 311px,#89fc00 345px,#6eff00 366px,#2dff81 379px,#1affd7 382px,#0efef6 389px,#00f0ff 399px,#00a1fe 430px,#0097fd 441px,#00aeff 472px,#00d3ff 494px,#00eeff 520px)"></i>
<i style="background:linear-gradient(90deg,#c5fc00 19px,#ebfa00 40px,#f5f300 52px,#f8c900 62px,#ff6400 74px,#ff5302 77px,#ff3005 86px,#ff2b06 93px,#ff3c04 104px,#ff6400 113px,#fa9e00 122px,#f8c600 134px,#f5f500 172px,#ecf900 265px,#93fc00 310px,#89fc00 345px,#6eff01 366px,#2eff81 379px,#1affd6 382px,#0efef6 389px,#00f0ff 399px,#00a1fe 430px,#0097fd 441px,#00adff 472px,#00d3ff 495px,#00ecff 519px)"></i>
<i style="background:linear-gradient(90deg,#c5fc00 19px,#f5f300 55px,#f8cb00 65px,#ff5601 81px,#ff3704 89px,#ff2d05 97px,#ff3a04 106px,#ff6400 117px,#faa100 129px,#f8c600 143px,#f5f300 178px,#f5f500 244px,#ebfa00 264px,#93fc00 309px,#8afc00 344px,#70ff00 365px,#6dff01 366px,#2dff81 379px,#1affd6 382px,#0efef6 389px,#00f0ff 399px,#00a3fe 429px,#0096fd 441px,#00adff 472px,#00d3ff 495px,#00ecff 519px)"></i>
<i style="background:linear-gradient(90deg,#c4fc00 20px,#f5f300 58px,#f8c900 69px,#fe6a00 82px,#ff5102 87px,#ff3a04 94px,#ff3105 102px,#ff3c04 109px,#fa9f00 136px,#f8c700 152px,#f5ec00 178px,#ebfa00 261px,#92fc00 308px,#8afc00 344px,#70ff00 365px,#6dff02 366px,#2dff82 379px,#1affd7 382px,#0efef6 389px,#00f0ff 399px,#00a3fe 429px,#0096fd 440px,#00adff 473px,#00d2ff 495px,#00e9ff 518px)"></i>
<i style="background:linear-gradient(90deg,#c4fc00 21px,#f5f400 61px,#f8c800 73px,#ff5701 91px,#ff3604 105px,#ff6200 124px,#faa100 143px,#f8c900 160px,#f5e600 180px,#ebfa00 258px,#92fc00 307px,#8afc00 344px,#6fff00 365px,#51ff3b 372px,#2cff86 379px,#19ffdb 382px,#0ffff4 388px,#00f0ff 399px,#00a1fe 430px,#0096fd 440px,#00adff 473px,#00d2ff 496px,#00e7ff 517px)"></i>
<i style="background:linear-gradient(90deg,#c4fc00 22px,#f5f500 64px,#f8c800 77px,#ff5e01 95px,#ff3d04 109px,#ff6300 126px,#faa000 146px,#f5e200 183px,#ebfa00 255px,#cffc00 275px,#a6fc00 291px,#91fc00 306px,#8afc00 344px,#6fff00 365px,#30ff7c 378px,#2bff8b 379px,#19ffdd 382px,#0ffff5 388px,#00efff 399px,#00a1fe 430px,#0096fd 440px,#00aeff 474px,#00e5ff 516px)"></i>
<i style="background:linear-gradient(90deg,#c4fc00 23px,#f5f300 68px,#f8c900 81px,#ff6400 100px,#ff4603 112px,#ff6300 126px,#fa9f00 146px,#f5e100 187px,#ebfa00 252px,#d0fc00 273px,#a6fc00 289px,#90fc00 305px,#8afc00 344px,#6fff00 365px,#2fff7e 378px,#18ffdd 382px,#0ffff5 388px,#00efff 399px,#00a1fe 430px,#0096fd 440px,#00aeff 474px,#00e4ff 515px)"></i>
<i style="background:linear-gradient(90deg,#c4fc00 24px,#f5f500 71px,#f8c800 86px,#ff6200 107px,#ff5102 115px,#ff6300 126px,#faa200 147px,#f5e300 190px,#ebfa00 249px,#d2fb00 270px,#a7fc00 287px,#8ffc00 304px,#8bfc00 343px,#6fff00 365px,#2eff81 378px,#1bffd2 381px,#18ffdf 382px,#0efef5 388px,#00f0ff 398px,#00a1fe 430px,#0095fd 440px,#00afff 475px,#00e2ff 514px)"></i>
<i style="background:linear-gradient(90deg,#c4fc00 25px,#f5f400 75px,#f8c600 92px,#faa000 102px,#ff6400 113px,#ff5b01 119px,#ff6400 127px,#f9ae00 155px,#f5e500 193px,#ebfa00 247px,#d2fb00 268px,#a7fc00 285px,#8ffc00 302px,#8bfc00 343px,#6fff00 365px,#2cff87 378px,#19ffdc 381px,#0ffff5 387px,#00f0ff 398px,#009ffe 431px,#0095fd 440px,#00adff 474px,#00e1ff 513px)"></i>
<i style="background:linear-gradient(90deg,#c4fc00 26px,#f5f500 78px,#f8c600 98px,#faa200 108px,#fe7100 117px,#ff6400 124px,#fe7000 133px,#faa100 151px,#f8c800 171px,#f5f500 216px,#ebfa00 245px,#d8fb00 262px,#a5fc00 284px,#8bfc00 303px,#8bfc00 342px,#6eff00 365px,#2fff7d 377px,#18ffde 381px,#0ffff5 387px,#00efff 398px,#009efe 431px,#0095fd 440px,#00abff 472px,#00e0ff 512px)"></i>
<i style="background:linear-gradient(90deg,#c4fc00 27px,#f5f400 82px,#f8c900 104px,#fd7f00 122px,#fe7400 129px,#fd8000 140px,#f8c800 173px,#f5f500 211px,#ebfa00 243px,#dbfb00 257px,#a5fc00 282px,#8afc00 302px,#8bfc00 342px,#70ff00 364px,#68ff0b 366px,#2dff81 377px,#19ffdc 380px,#0ffff4 386px,#00f0ff 397px,#009efe 431px,#0095fd 440px,#00a9ff 470px,#00dfff 511px)"></i>
<i style="background:linear-gradient(90deg,#c4fc00 28px,#f5f500 85px,#f8ca00 111px,#fb9600 127px,#fc8b00 136px,#f5f500 209px,#e1fb00 250px,#cefc00 263px,#a4fc00 281px,#88fc00 302px,#8cfc00 341px,#6fff00 364px,#30ff7b 376px,#2bff8d 377px,#1cffcd 379px,#18ffde 380px,#0ffff5 386px,#00efff 397px,#009efe 431px,#0095fd 439px,#00a9ff 470px,#00deff 510px)"></i>
<i style="background:linear-gradient(90deg,#c4fc00 29px,#f5f500 89px,#f7d300 115px,#f9b000 132px,#faa900 142px,#f9b200 157px,#f5f500 208px,#e2fb00 247px,#a4fc00 279px,#86fc00 301px,#8bfc00 341px,#6fff00 364px,#2eff80 376px,#19ffdd 379px,#0ffff4 385px,#00f0ff 396px,#009cfe 432px,#0095fd 439px,#00a9ff 470px,#00dcff 509px)"></i>
<i style="background:linear-gradient(90deg,#c4fc00 30px,#f5f500 92px,#f8c700 150px,#f7cf00 169px,#f5f500 207px,#e2fb00 244px,#86fc00 299px,#8cfc00 341px,#70ff00 363px,#6dff01 364px,#30ff7c 375px,#2aff90 376px,#1bffd5 378px,#0efef5 385px,#00efff 396px,#009bfe 432px,#0095fd 439px,#00a9ff 470px,#00daff 508px)"></i>
<i style="background:linear-gradient(90deg,#c4fc00 31px,#f5f500 96px,#f6d900 158px,#f5f500 206px,#e2fa00 240px,#84fc00 298px,#8cfc00 340px,#6fff00 363px,#2dff82 375px,#1dffc9 377px,#18ffde 378px,#0ffff5 384px,#00f0ff 395px,#0095fd 438px,#0098fe 453px,#00d7ff 507px)"></i>
<i style="background:linear-gradient(90deg,#c4fc00 32px,#f5f500 100px,#f5e400 163px,#f5f500 203px,#e1fb00 237px,#83fc00 296px,#8cfc00 340px,#6eff01 363px,#2fff7e 374px,#19ffdd 377px,#0ffff5 383px,#00efff 395px,#0095fd 438px,#0098fe 453px,#00d5ff 506px)"></i>
<i style="background:linear-gradient(90deg,#c4fc00 33px,#f5f500 104px,#f5eb00 162px,#f5f500 197px,#e3fa00 232px,#82fc00 294px,#8cfc00 339px,#6fff00 362px,#31ff7a 373px,#2aff8f 374px,#1affd8 376px,#0efef6 383px,#00efff 394px,#0094fd 438px,#0098fe 453px,#00d3ff 505px)"></i>
<i style="background:linear-gradient(90deg,#c4fc00 34px,#f5f500 107px,#f3f600 197px,#e1fb00 229px,#81fc00 293px,#8dfc00 338px,#70ff00 361px,#6dff02 362px,#2cff85 373px,#1cffd0 375px,#18ffdf 376px,#0efef6 382px,#00f0ff 393px,#0094fd 437px,#0098fd 453px,#00d1ff 504px)"></i>
<i style="background:linear-gradient(90deg,#c4fc00 35px,#f5f500 110px,#f2f700 194px,#e0fb00 226px,#80fc00 291px,#8dfc00 338px,#6eff00 361px,#2eff80 372px,#1dffc8 374px,#18ffde 375px,#0efef5 381px,#00eeff 393px,#0094fd 437px,#0098fd 453px,#00d0ff 503px)"></i>
<i style="background:linear-gradient(90deg,#c4fc00 36px,#f4f600 112px,#f0f700 191px,#eafa00 212px,#cbfc00 241px,#7ffc00 289px,#8dfc00 337px,#6fff00 360px,#2fff7d 371px,#19ffdd 374px,#0ffff5 380px,#00efff 392px,#0094fd 437px,#0097fd 453px,#00cfff 502px)"></i>
<i style="background:linear-gradient(90deg,#c4fc00 38px,#f4f600 117px,#ebfa00 206px,#c9fc00 240px,#7ffc00 286px,#7ffc00 316px,#8efc00 326px,#8efc00 336px,#70ff00 359px,#6dff02 360px,#31ff7b 370px,#29ff93 371px,#19ffdc 373px,#0ffff5 379px,#00efff 391px,#0094fd 436px,#0096fd 452px,#00cdff 500px)"></i>
<i style="background:linear-gradient(90deg,#c4fc00 39px,#f1f700 116px,#ebfa00 202px,#c9fc00 237px,#7efc00 284px,#7dfc00 314px,#8ffc00 326px,#8efc00 335px,#6eff00 359px,#32ff79 369px,#2bff8c 370px,#1affd9 372px,#0ffff5 378px,#00f0ff 390px,#0094fd 436px,#0096fd 452px,#00c3ff 486px,#00caff 499px)"></i>
<i style="background:linear-gradient(90deg,#c3fc00 40px,#c5fc00 55px,#edf900 107px,#ebfa00 197px,#c9fc00 234px,#7dfc00 282px,#7dfc00 315px,#8ffc00 325px,#8ffc00 334px,#6fff00 358px,#2cff85 369px,#1bffd4 371px,#0ffff4 377px,#00f0ff 389px,#0093fd 436px,#0095fd 451px,#00c4ff 486px,#00c7ff 498px)"></i>
<i style="background:linear-gradient(90deg,#c3fc00 41px,#c5fc00 57px,#ebfa00 104px,#ebfa00 193px,#c8fc00 231px,#7dfc00 279px,#7cfc00 314px,#90fc00 329px,#8bfc00 339px,#6fff00 357px,#2dff81 368px,#1cffce 370px,#18ffdf 371px,#0efef6 377px,#00f0ff 388px,#00d7ff 404px,#0093fd 435px,#0095fd 451px,#00c5ff 486px,#00c5ff 497px)"></i>
<i style="background:linear-gradient(90deg,#c3fc00 42px,#c4fc00 59px,#ebfa00 110px,#ebfa00 187px,#c8fc00 227px,#7dfc00 276px,#7cfc00 313px,#90fc00 328px,#8cfc00 338px,#70ff00 356px,#6dff03 357px,#2eff7f 367px,#1dffc9 369px,#18ffde 370px,#0efef6 376px,#00efff 388px,#00d8ff 403px,#0093fd 435px,#0095fd 451px,#00c6ff 486px,#00c5ff 496px)"></i>
<i style="background:linear-gradient(90deg,#c3fc00 44px,#c4fc00 61px,#ebfa00 118px,#ebfa00 181px,#c9fc00 222px,#7dfc00 273px,#7bfc00 312px,#90fc00 327px,#8cfc00 337px,#6eff00 356px,#2fff7d 366px,#18ffde 369px,#0efef6 375px,#00f0ff 387px,#0092fd 435px,#0094fd 451px,#00c7ff 486px,#00c5ff 494px)"></i>
<i style="background:linear-gradient(90deg,#c3fc00 45px,#c3fc00 63px,#e7fa00 118px,#ebfa00 171px,#c8fc00 217px,#7dfc00 270px,#7afd00 310px,#91fc00 326px,#8cfc00 336px,#6eff00 355px,#30ff7b 365px,#19ffdd 368px,#0efef5 374px,#00f0ff 386px,#0092fd 435px,#0094fd 451px,#00c8ff 486px,#00c7ff 493px)"></i>
<i style="background:linear-gradient(90deg,#c3fc00 46px,#c2fc00 65px,#e3fa00 117px,#e6fa00 165px,#c8fc00 211px,#7dfc00 267px,#78fd00 306px,#91fc00 326px,#6fff00 354px,#31ff7a 364px,#2aff8f 365px,#19ffdc 367px,#0ffff5 373px,#00efff 386px,#0091fd 435px,#0094fd 451px,#00c9ff 486px,#00c9ff 492px)"></i>
<i style="background:linear-gradient(90deg,#c2fc00 48px,#c1fc00 66px,#e0fb00 118px,#e1fb00 162px,#c7fc00 205px,#7cfc00 264px,#77fd00 304px,#91fc00 325px,#6fff00 353px,#32ff78 363px,#2bff8a 364px,#19ffda 366px,#0ffff5 372px,#00efff 385px,#0091fd 434px,#0093fd 451px,#00aaff 462px,#00cbff 490px)"></i>
<i style="background:linear-gradient(90deg,#c2fc00 49px,#bffc00 67px,#defb00 120px,#ddfb00 157px,#c7fc00 198px,#7cfc00 261px,#77fd00 302px,#92fc00 324px,#6fff00 352px,#6cff04 353px,#2dff84 363px,#1bffd5 365px,#0ffff5 371px,#00f0ff 384px,#0090fd 434px,#0093fd 451px,#00a9ff 461px,#00ccff 489px)"></i>
<i style="background:linear-gradient(90deg,#c1fc00 51px,#bdfc00 66px,#dafb00 115px,#dcfb00 149px,#c6fc00 191px,#7cfc00 258px,#76fd00 301px,#92fc00 323px,#70ff00 351px,#6dff02 352px,#2eff81 362px,#1cffcf 364px,#18ffdf 365px,#0ffff4 370px,#00f0ff 383px,#008ffd 434px,#0091fd 450px,#00aaff 461px,#00cdff 487px)"></i>
<i style="background:linear-gradient(90deg,#c1fc00 52px,#bcfc00 71px,#ddfb00 140px,#c8fc00 182px,#7cfc00 255px,#75fe00 299px,#92fc00 322px,#70ff00 350px,#6eff01 351px,#2fff7f 361px,#1dffc9 363px,#18ffdf 364px,#0efef6 370px,#00f0ff 382px,#008efd 434px,#0090fd 450px,#00a9ff 460px,#00cdff 486px)"></i>
<i style="background:linear-gradient(90deg,#bffc00 54px,#bcfc00 76px,#dcfb00 139px,#c8fc00 176px,#7cfc00 251px,#75fe00 297px,#92fc00 322px,#6eff00 350px,#2fff7d 360px,#18ffde 363px,#0efef6 369px,#00efff 382px,#008dfd 434px,#0090fd 450px,#00aaff 460px,#00cbff 484px)"></i>
<i style="background:linear-gradient(90deg,#bffc00 55px,#bafc00 81px,#dbfb00 139px,#a3fc00 213px,#7cfc00 247px,#75fe00 296px,#92fc00 321px,#6eff00 349px,#30ff7c 359px,#19ffdd 362px,#0efef5 368px,#00efff 381px,#008cfd 434px,#008ffd 450px,#00aaff 460px,#00cbff 483px)"></i>
<i style="background:linear-gradient(90deg,#befc00 57px,#b8fc00 88px,#d8fb00 138px,#a0fc00 211px,#7bfc00 243px,#74fe00 294px,#92fc00 320px,#6eff00 348px,#31ff7a 358px,#2aff90 359px,#19ffdc 361px,#0ffff5 367px,#00efff 380px,#008cfc 433px,#008efd 450px,#00abff 460px,#00c7ff 481px)"></i>
<i style="background:linear-gradient(90deg,#befc00 58px,#b5fc00 93px,#d2fb00 137px,#a0fc00 205px,#7afd00 241px,#74fe00 293px,#93fc00 318px,#6eff00 347px,#31ff79 357px,#2bff8c 358px,#19ffdb 360px,#0ffff5 366px,#00f0ff 379px,#008afc 433px,#008efd 450px,#00aaff 459px,#00c6ff 480px)"></i>
<i style="background:linear-gradient(90deg,#bdfc00 60px,#b2fc00 97px,#c8fc00 138px,#76fd00 244px,#75fe00 293px,#93fc00 317px,#6eff00 346px,#2cff88 357px,#1affd6 359px,#0ffff5 365px,#00f0ff 378px,#008afc 432px,#008cfc 449px,#00aaff 459px,#00c3ff 478px)"></i>
<i style="background:linear-gradient(90deg,#befc00 61px,#b0fc00 93px,#b6fc00 153px,#9dfc00 193px,#7dfc00 225px,#73fe00 250px,#76fd00 293px,#93fc00 317px,#6eff00 345px,#2cff85 356px,#1bffd2 358px,#18ffe0 359px,#0ffff5 364px,#00f0ff 377px,#0088fc 432px,#008bfc 449px,#00abff 459px,#00c2ff 477px)"></i>
<i style="background:linear-gradient(90deg,#befc00 63px,#b1fc00 94px,#adfc00 156px,#72fe00 246px,#76fd00 292px,#92fc00 316px,#6eff00 344px,#2dff83 355px,#1cffcf 357px,#18ffdf 358px,#0ffff4 363px,#00f0ff 376px,#0088fc 431px,#008afc 449px,#00abff 459px,#00bfff 475px)"></i>
<i style="background:linear-gradient(90deg,#befc00 65px,#a8fc00 155px,#71fe00 242px,#77fd00 290px,#92fc00 315px,#6eff00 343px,#2dff82 354px,#1cffcd 356px,#18ffdf 357px,#0ffff4 362px,#00f0ff 375px,#0087fc 430px,#008afc 449px,#00abff 459px,#00bdff 473px)"></i>
<i style="background:linear-gradient(90deg,#bdfc00 67px,#a4fc00 152px,#70ff00 239px,#77fd00 288px,#92fc00 314px,#6eff00 342px,#2dff82 353px,#1dffcb 355px,#18ffde 356px,#0efef6 362px,#00eeff 375px,#0086fc 429px,#0088fc 448px,#00aaff 458px,#00bbff 471px)"></i>
<i style="background:linear-gradient(90deg,#bdfc00 68px,#acfc00 126px,#70ff00 232px,#77fd00 286px,#92fc00 311px,#70ff00 340px,#68ff0d 342px,#2dff82 352px,#1dffca 354px,#18ffde 355px,#0efef6 361px,#00eeff 374px,#0085fc 429px,#0087fc 448px,#00aaff 458px,#00b9ff 470px)"></i>
<i style="background:linear-gradient(90deg,#bbfc00 70px,#adfc00 121px,#6fff00 228px,#78fd00 285px,#92fc00 310px,#6fff00 339px,#67ff0e 341px,#2dff82 351px,#1dffca 353px,#18ffde 354px,#0efef5 360px,#00f0ff 372px,#0084fc 428px,#0086fc 448px,#00aaff 458px,#00b6ff 468px)"></i>
<i style="background:linear-gradient(90deg,#b7fc00 72px,#aafc00 121px,#6eff00 221px,#69ff0a 230px,#79fd00 285px,#92fc00 308px,#6fff00 338px,#2cff84 350px,#1dffcb 352px,#18ffde 353px,#0efef5 359px,#00f0ff 371px,#0083fc 427px,#0086fc 448px,#00abff 458px,#00b3ff 466px)"></i>
<i style="background:linear-gradient(90deg,#b3fc00 74px,#6eff00 212px,#63ff17 226px,#6eff00 256px,#7cfc00 288px,#92fc00 307px,#6eff00 337px,#2cff87 349px,#1cffcd 351px,#18ffdf 352px,#0efef5 358px,#00f0ff 370px,#0083fc 425px,#0084fc 447px,#00abff 458px,#00b1ff 464px)"></i>
<i style="background:linear-gradient(90deg,#affc00 76px,#6eff00 204px,#5bff26 223px,#60ff1c 242px,#6eff00 256px,#7dfc00 287px,#92fc00 305px,#6eff00 336px,#31ff7b 347px,#2bff8c 348px,#1cffd1 350px,#18ffdf 351px,#0efef5 357px,#00efff 369px,#0082fc 424px,#0083fc 447px,#00a9ff 457px,#00b0ff 462px)"></i>
<i style="background:linear-gradient(90deg,#acfc00 78px,#6eff00 197px,#5bff26 209px,#54ff35 219px,#5aff29 239px,#6fff00 255px,#7dfc00 285px,#92fc00 303px,#6fff00 334px,#30ff7c 346px,#2aff91 347px,#1bffd5 349px,#0efef6 356px,#00efff 368px,#0081fc 423px,#0083fc 447px,#00aeff 460px)"></i>
<i style="background:linear-gradient(90deg,#abfc00 80px,#6eff00 191px,#55ff33 206px,#4dff42 219px,#55ff32 237px,#6eff00 253px,#92fc00 303px,#6fff00 333px,#2fff7f 345px,#19ffdb 348px,#0ffff4 354px,#00f0ff 366px,#0080fc 422px,#0082fc 447px,#00acff 458px)"></i>
<i style="background:linear-gradient(90deg,#aafc00 82px,#6eff00 186px,#51ff3a 202px,#49ff4a 217px,#51ff3a 234px,#6eff00 251px,#92fc00 301px,#70ff00 331px,#6dff02 332px,#2dff82 344px,#19ffdd 347px,#0ffff5 353px,#00efff 365px,#0080fb 420px,#0081fc 446px,#008dfd 451px,#00a7ff 456px)"></i>
<i style="background:linear-gradient(90deg,#a7fc00 84px,#6eff00 181px,#4fff3e 198px,#47ff4f 214px,#4eff3f 231px,#6fff00 249px,#92fc00 299px,#6fff00 330px,#30ff7b 342px,#2bff8c 343px,#1cffcd 345px,#18ffde 346px,#0ffff5 352px,#00f0ff 363px,#0080fb 418px,#0080fc 446px,#009dfe 454px)"></i>
<i style="background:linear-gradient(90deg,#a4fc00 86px,#87fc00 122px,#6eff00 177px,#4fff3e 194px,#46ff50 213px,#4eff40 229px,#6eff00 246px,#91fc00 297px,#6fff00 328px,#68ff0c 330px,#2eff7f 341px,#19ffda 344px,#0ffff4 350px,#00efff 362px,#0080fb 416px,#007efb 444px,#0093fd 452px)"></i>
<i style="background:linear-gradient(90deg,#9efc00 88px,#85fc00 118px,#6eff00 173px,#4fff3d 191px,#46ff50 211px,#4fff3e 227px,#6eff00 244px,#91fc00 295px,#6eff00 327px,#31ff7a 339px,#2bff8a 340px,#1dffca 342px,#18ffde 343px,#0ffff5 349px,#00f0ff 360px,#0080fb 414px,#007efb 443px,#008afc 450px)"></i>
<i style="background:linear-gradient(90deg,#98fc00 90px,#83fc00 116px,#6fff00 170px,#51ff3b 189px,#46ff50 209px,#4fff3f 224px,#6fff00 242px,#90fc00 293px,#6fff00 325px,#2eff81 338px,#19ffdc 341px,#0ffff4 347px,#00f0ff 358px,#00d7ff 374px,#0080fb 412px,#007afb 425px,#0084fc 448px)"></i>
<i style="background:linear-gradient(90deg,#92fc00 93px,#6eff00 169px,#52ff39 188px,#46ff4f 207px,#4fff3f 221px,#6eff00 239px,#8ffc00 291px,#6fff00 323px,#2fff7e 336px,#1bffd5 339px,#0efef6 346px,#01f1ff 356px,#00d8ff 372px,#0080fb 410px,#007ffb 445px)"></i>
<i style="background:linear-gradient(90deg,#8cfc00 95px,#6eff01 168px,#50ff3c 189px,#47ff4f 205px,#50ff3d 219px,#6eff00 237px,#8efc00 289px,#6fff00 321px,#30ff7c 334px,#2aff8e 335px,#1cffce 337px,#18ffde 338px,#0efef5 344px,#00efff 355px,#00d7ff 371px,#007efb 409px,#007dfb 443px)"></i>
<i style="background:linear-gradient(90deg,#87fc00 97px,#6eff00 167px,#4eff40 189px,#46ff4f 202px,#4fff3d 216px,#6eff00 234px,#8efc00 286px,#6fff00 319px,#31ff7a 332px,#2bff8a 333px,#1dffcb 335px,#18ffde 336px,#0ffff5 342px,#00f0ff 353px,#00d8ff 369px,#007efb 407px,#007cfb 441px)"></i>
<i style="background:linear-gradient(90deg,#84fc00 100px,#86fc00 124px,#6eff00 166px,#4eff3f 186px,#46ff50 199px,#4eff40 212px,#6eff00 232px,#8cfc00 284px,#6fff00 317px,#31ff7a 330px,#2cff88 331px,#1dffc9 333px,#18ffde 334px,#0ffff5 340px,#00f0ff 351px,#00d6ff 368px,#007dfb 406px,#007dfb 438px)"></i>
<i style="background:linear-gradient(90deg,#86fc00 102px,#89fc00 120px,#6eff00 165px,#4eff40 183px,#46ff50 196px,#4eff40 209px,#6eff00 229px,#8bfc00 281px,#6fff00 315px,#31ff7a 328px,#2cff88 329px,#1dffc9 331px,#18ffde 332px,#0ffff5 338px,#00f0ff 349px,#00d7ff 366px,#007dfb 404px,#007efb 436px)"></i>
<i style="background:linear-gradient(90deg,#8cfc00 105px,#6fff00 162px,#4eff3f 179px,#46ff51 192px,#4dff42 205px,#6eff00 227px,#8afc00 278px,#6eff00 313px,#31ff7a 326px,#2bff8a 327px,#1dffcb 329px,#18ffde 330px,#0ffff5 336px,#00f0ff 347px,#00d7ff 364px,#007dfb 402px,#0077fb 417px,#0080fc 433px)"></i>
<i style="background:linear-gradient(90deg,#8efc00 107px,#6eff01 159px,#4fff3f 175px,#46ff50 188px,#4dff42 201px,#6eff00 224px,#89fc00 275px,#6eff00 311px,#30ff7b 324px,#2bff8c 325px,#1cffcd 327px,#18ffde 328px,#0ffff5 334px,#00f0ff 345px,#00d8ff 362px,#0090fd 389px,#007cfb 400px,#0076fb 416px,#0081fc 431px)"></i>
<i style="background:linear-gradient(90deg,#8bfc00 110px,#6eff00 153px,#4eff40 171px,#46ff50 183px,#4dff42 196px,#6eff00 221px,#87fc00 271px,#6fff00 308px,#65ff12 311px,#30ff7c 322px,#2aff90 323px,#1cffd1 325px,#18ffdf 326px,#0efef5 332px,#00f0ff 343px,#00d6ff 361px,#008ffd 387px,#007cfb 398px,#0076fb 415px,#0081fc 428px)"></i>
<i style="background:linear-gradient(90deg,#85fc00 113px,#6eff01 147px,#50ff3d 165px,#47ff4d 178px,#4dff41 190px,#6eff00 217px,#85fc00 267px,#6fff00 306px,#2fff7e 320px,#1bffd5 323px,#0efef5 330px,#00f0ff 341px,#00d6ff 359px,#008efd 385px,#007dfb 395px,#0075fb 412px,#0080fc 425px)"></i>
<i style="background:linear-gradient(90deg,#7efc00 115px,#6eff00 140px,#51ff3a 159px,#4aff49 172px,#50ff3c 184px,#6eff00 211px,#84fc00 263px,#6fff00 304px,#2eff80 318px,#19ffdb 321px,#10fff4 327px,#00f0ff 339px,#00d6ff 357px,#007dfb 392px,#0075fb 410px,#0080fc 423px)"></i>
<i style="background:linear-gradient(90deg,#7afd00 118px,#6dff01 134px,#54ff33 152px,#4eff40 164px,#54ff34 176px,#6eff00 200px,#82fc00 259px,#7bfc00 290px,#6eff00 302px,#2dff82 316px,#19ffdd 319px,#0ffff4 325px,#00f0ff 337px,#00d6ff 355px,#007efb 389px,#0075fb 407px,#007ffb 420px)"></i>
<i style="background:linear-gradient(90deg,#75fe00 121px,#6eff01 128px,#59ff2a 155px,#5dff21 166px,#6eff00 184px,#80fc00 254px,#7bfc00 287px,#6fff00 299px,#64ff13 302px,#31ff7b 313px,#2bff8a 314px,#1dffca 316px,#18ffde 317px,#0ffff5 323px,#00f0ff 335px,#00d8ff 352px,#007efb 386px,#0075fb 404px,#007ffb 417px)"></i>
<i style="background:linear-gradient(90deg,#6cff03 124px,#68ff0b 128px,#6eff00 137px,#7ffc00 250px,#7bfc00 284px,#6eff00 297px,#2fff7e 311px,#1bffd3 314px,#18ffdf 315px,#0efef5 321px,#00f0ff 333px,#00d7ff 350px,#007dfb 384px,#0075fb 402px,#007ffb 414px)"></i>
<i style="background:linear-gradient(90deg,#71fe00 128px,#7efc00 246px,#7bfc00 281px,#6fff00 294px,#65ff12 297px,#2dff81 309px,#19ffdc 312px,#10fff4 318px,#00efff 331px,#00d7ff 348px,#007dfb 381px,#0074fb 397px,#007dfb 410px)"></i>
<i style="background:linear-gradient(90deg,#79fd00 131px,#7cfc00 274px,#6eff00 292px,#30ff7c 306px,#2bff8d 307px,#1dffcb 309px,#18ffde 310px,#0ffff5 316px,#00f0ff 328px,#00d6ff 346px,#007cfb 379px,#0075fb 396px,#007dfb 407px)"></i>
<i style="background:linear-gradient(90deg,#7bfc00 134px,#74fe00 200px,#7cfc00 270px,#6fff00 289px,#2eff81 304px,#1affd9 307px,#0efef5 314px,#00f0ff 326px,#00d8ff 343px,#007bfb 377px,#0075fb 393px,#007dfb 404px)"></i>
<i style="background:linear-gradient(90deg,#7afd00 138px,#7cfc00 266px,#6fff00 286px,#2fff7d 301px,#18ffde 305px,#0ffff4 311px,#00f0ff 324px,#00d7ff 341px,#007afb 375px,#007afb 400px)"></i>
<i style="background:linear-gradient(90deg,#7afd00 141px,#7cfc00 263px,#6fff00 283px,#30ff7b 298px,#2cff87 299px,#19ffdc 302px,#0ffff5 309px,#00efff 322px,#00d7ff 339px,#007bfb 372px,#0079fb 397px)"></i>
<i style="background:linear-gradient(90deg,#7afd00 145px,#7cfc00 259px,#6eff00 280px,#2cff85 296px,#1affd7 299px,#0ffff4 306px,#00f0ff 319px,#00d6ff 337px,#007cfb 369px,#0078fb 393px)"></i>
<i style="background:linear-gradient(90deg,#7afd00 149px,#7bfc00 254px,#6eff00 276px,#2fff7d 292px,#2bff8a 293px,#1affd7 296px,#10fff3 303px,#00f0ff 317px,#00d6ff 335px,#007bfb 367px,#0076fb 389px)"></i>
<i style="background:linear-gradient(90deg,#79fd00 153px,#7bfc00 249px,#6fff00 271px,#2dff82 289px,#19ffdc 293px,#0ffff5 301px,#00f0ff 315px,#00d8ff 332px,#007cfb 364px,#0076fb 385px)"></i>
<i style="background:linear-gradient(90deg,#7afd00 157px,#7afd00 240px,#6eff00 266px,#2dff82 285px,#1affd7 289px,#0ffff5 298px,#00f0ff 312px,#00d7ff 330px,#007dfb 361px,#0075fb 381px)"></i>
<i style="background:linear-gradient(90deg,#7afd00 162px,#7bfc00 232px,#6fff00 260px,#2eff7f 280px,#19ffdb 285px,#0ffff4 294px,#00f0ff 310px,#00d7ff 328px,#007ffb 358px,#0075fb 376px)"></i>
<i style="background:linear-gradient(90deg,#7afd00 167px,#7afd00 228px,#6fff00 254px,#60ff1d 260px,#2fff7f 275px,#1affd6 280px,#18ffde 281px,#0ffff5 291px,#00f0ff 307px,#00d7ff 326px,#0087fc 352px,#0075fb 371px)"></i>
<i style="background:linear-gradient(90deg,#7bfc00 172px,#7afd00 225px,#6dff01 249px,#2eff80 270px,#1affd8 275px,#18ffde 276px,#0ffff5 287px,#00f0ff 305px,#00d7ff 324px,#0089fc 349px,#0075fb 366px)"></i>
<i style="background:linear-gradient(90deg,#7bfc00 177px,#79fd00 221px,#6dff02 243px,#2eff80 265px,#19ffda 270px,#0ffff5 283px,#00f0ff 302px,#00d7ff 322px,#008cfd 346px,#0076fb 361px)"></i>
<i style="background:linear-gradient(90deg,#7afd00 182px,#6eff00 236px,#5aff28 245px,#2eff80 260px,#1affd9 265px,#0ffff5 279px,#00f0ff 299px,#00d7ff 320px,#008ffd 343px,#0078fb 356px)"></i>
<i style="background:linear-gradient(90deg,#7afd00 189px,#6dff01 230px,#2fff7e 255px,#19ffdd 261px,#14ffe8 267px,#08f8fa 285px,#00d7ff 318px,#007dfb 349px)"></i>
<i style="background:linear-gradient(90deg,#78fd00 195px,#6dff01 223px,#2fff7e 250px,#2cff85 251px,#19ffdc 256px,#16ffe4 260px,#09f9f9 280px,#00d6ff 317px,#0083fc 343px)"></i>
<i style="background:linear-gradient(90deg,#74fe00 203px,#6dff02 215px,#36ff70 242px,#2cff87 246px,#1affd7 251px,#18ffdd 252px,#0ffff5 269px,#00f0ff 292px,#00d7ff 315px,#0094fd 335px)"></i>
<i style="background:linear-gradient(90deg,#64ff13 211px,#2dff84 240px,#1affd8 246px,#19ffdd 247px,#0ffff5 267px,#00e7ff 299px,#00d5ff 315px,#00acff 327px)"></i>
<i style="background:linear-gradient(90deg,#41ff5a 221px,#2dff83 233px,#19ffdd 241px,#03f3fd 283px,#00ccff 317px)"></i>
<i style="background:linear-gradient(90deg,#18ffde 235px,#0ffff5 263px,#00deff 303px)"></i>
<i style="background:linear-gradient(90deg,#14ffe8 251px,#00edff 287px)"></i>
</div>
<svg id="ov" width="800" height="746" viewBox="0 0 800 746">
<defs><clipPath id="cd"><ellipse cx="391.5" cy="355.5" rx="269.5" ry="277.5"/></clipPath><clipPath id="cn"><path d="M391.5 355.5L375.0 360.0L368.8 358.8L356.0 355.5L344.2 352.8L325.0 349.0L314.0 341.0L303.6 332.1L294.0 321.7L287.5 311.2L282.0 300.0L272.0 282.0L270.0 255.0L270.0 240.0L267.0 220.0L270.0 207.4L268.0 202.0L273.5 191.3L272.4 179.5L276.7 158.0L286.3 147.4L290.6 135.6L296.0 121.6L307.8 107.0L312.0 101.0L321.7 92.7L330.0 85.0L337.0 70.0L337.0 40.0L720.0 40.0L720.0 700.0L250.0 700.0L250.0 606.0L262.0 598.0L275.4 596.5L296.3 596.5L317.3 593.3L339.0 588.4L346.2 583.5L354.4 584.4L365.7 577.0L374.5 568.3L388.0 563.5L402.0 558.7L410.0 548.0L417.0 537.0L426.0 527.3L432.4 517.6L443.0 506.0L448.5 495.8L451.0 479.0L453.3 464.4L456.5 449.0L459.0 432.2L455.0 418.6L450.6 404.0L443.0 394.0L438.5 381.0L429.0 372.0L417.6 365.0L405.0 358.0L391.5 355.5Z"/></clipPath><clipPath id="cp"><path clip-rule="evenodd" d="M0 0H800V746H0ZM391.5 355.5L375.0 360.0L368.8 358.8L356.0 355.5L344.2 352.8L325.0 349.0L314.0 341.0L303.6 332.1L294.0 321.7L287.5 311.2L282.0 300.0L272.0 282.0L270.0 255.0L270.0 240.0L267.0 220.0L270.0 207.4L268.0 202.0L273.5 191.3L272.4 179.5L276.7 158.0L286.3 147.4L290.6 135.6L296.0 121.6L307.8 107.0L312.0 101.0L321.7 92.7L330.0 85.0L337.0 70.0L337.0 40.0L720.0 40.0L720.0 700.0L250.0 700.0L250.0 606.0L262.0 598.0L275.4 596.5L296.3 596.5L317.3 593.3L339.0 588.4L346.2 583.5L354.4 584.4L365.7 577.0L374.5 568.3L388.0 563.5L402.0 558.7L410.0 548.0L417.0 537.0L426.0 527.3L432.4 517.6L443.0 506.0L448.5 495.8L451.0 479.0L453.3 464.4L456.5 449.0L459.0 432.2L455.0 418.6L450.6 404.0L443.0 394.0L438.5 381.0L429.0 372.0L417.6 365.0L405.0 358.0L391.5 355.5Z"/></clipPath><pattern id="hn" width="239" height="239" patternUnits="userSpaceOnUse"><path d="M9 0.5h1m0 1h1m0 1h1m0 1h1m0 1h1m0 1h1m0 1h1m0 1h1m0 1h1m0 1h1m0 1h1m0 1h1m0 1h1m0 1h1m0 1h1m0 1h1m0 1h1m0 1h1m0 1h1m0 1h1m0 1h1m0 1h1m0 1h1m0 1h1m0 1h1m0 1h1m0 1h1m0 1h1m0 1h1m0 1h1m0 1h1m0 1h1m0 1h1m0 1h1m0 1h1m0 1h1m0 1h1m0 1h1m0 1h1m0 1h1m0 1h1m0 1h1m0 1h1m0 1h1m0 1h1m0 1h1m0 1h1m0 1h1m0 1h1m0 1h1m0 1h1m0 1h1m0 1h1m0 1h1m0 1h1m0 1h1m0 1h1m0 1h1m0 1h1m0 1h1m0 1h1m0 1h1m0 1h1m0 1h1m0 1h1m0 1h1m0 1h1m0 1h1m0 1h1m0 1h1m0 1h1m0 1h1m0 1h1m0 1h1m0 1h1m0 1h1m0 1h1m0 1h1m0 1h1m0 1h1m0 1h1m0 1h1m0 1h1m0 1h1m0 1h1m0 1h1m0 1h1m0 1h1m0 1h1m0 1h1m0 1h1m0 1h1m0 1h1m0 1h1m0 1h1m0 1h1m0 1h1m0 1h1m0 1h1m0 1h1m0 1h1m0 1h1m0 1h1m0 1h1m0 1h1m0 1h1m0 1h1m0 1h1m0 1h1m0 1h1m0 1h1m0 1h1m0 1h1m0 1h1m0 1h1m0 1h1m0 1h1m0 1h1m0 1h1m0 1h1m0 1h1m0 1h1m0 1h1m0 1h1m0 1h1m0 1h1m0 1h1m0 1h1m0 1h1m0 1h1m0 1h1m0 1h1m0 1h1m0 1h1m0 1h1m0 1h1m0 1h1m0 1h1m0 1h1m0 1h1m0 1h1m0 1h1m0 1h1m0 1h1m0 1h1m0 1h1m0 1h1m0 1h1m0 1h1m0 1h1m0 1h1m0 1h1m0 1h1m0 1h1m0 1h1m0 1h1m0 1h1m0 1h1m0 1h1m0 1h1m0 1h1m0 1h1m0 1h1m0 1h1m0 1h1m0 1h1m0 1h1m0 1h1m0 1h1m0 1h1m0 1h1m0 1h1m0 1h1m0 1h1m0 1h1m0 1h1m0 1h1m0 1h1m0 1h1m0 1h1m0 1h1m0 1h1m0 1h1m0 1h1m0 1h1m0 1h1m0 1h1m0 1h1m0 1h1m0 1h1m0 1h1m0 1h1m0 1h1m0 1h1m0 1h1m0 1h1m0 1h1m0 1h1m0 1h1m0 1h1m0 1h1m0 1h1m0 1h1m0 1h1m0 1h1m0 1h1m0 1h1m0 1h1m0 1h1m0 1h1m0 1h1m0 1h1m0 1h1m0 1h1m0 1h1m0 1h1m0 1h1m0 1h1m0 1h1m0 1h1m0 1h1m0 1h1m0 1h1m0 1h1m0 1h1m0 1h1m0 1h1m0 1h1m0 1h1m0 1h1M28 0.5h1m0 1h1m0 1h1m0 1h1m0 1h1m0 1h1m0 1h1m0 1h1m0 1h1m0 1h1m0 1h1m0 1h1m0 1h1m0 1h1m0 1h1m0 1h1m0 1h1m0 1h1m0 1h1m0 1h1m0 1h1m0 1h1m0 1h1m0 1h1m0 1h1m0 1h1m0 1h1m0 1h1m0 1h1m0 1h1m0 1h1m0 1h1m0 1h1m0 1h1m0 1h1m0 1h1m0 1h1m0 1h1m0 1h1m0 1h1m0 1h1m0 1h1m0 1h1m0 1h1m0 1h1m0 1h1m0 1h1m0 1h1m0 1h1m0 1h1m0 1h1m0 1h1m0 1h1m0 1h1m0 1h1m0 1h1m0 1h1m0 1h1m0 1h1m0 1h1m0 1h1m0 1h1m0 1h1m0 1h1m0 1h1m0 1h1m0 1h1m0 1h1m0 1h1m0 1h1m0 1h1m0 1h1m0 1h1m0 1h1m0 1h1m0 1h1m0 1h1m0 1h1m0 1h1m0 1h1m0 1h1m0 1h1m0 1h1m0 1h1m0 1h1m0 1h1m0 1h1m0 1h1m0 1h1m0 1h1m0 1h1m0 1h1m0 1h1m0 1h1m0 1h1m0 1h1m0 1h1m0 1h1m0 1h1m0 1h1m0 1h1m0 1h1m0 1h1m0 1h1m0 1h1m0 1h1m0 1h1m0 1h1m0 1h1m0 1h1m0 1h1m0 1h1m0 1h1m0 1h1m0 1h1m0 1h1m0 1h1m0 1h1m0 1h1m0 1h1m0 1h1m0 1h1m0 1h1m0 1h1m0 1h1m0 1h1m0 1h1m0 1h1m0 1h1m0 1h1m0 1h1m0 1h1m0 1h1m0 1h1m0 1h1m0 1h1m0 1h1m0 1h1m0 1h1m0 1h1m0 1h1m0 1h1m0 1h1m0 1h1m0 1h1m0 1h1m0 1h1m0 1h1m0 1h1m0 1h1m0 1h1m0 1h1m0 1h1m0 1h1m0 1h1m0 1h1m0 1h1m0 1h1m0 1h1m0 1h1m0 1h1m0 1h1m0 1h1m0 1h1m0 1h1m0 1h1m0 1h1m0 1h1m0 1h1m0 1h1m0 1h1m0 1h1m0 1h1m0 1h1m0 1h1m0 1h1m0 1h1m0 1h1m0 1h1m0 1h1m0 1h1m0 1h1m0 1h1m0 1h1m0 1h1m0 1h1m0 1h1m0 1h1m0 1h1m0 1h1m0 1h1m0 1h1m0 1h1m0 1h1m0 1h1m0 1h1m0 1h1m0 1h1m0 1h1m0 1h1m0 1h1m0 1h1m0 1h1m0 1h1m0 1h1m0 1h1m0 1h1m0 1h1m0 1h1m0 1h1m0 1h1M46 0.5h1m0 1h1m0 1h1m0 1h1m0 1h1m0 1h1m0 1h1m0 1h1m0 1h1m0 1h1m0 1h1m0 1h1m0 1h1m0 1h1m0 1h1m0 1h1m0 1h1m0 1h1m0 1h1m0 1h1m0 1h1m0 1h1m0 1h1m0 1h1m0 1h1m0 1h1m0 1h1m0 1h1m0 1h1m0 1h1m0 1h1m0 1h1m0 1h1m0 1h1m0 1h1m0 1h1m0 1h1m0 1h1m0 1h1m0 1h1m0 1h1m0 1h1m0 1h1m0 1h1m0 1h1m0 1h1m0 1h1m0 1h1m0 1h1m0 1h1m0 1h1m0 1h1m0 1h1m0 1h1m0 1h1m0 1h1m0 1h1m0 1h1m0 1h1m0 1h1m0 1h1m0 1h1m0 1h1m0 1h1m0 1h1m0 1h1m0 1h1m0 1h1m0 1h1m0 1h1m0 1h1m0 1h1m0 1h1m0 1h1m0 1h1m0 1h1m0 1h1m0 1h1m0 1h1m0 1h1m0 1h1m0 1h1m0 1h1m0 1h1m0 1h1m0 1h1m0 1h1m0 1h1m0 1h1m0 1h1m0 1h1m0 1h1m0 1h1m0 1h1m0 1h1m0 1h1m0 1h1m0 1h1m0 1h1m0 1h1m0 1h1m0 1h1m0 1h1m0 1h1m0 1h1m0 1h1m0 1h1m0 1h1m0 1h1m0 1h1m0 1h1m0 1h1m0 1h1m0 1h1m0 1h1m0 1h1m0 1h1m0 1h1m0 1h1m0 1h1m0 1h1m0 1h1m0 1h1m0 1h1m0 1h1m0 1h1m0 1h1m0 1h1m0 1h1m0 1h1m0 1h1m0 1h1m0 1h1m0 1h1m0 1h1m0 1h1m0 1h1m0 1h1m0 1h1m0 1h1m0 1h1m0 1h1m0 1h1m0 1h1m0 1h1m0 1h1m0 1h1m0 1h1m0 1h1m0 1h1m0 1h1m0 1h1m0 1h1m0 1h1m0 1h1m0 1h1m0 1h1m0 1h1m0 1h1m0 1h1m0 1h1m0 1h1m0 1h1m0 1h1m0 1h1m0 1h1m0 1h1m0 1h1m0 1h1m0 1h1m0 1h1m0 1h1m0 1h1m0 1h1m0 1h1m0 1h1m0 1h1m0 1h1m0 1h1m0 1h1m0 1h1m0 1h1m0 1h1m0 1h1m0 1h1m0 1h1m0 1h1m0 1h1m0 1h1m0 1h1m0 1h1m0 1h1m0 1h1M64 0.5h1m0 1h1m0 1h1m0 1h1m0 1h1m0 1h1m0 1h1m0 1h1m0 1h1m0 1h1m0 1h1m0 1h1m0 1h1m0 1h1m0 1h1m0 1h1m0 1h1m0 1h1m0 1h1m0 1h1m0 1h1m0 1h1m0 1h1m0 1h1m0 1h1m0 1h1m0 1h1m0 1h1m0 1h1m0 1h1m0 1h1m0 1h1m0 1h1m0 1h1m0 1h1m0 1h1m0 1h1m0 1h1m0 1h1m0 1h1m0 1h1m0 1h1m0 1h1m0 1h1m0 1h1m0 1h1m0 1h1m0 1h1m0 1h1m0 1h1m0 1h1m0 1h1m0 1h1m0 1h1m0 1h1m0 1h1m0 1h1m0 1h1m0 1h1m0 1h1m0 1h1m0 1h1m0 1h1m0 1h1m0 1h1m0 1h1m0 1h1m0 1h1m0 1h1m0 1h1m0 1h1m0 1h1m0 1h1m0 1h1m0 1h1m0 1h1m0 1h1m0 1h1m0 1h1m0 1h1m0 1h1m0 1h1m0 1h1m0 1h1m0 1h1m0 1h1m0 1h1m0 1h1m0 1h1m0 1h1m0 1h1m0 1h1m0 1h1m0 1h1m0 1h1m0 1h1m0 1h1m0 1h1m0 1h1m0 1h1m0 1h1m0 1h1m0 1h1m0 1h1m0 1h1m0 1h1m0 1h1m0 1h1m0 1h1m0 1h1m0 1h1m0 1h1m0 1h1m0 1h1m0 1h1m0 1h1m0 1h1m0 1h1m0 1h1m0 1h1m0 1h1m0 1h1m0 1h1m0 1h1m0 1h1m0 1h1m0 1h1m0 1h1m0 1h1m0 1h1m0 1h1m0 1h1m0 1h1m0 1h1m0 1h1m0 1h1m0 1h1m0 1h1m0 1h1m0 1h1m0 1h1m0 1h1m0 1h1m0 1h1m0 1h1m0 1h1m0 1h1m0 1h1m0 1h1m0 1h1m0 1h1m0 1h1m0 1h1m0 1h1m0 1h1m0 1h1m0 1h1m0 1h1m0 1h1m0 1h1m0 1h1m0 1h1m0 1h1m0 1h1m0 1h1m0 1h1m0 1h1m0 1h1m0 1h1m0 1h1m0 1h1m0 1h1m0 1h1m0 1h1m0 1h1M83 0.5h1m0 1h1m0 1h1m0 1h1m0 1h1m0 1h1m0 1h1m0 1h1m0 1h1m0 1h1m0 1h1m0 1h1m0 1h1m0 1h1m0 1h1m0 1h1m0 1h1m0 1h1m0 1h1m0 1h1m0 1h1m0 1h1m0 1h1m0 1h1m0 1h1m0 1h1m0 1h1m0 1h1m0 1h1m0 1h1m0 1h1m0 1h1m0 1h1m0 1h1m0 1h1m0 1h1m0 1h1m0 1h1m0 1h1m0 1h1m0 1h1m0 1h1m0 1h1m0 1h1m0 1h1m0 1h1m0 1h1m0 1h1m0 1h1m0 1h1m0 1h1m0 1h1m0 1h1m0 1h1m0 1h1m0 1h1m0 1h1m0 1h1m0 1h1m0 1h1m0 1h1m0 1h1m0 1h1m0 1h1m0 1h1m0 1h1m0 1h1m0 1h1m0 1h1m0 1h1m0 1h1m0 1h1m0 1h1m0 1h1m0 1h1m0 1h1m0 1h1m0 1h1m0 1h1m0 1h1m0 1h1m0 1h1m0 1h1m0 1h1m0 1h1m0 1h1m0 1h1m0 1h1m0 1h1m0 1h1m0 1h1m0 1h1m0 1h1m0 1h1m0 1h1m0 1h1m0 1h1m0 1h1m0 1h1m0 1h1m0 1h1m0 1h1m0 1h1m0 1h1m0 1h1m0 1h1m0 1h1m0 1h1m0 1h1m0 1h1m0 1h1m0 1h1m0 1h1m0 1h1m0 1h1m0 1h1m0 1h1m0 1h1m0 1h1m0 1h1m0 1h1m0 1h1m0 1h1m0 1h1m0 1h1m0 1h1m0 1h1m0 1h1m0 1h1m0 1h1m0 1h1m0 1h1m0 1h1m0 1h1m0 1h1m0 1h1m0 1h1m0 1h1m0 1h1m0 1h1m0 1h1m0 1h1m0 1h1m0 1h1m0 1h1m0 1h1m0 1h1m0 1h1m0 1h1m0 1h1m0 1h1m0 1h1m0 1h1m0 1h1m0 1h1m0 1h1M101 0.5h1m0 1h1m0 1h1m0 1h1m0 1h1m0 1h1m0 1h1m0 1h1m0 1h1m0 1h1m0 1h1m0 1h1m0 1h1m0 1h1m0 1h1m0 1h1m0 1h1m0 1h1m0 1h1m0 1h1m0 1h1m0 1h1m0 1h1m0 1h1m0 1h1m0 1h1m0 1h1m0 1h1m0 1h1m0 1h1m0 1h1m0 1h1m0 1h1m0 1h1m0 1h1m0 1h1m0 1h1m0 1h1m0 1h1m0 1h1m0 1h1m0 1h1m0 1h1m0 1h1m0 1h1m0 1h1m0 1h1m0 1h1m0 1h1m0 1h1m0 1h1m0 1h1m0 1h1m0 1h1m0 1h1m0 1h1m0 1h1m0 1h1m0 1h1m0 1h1m0 1h1m0 1h1m0 1h1m0 1h1m0 1h1m0 1h1m0 1h1m0 1h1m0 1h1m0 1h1m0 1h1m0 1h1m0 1h1m0 1h1m0 1h1m0 1h1m0 1h1m0 1h1m0 1h1m0 1h1m0 1h1m0 1h1m0 1h1m0 1h1m0 1h1m0 1h1m0 1h1m0 1h1m0 1h1m0 1h1m0 1h1m0 1h1m0 1h1m0 1h1m0 1h1m0 1h1m0 1h1m0 1h1m0 1h1m0 1h1m0 1h1m0 1h1m0 1h1m0 1h1m0 1h1m0 1h1m0 1h1m0 1h1m0 1h1m0 1h1m0 1h1m0 1h1m0 1h1m0 1h1m0 1h1m0 1h1m0 1h1m0 1h1m0 1h1m0 1h1m0 1h1m0 1h1m0 1h1m0 1h1m0 1h1m0 1h1m0 1h1m0 1h1m0 1h1m0 1h1m0 1h1m0 1h1m0 1h1m0 1h1m0 1h1m0 1h1m0 1h1m0 1h1M120 0.5h1m0 1h1m0 1h1m0 1h1m0 1h1m0 1h1m0 1h1m0 1h1m0 1h1m0 1h1m0 1h1m0 1h1m0 1h1m0 1h1m0 1h1m0 1h1m0 1h1m0 1h1m0 1h1m0 1h1m0 1h1m0 1h1m0 1h1m0 1h1m0 1h1m0 1h1m0 1h1m0 1h1m0 1h1m0 1h1m0 1h1m0 1h1m0 1h1m0 1h1m0 1h1m0 1h1m0 1h1m0 1h1m0 1h1m0 1h1m0 1h1m0 1h1m0 1h1m0 1h1m0 1h1m0 1h1m0 1h1m0 1h1m0 1h1m0 1h1m0 1h1m0 1h1m0 1h1m0 1h1m0 1h1m0 1h1m0 1h1m0 1h1m0 1h1m0 1h1m0 1h1m0 1h1m0 1h1m0 1h1m0 1h1m0 1h1m0 1h1m0 1h1m0 1h1m0 1h1m0 1h1m0 1h1m0 1h1m0 1h1m0 1h1m0 1h1m0 1h1m0 1h1m0 1h1m0 1h1m0 1h1m0 1h1m0 1h1m0 1h1m0 1h1m0 1h1m0 1h1m0 1h1m0 1h1m0 1h1m0 1h1m0 1h1m0 1h1m0 1h1m0 1h1m0 1h1m0 1h1m0 1h1m0 1h1m0 1h1m0 1h1m0 1h1m0 1h1m0 1h1m0 1h1m0 1h1m0 1h1m0 1h1m0 1h1m0 1h1m0 1h1m0 1h1m0 1h1m0 1h1m0 1h1m0 1h1m0 1h1m0 1h1m0 1h1M138 0.5h1m0 1h1m0 1h1m0 1h1m0 1h1m0 1h1m0 1h1m0 1h1m0 1h1m0 1h1m0 1h1m0 1h1m0 1h1m0 1h1m0 1h1m0 1h1m0 1h1m0 1h1m0 1h1m0 1h1m0 1h1m0 1h1m0 1h1m0 1h1m0 1h1m0 1h1m0 1h1m0 1h1m0 1h1m0 1h1m0 1h1m0 1h1m0 1h1m0 1h1m0 1h1m0 1h1m0 1h1m0 1h1m0 1h1m0 1h1m0 1h1m0 1h1m0 1h1m0 1h1m0 1h1m0 1h1m0 1h1m0 1h1m0 1h1m0 1h1m0 1h1m0 1h1m0 1h1m0 1h1m0 1h1m0 1h1m0 1h1m0 1h1m0 1h1m0 1h1m0 1h1m0 1h1m0 1h1m0 1h1m0 1h1m0 1h1m0 1h1m0 1h1m0 1h1m0 1h1m0 1h1m0 1h1m0 1h1m0 1h1m0 1h1m0 1h1m0 1h1m0 1h1m0 1h1m0 1h1m0 1h1m0 1h1m0 1h1m0 1h1m0 1h1m0 1h1m0 1h1m0 1h1m0 1h1m0 1h1m0 1h1m0 1h1m0 1h1m0 1h1m0 1h1m0 1h1m0 1h1m0 1h1m0 1h1m0 1h1m0 1h1M156 0.5h1m0 1h1m0 1h1m0 1h1m0 1h1m0 1h1m0 1h1m0 1h1m0 1h1m0 1h1m0 1h1m0 1h1m0 1h1m0 1h1m0 1h1m0 1h1m0 1h1m0 1h1m0 1h1m0 1h1m0 1h1m0 1h1m0 1h1m0 1h1m0 1h1m0 1h1m0 1h1m0 1h1m0 1h1m0 1h1m0 1h1m0 1h1m0 1h1m0 1h1m0 1h1m0 1h1m0 1h1m0 1h1m0 1h1m0 1h1m0 1h1m0 1h1m0 1h1m0 1h1m0 1h1m0 1h1m0 1h1m0 1h1m0 1h1m0 1h1m0 1h1m0 1h1m0 1h1m0 1h1m0 1h1m0 1h1m0 1h1m0 1h1m0 1h1m0 1h1m0 1h1m0 1h1m0 1h1m0 1h1m0 1h1m0 1h1m0 1h1m0 1h1m0 1h1m0 1h1m0 1h1m0 1h1m0 1h1m0 1h1m0 1h1m0 1h1m0 1h1m0 1h1m0 1h1m0 1h1m0 1h1m0 1h1m0 1h1M175 0.5h1m0 1h1m0 1h1m0 1h1m0 1h1m0 1h1m0 1h1m0 1h1m0 1h1m0 1h1m0 1h1m0 1h1m0 1h1m0 1h1m0 1h1m0 1h1m0 1h1m0 1h1m0 1h1m0 1h1m0 1h1m0 1h1m0 1h1m0 1h1m0 1h1m0 1h1m0 1h1m0 1h1m0 1h1m0 1h1m0 1h1m0 1h1m0 1h1m0 1h1m0 1h1m0 1h1m0 1h1m0 1h1m0 1h1m0 1h1m0 1h1m0 1h1m0 1h1m0 1h1m0 1h1m0 1h1m0 1h1m0 1h1m0 1h1m0 1h1m0 1h1m0 1h1m0 1h1m0 1h1m0 1h1m0 1h1m0 1h1m0 1h1m0 1h1m0 1h1m0 1h1m0 1h1m0 1h1m0 1h1M193 0.5h1m0 1h1m0 1h1m0 1h1m0 1h1m0 1h1m0 1h1m0 1h1m0 1h1m0 1h1m0 1h1m0 1h1m0 1h1m0 1h1m0 1h1m0 1h1m0 1h1m0 1h1m0 1h1m0 1h1m0 1h1m0 1h1m0 1h1m0 1h1m0 1h1m0 1h1m0 1h1m0 1h1m0 1h1m0 1h1m0 1h1m0 1h1m0 1h1m0 1h1m0 1h1m0 1h1m0 1h1m0 1h1m0 1h1m0 1h1m0 1h1m0 1h1m0 1h1m0 1h1m0 1h1m0 1h1M211 0.5h1m0 1h1m0 1h1m0 1h1m0 1h1m0 1h1m0 1h1m0 1h1m0 1h1m0 1h1m0 1h1m0 1h1m0 1h1m0 1h1m0 1h1m0 1h1m0 1h1m0 1h1m0 1h1m0 1h1m0 1h1m0 1h1m0 1h1m0 1h1m0 1h1m0 1h1m0 1h1m0 1h1M230 0.5h1m0 1h1m0 1h1m0 1h1m0 1h1m0 1h1m0 1h1m0 1h1m0 1h1M0 9.5h1m0 1h1m0 1h1m0 1h1m0 1h1m0 1h1m0 1h1m0 1h1m0 1h1m0 1h1m0 1h1m0 1h1m0 1h1m0 1h1m0 1h1m0 1h1m0 1h1m0 1h1m0 1h1m0 1h1m0 1h1m0 1h1m0 1h1m0 1h1m0 1h1m0 1h1m0 1h1m0 1h1m0 1h1m0 1h1m0 1h1m0 1h1m0 1h1m0 1h1m0 1h1m0 1h1m0 1h1m0 1h1m0 1h1m0 1h1m0 1h1m0 1h1m0 1h1m0 1h1m0 1h1m0 1h1m0 1h1m0 1h1m0 1h1m0 1h1m0 1h1m0 1h1m0 1h1m0 1h1m0 1h1m0 1h1m0 1h1m0 1h1m0 1h1m0 1h1m0 1h1m0 1h1m0 1h1m0 1h1m0 1h1m0 1h1m0 1h1m0 1h1m0 1h1m0 1h1m0 1h1m0 1h1m0 1h1m0 1h1m0 1h1m0 1h1m0 1h1m0 1h1m0 1h1m0 1h1m0 1h1m0 1h1m0 1h1m0 1h1m0 1h1m0 1h1m0 1h1m0 1h1m0 1h1m0 1h1m0 1h1m0 1h1m0 1h1m0 1h1m0 1h1m0 1h1m0 1h1m0 1h1m0 1h1m0 1h1m0 1h1m0 1h1m0 1h1m0 1h1m0 1h1m0 1h1m0 1h1m0 1h1m0 1h1m0 1h1m0 1h1m0 1h1m0 1h1m0 1h1m0 1h1m0 1h1m0 1h1m0 1h1m0 1h1m0 1h1m0 1h1m0 1h1m0 1h1m0 1h1m0 1h1m0 1h1m0 1h1m0 1h1m0 1h1m0 1h1m0 1h1m0 1h1m0 1h1m0 1h1m0 1h1m0 1h1m0 1h1m0 1h1m0 1h1m0 1h1m0 1h1m0 1h1m0 1h1m0 1h1m0 1h1m0 1h1m0 1h1m0 1h1m0 1h1m0 1h1m0 1h1m0 1h1m0 1h1m0 1h1m0 1h1m0 1h1m0 1h1m0 1h1m0 1h1m0 1h1m0 1h1m0 1h1m0 1h1m0 1h1m0 1h1m0 1h1m0 1h1m0 1h1m0 1h1m0 1h1m0 1h1m0 1h1m0 1h1m0 1h1m0 1h1m0 1h1m0 1h1m0 1h1m0 1h1m0 1h1m0 1h1m0 1h1m0 1h1m0 1h1m0 1h1m0 1h1m0 1h1m0 1h1m0 1h1m0 1h1m0 1h1m0 1h1m0 1h1m0 1h1m0 1h1m0 1h1m0 1h1m0 1h1m0 1h1m0 1h1m0 1h1m0 1h1m0 1h1m0 1h1m0 1h1m0 1h1m0 1h1m0 1h1m0 1h1m0 1h1m0 1h1m0 1h1m0 1h1m0 1h1m0 1h1m0 1h1m0 1h1m0 1h1m0 1h1m0 1h1m0 1h1m0 1h1m0 1h1m0 1h1m0 1h1m0 1h1m0 1h1m0 1h1m0 1h1m0 1h1M0 28.5h1m0 1h1m0 1h1m0 1h1m0 1h1m0 1h1m0 1h1m0 1h1m0 1h1m0 1h1m0 1h1m0 1h1m0 1h1m0 1h1m0 1h1m0 1h1m0 1h1m0 1h1m0 1h1m0 1h1m0 1h1m0 1h1m0 1h1m0 1h1m0 1h1m0 1h1m0 1h1m0 1h1m0 1h1m0 1h1m0 1h1m0 1h1m0 1h1m0 1h1m0 1h1m0 1h1m0 1h1m0 1h1m0 1h1m0 1h1m0 1h1m0 1h1m0 1h1m0 1h1m0 1h1m0 1h1m0 1h1m0 1h1m0 1h1m0 1h1m0 1h1m0 1h1m0 1h1m0 1h1m0 1h1m0 1h1m0 1h1m0 1h1m0 1h1m0 1h1m0 1h1m0 1h1m0 1h1m0 1h1m0 1h1m0 1h1m0 1h1m0 1h1m0 1h1m0 1h1m0 1h1m0 1h1m0 1h1m0 1h1m0 1h1m0 1h1m0 1h1m0 1h1m0 1h1m0 1h1m0 1h1m0 1h1m0 1h1m0 1h1m0 1h1m0 1h1m0 1h1m0 1h1m0 1h1m0 1h1m0 1h1m0 1h1m0 1h1m0 1h1m0 1h1m0 1h1m0 1h1m0 1h1m0 1h1m0 1h1m0 1h1m0 1h1m0 1h1m0 1h1m0 1h1m0 1h1m0 1h1m0 1h1m0 1h1m0 1h1m0 1h1m0 1h1m0 1h1m0 1h1m0 1h1m0 1h1m0 1h1m0 1h1m0 1h1m0 1h1m0 1h1m0 1h1m0 1h1m0 1h1m0 1h1m0 1h1m0 1h1m0 1h1m0 1h1m0 1h1m0 1h1m0 1h1m0 1h1m0 1h1m0 1h1m0 1h1m0 1h1m0 1h1m0 1h1m0 1h1m0 1h1m0 1h1m0 1h1m0 1h1m0 1h1m0 1h1m0 1h1m0 1h1m0 1h1m0 1h1m0 1h1m0 1h1m0 1h1m0 1h1m0 1h1m0 1h1m0 1h1m0 1h1m0 1h1m0 1h1m0 1h1m0 1h1m0 1h1m0 1h1m0 1h1m0 1h1m0 1h1m0 1h1m0 1h1m0 1h1m0 1h1m0 1h1m0 1h1m0 1h1m0 1h1m0 1h1m0 1h1m0 1h1m0 1h1m0 1h1m0 1h1m0 1h1m0 1h1m0 1h1m0 1h1m0 1h1m0 1h1m0 1h1m0 1h1m0 1h1m0 1h1m0 1h1m0 1h1m0 1h1m0 1h1m0 1h1m0 1h1m0 1h1m0 1h1m0 1h1m0 1h1m0 1h1m0 1h1m0 1h1m0 1h1m0 1h1m0 1h1m0 1h1m0 1h1m0 1h1m0 1h1M0 46.5h1m0 1h1m0 1h1m0 1h1m0 1h1m0 1h1m0 1h1m0 1h1m0 1h1m0 1h1m0 1h1m0 1h1m0 1h1m0 1h1m0 1h1m0 1h1m0 1h1m0 1h1m0 1h1m0 1h1m0 1h1m0 1h1m0 1h1m0 1h1m0 1h1m0 1h1m0 1h1m0 1h1m0 1h1m0 1h1m0 1h1m0 1h1m0 1h1m0 1h1m0 1h1m0 1h1m0 1h1m0 1h1m0 1h1m0 1h1m0 1h1m0 1h1m0 1h1m0 1h1m0 1h1m0 1h1m0 1h1m0 1h1m0 1h1m0 1h1m0 1h1m0 1h1m0 1h1m0 1h1m0 1h1m0 1h1m0 1h1m0 1h1m0 1h1m0 1h1m0 1h1m0 1h1m0 1h1m0 1h1m0 1h1m0 1h1m0 1h1m0 1h1m0 1h1m0 1h1m0 1h1m0 1h1m0 1h1m0 1h1m0 1h1m0 1h1m0 1h1m0 1h1m0 1h1m0 1h1m0 1h1m0 1h1m0 1h1m0 1h1m0 1h1m0 1h1m0 1h1m0 1h1m0 1h1m0 1h1m0 1h1m0 1h1m0 1h1m0 1h1m0 1h1m0 1h1m0 1h1m0 1h1m0 1h1m0 1h1m0 1h1m0 1h1m0 1h1m0 1h1m0 1h1m0 1h1m0 1h1m0 1h1m0 1h1m0 1h1m0 1h1m0 1h1m0 1h1m0 1h1m0 1h1m0 1h1m0 1h1m0 1h1m0 1h1m0 1h1m0 1h1m0 1h1m0 1h1m0 1h1m0 1h1m0 1h1m0 1h1m0 1h1m0 1h1m0 1h1m0 1h1m0 1h1m0 1h1m0 1h1m0 1h1m0 1h1m0 1h1m0 1h1m0 1h1m0 1h1m0 1h1m0 1h1m0 1h1m0 1h1m0 1h1m0 1h1m0 1h1m0 1h1m0 1h1m0 1h1m0 1h1m0 1h1m0 1h1m0 1h1m0 1h1m0 1h1m0 1h1m0 1h1m0 1h1m0 1h1m0 1h1m0 1h1m0 1h1m0 1h1m0 1h1m0 1h1m0 1h1m0 1h1m0 1h1m0 1h1m0 1h1m0 1h1m0 1h1m0 1h1m0 1h1m0 1h1m0 1h1m0 1h1m0 1h1m0 1h1m0 1h1m0 1h1m0 1h1m0 1h1m0 1h1m0 1h1m0 1h1m0 1h1m0 1h1m0 1h1m0 1h1m0 1h1m0 1h1M0 64.5h1m0 1h1m0 1h1m0 1h1m0 1h1m0 1h1m0 1h1m0 1h1m0 1h1m0 1h1m0 1h1m0 1h1m0 1h1m0 1h1m0 1h1m0 1h1m0 1h1m0 1h1m0 1h1m0 1h1m0 1h1m0 1h1m0 1h1m0 1h1m0 1h1m0 1h1m0 1h1m0 1h1m0 1h1m0 1h1m0 1h1m0 1h1m0 1h1m0 1h1m0 1h1m0 1h1m0 1h1m0 1h1m0 1h1m0 1h1m0 1h1m0 1h1m0 1h1m0 1h1m0 1h1m0 1h1m0 1h1m0 1h1m0 1h1m0 1h1m0 1h1m0 1h1m0 1h1m0 1h1m0 1h1m0 1h1m0 1h1m0 1h1m0 1h1m0 1h1m0 1h1m0 1h1m0 1h1m0 1h1m0 1h1m0 1h1m0 1h1m0 1h1m0 1h1m0 1h1m0 1h1m0 1h1m0 1h1m0 1h1m0 1h1m0 1h1m0 1h1m0 1h1m0 1h1m0 1h1m0 1h1m0 1h1m0 1h1m0 1h1m0 1h1m0 1h1m0 1h1m0 1h1m0 1h1m0 1h1m0 1h1m0 1h1m0 1h1m0 1h1m0 1h1m0 1h1m0 1h1m0 1h1m0 1h1m0 1h1m0 1h1m0 1h1m0 1h1m0 1h1m0 1h1m0 1h1m0 1h1m0 1h1m0 1h1m0 1h1m0 1h1m0 1h1m0 1h1m0 1h1m0 1h1m0 1h1m0 1h1m0 1h1m0 1h1m0 1h1m0 1h1m0 1h1m0 1h1m0 1h1m0 1h1m0 1h1m0 1h1m0 1h1m0 1h1m0 1h1m0 1h1m0 1h1m0 1h1m0 1h1m0 1h1m0 1h1m0 1h1m0 1h1m0 1h1m0 1h1m0 1h1m0 1h1m0 1h1m0 1h1m0 1h1m0 1h1m0 1h1m0 1h1m0 1h1m0 1h1m0 1h1m0 1h1m0 1h1m0 1h1m0 1h1m0 1h1m0 1h1m0 1h1m0 1h1m0 1h1m0 1h1m0 1h1m0 1h1m0 1h1m0 1h1m0 1h1m0 1h1m0 1h1m0 1h1m0 1h1m0 1h1m0 1h1m0 1h1m0 1h1m0 1h1M0 83.5h1m0 1h1m0 1h1m0 1h1m0 1h1m0 1h1m0 1h1m0 1h1m0 1h1m0 1h1m0 1h1m0 1h1m0 1h1m0 1h1m0 1h1m0 1h1m0 1h1m0 1h1m0 1h1m0 1h1m0 1h1m0 1h1m0 1h1m0 1h1m0 1h1m0 1h1m0 1h1m0 1h1m0 1h1m0 1h1m0 1h1m0 1h1m0 1h1m0 1h1m0 1h1m0 1h1m0 1h1m0 1h1m0 1h1m0 1h1m0 1h1m0 1h1m0 1h1m0 1h1m0 1h1m0 1h1m0 1h1m0 1h1m0 1h1m0 1h1m0 1h1m0 1h1m0 1h1m0 1h1m0 1h1m0 1h1m0 1h1m0 1h1m0 1h1m0 1h1m0 1h1m0 1h1m0 1h1m0 1h1m0 1h1m0 1h1m0 1h1m0 1h1m0 1h1m0 1h1m0 1h1m0 1h1m0 1h1m0 1h1m0 1h1m0 1h1m0 1h1m0 1h1m0 1h1m0 1h1m0 1h1m0 1h1m0 1h1m0 1h1m0 1h1m0 1h1m0 1h1m0 1h1m0 1h1m0 1h1m0 1h1m0 1h1m0 1h1m0 1h1m0 1h1m0 1h1m0 1h1m0 1h1m0 1h1m0 1h1m0 1h1m0 1h1m0 1h1m0 1h1m0 1h1m0 1h1m0 1h1m0 1h1m0 1h1m0 1h1m0 1h1m0 1h1m0 1h1m0 1h1m0 1h1m0 1h1m0 1h1m0 1h1m0 1h1m0 1h1m0 1h1m0 1h1m0 1h1m0 1h1m0 1h1m0 1h1m0 1h1m0 1h1m0 1h1m0 1h1m0 1h1m0 1h1m0 1h1m0 1h1m0 1h1m0 1h1m0 1h1m0 1h1m0 1h1m0 1h1m0 1h1m0 1h1m0 1h1m0 1h1m0 1h1m0 1h1m0 1h1m0 1h1m0 1h1m0 1h1m0 1h1m0 1h1m0 1h1m0 1h1m0 1h1m0 1h1M0 101.5h1m0 1h1m0 1h1m0 1h1m0 1h1m0 1h1m0 1h1m0 1h1m0 1h1m0 1h1m0 1h1m0 1h1m0 1h1m0 1h1m0 1h1m0 1h1m0 1h1m0 1h1m0 1h1m0 1h1m0 1h1m0 1h1m0 1h1m0 1h1m0 1h1m0 1h1m0 1h1m0 1h1m0 1h1m0 1h1m0 1h1m0 1h1m0 1h1m0 1h1m0 1h1m0 1h1m0 1h1m0 1h1m0 1h1m0 1h1m0 1h1m0 1h1m0 1h1m0 1h1m0 1h1m0 1h1m0 1h1m0 1h1m0 1h1m0 1h1m0 1h1m0 1h1m0 1h1m0 1h1m0 1h1m0 1h1m0 1h1m0 1h1m0 1h1m0 1h1m0 1h1m0 1h1m0 1h1m0 1h1m0 1h1m0 1h1m0 1h1m0 1h1m0 1h1m0 1h1m0 1h1m0 1h1m0 1h1m0 1h1m0 1h1m0 1h1m0 1h1m0 1h1m0 1h1m0 1h1m0 1h1m0 1h1m0 1h1m0 1h1m0 1h1m0 1h1m0 1h1m0 1h1m0 1h1m0 1h1m0 1h1m0 1h1m0 1h1m0 1h1m0 1h1m0 1h1m0 1h1m0 1h1m0 1h1m0 1h1m0 1h1m0 1h1m0 1h1m0 1h1m0 1h1m0 1h1m0 1h1m0 1h1m0 1h1m0 1h1m0 1h1m0 1h1m0 1h1m0 1h1m0 1h1m0 1h1m0 1h1m0 1h1m0 1h1m0 1h1m0 1h1m0 1h1m0 1h1m0 1h1m0 1h1m0 1h1m0 1h1m0 1h1m0 1h1m0 1h1m0 1h1m0 1h1m0 1h1m0 1h1m0 1h1m0 1h1m0 1h1m0 1h1M0 119.5h1m0 1h1m0 1h1m0 1h1m0 1h1m0 1h1m0 1h1m0 1h1m0 1h1m0 1h1m0 1h1m0 1h1m0 1h1m0 1h1m0 1h1m0 1h1m0 1h1m0 1h1m0 1h1m0 1h1m0 1h1m0 1h1m0 1h1m0 1h1m0 1h1m0 1h1m0 1h1m0 1h1m0 1h1m0 1h1m0 1h1m0 1h1m0 1h1m0 1h1m0 1h1m0 1h1m0 1h1m0 1h1m0 1h1m0 1h1m0 1h1m0 1h1m0 1h1m0 1h1m0 1h1m0 1h1m0 1h1m0 1h1m0 1h1m0 1h1m0 1h1m0 1h1m0 1h1m0 1h1m0 1h1m0 1h1m0 1h1m0 1h1m0 1h1m0 1h1m0 1h1m0 1h1m0 1h1m0 1h1m0 1h1m0 1h1m0 1h1m0 1h1m0 1h1m0 1h1m0 1h1m0 1h1m0 1h1m0 1h1m0 1h1m0 1h1m0 1h1m0 1h1m0 1h1m0 1h1m0 1h1m0 1h1m0 1h1m0 1h1m0 1h1m0 1h1m0 1h1m0 1h1m0 1h1m0 1h1m0 1h1m0 1h1m0 1h1m0 1h1m0 1h1m0 1h1m0 1h1m0 1h1m0 1h1m0 1h1m0 1h1m0 1h1m0 1h1m0 1h1m0 1h1m0 1h1m0 1h1m0 1h1m0 1h1m0 1h1m0 1h1m0 1h1m0 1h1m0 1h1m0 1h1m0 1h1m0 1h1m0 1h1m0 1h1m0 1h1M0 138.5h1m0 1h1m0 1h1m0 1h1m0 1h1m0 1h1m0 1h1m0 1h1m0 1h1m0 1h1m0 1h1m0 1h1m0 1h1m0 1h1m0 1h1m0 1h1m0 1h1m0 1h1m0 1h1m0 1h1m0 1h1m0 1h1m0 1h1m0 1h1m0 1h1m0 1h1m0 1h1m0 1h1m0 1h1m0 1h1m0 1h1m0 1h1m0 1h1m0 1h1m0 1h1m0 1h1m0 1h1m0 1h1m0 1h1m0 1h1m0 1h1m0 1h1m0 1h1m0 1h1m0 1h1m0 1h1m0 1h1m0 1h1m0 1h1m0 1h1m0 1h1m0 1h1m0 1h1m0 1h1m0 1h1m0 1h1m0 1h1m0 1h1m0 1h1m0 1h1m0 1h1m0 1h1m0 1h1m0 1h1m0 1h1m0 1h1m0 1h1m0 1h1m0 1h1m0 1h1m0 1h1m0 1h1m0 1h1m0 1h1m0 1h1m0 1h1m0 1h1m0 1h1m0 1h1m0 1h1m0 1h1m0 1h1m0 1h1m0 1h1m0 1h1m0 1h1m0 1h1m0 1h1m0 1h1m0 1h1m0 1h1m0 1h1m0 1h1m0 1h1m0 1h1m0 1h1m0 1h1m0 1h1m0 1h1m0 1h1m0 1h1M0 156.5h1m0 1h1m0 1h1m0 1h1m0 1h1m0 1h1m0 1h1m0 1h1m0 1h1m0 1h1m0 1h1m0 1h1m0 1h1m0 1h1m0 1h1m0 1h1m0 1h1m0 1h1m0 1h1m0 1h1m0 1h1m0 1h1m0 1h1m0 1h1m0 1h1m0 1h1m0 1h1m0 1h1m0 1h1m0 1h1m0 1h1m0 1h1m0 1h1m0 1h1m0 1h1m0 1h1m0 1h1m0 1h1m0 1h1m0 1h1m0 1h1m0 1h1m0 1h1m0 1h1m0 1h1m0 1h1m0 1h1m0 1h1m0 1h1m0 1h1m0 1h1m0 1h1m0 1h1m0 1h1m0 1h1m0 1h1m0 1h1m0 1h1m0 1h1m0 1h1m0 1h1m0 1h1m0 1h1m0 1h1m0 1h1m0 1h1m0 1h1m0 1h1m0 1h1m0 1h1m0 1h1m0 1h1m0 1h1m0 1h1m0 1h1m0 1h1m0 1h1m0 1h1m0 1h1m0 1h1m0 1h1m0 1h1m0 1h1M0 175.5h1m0 1h1m0 1h1m0 1h1m0 1h1m0 1h1m0 1h1m0 1h1m0 1h1m0 1h1m0 1h1m0 1h1m0 1h1m0 1h1m0 1h1m0 1h1m0 1h1m0 1h1m0 1h1m0 1h1m0 1h1m0 1h1m0 1h1m0 1h1m0 1h1m0 1h1m0 1h1m0 1h1m0 1h1m0 1h1m0 1h1m0 1h1m0 1h1m0 1h1m0 1h1m0 1h1m0 1h1m0 1h1m0 1h1m0 1h1m0 1h1m0 1h1m0 1h1m0 1h1m0 1h1m0 1h1m0 1h1m0 1h1m0 1h1m0 1h1m0 1h1m0 1h1m0 1h1m0 1h1m0 1h1m0 1h1m0 1h1m0 1h1m0 1h1m0 1h1m0 1h1m0 1h1m0 1h1m0 1h1M0 193.5h1m0 1h1m0 1h1m0 1h1m0 1h1m0 1h1m0 1h1m0 1h1m0 1h1m0 1h1m0 1h1m0 1h1m0 1h1m0 1h1m0 1h1m0 1h1m0 1h1m0 1h1m0 1h1m0 1h1m0 1h1m0 1h1m0 1h1m0 1h1m0 1h1m0 1h1m0 1h1m0 1h1m0 1h1m0 1h1m0 1h1m0 1h1m0 1h1m0 1h1m0 1h1m0 1h1m0 1h1m0 1h1m0 1h1m0 1h1m0 1h1m0 1h1m0 1h1m0 1h1m0 1h1m0 1h1M0 211.5h1m0 1h1m0 1h1m0 1h1m0 1h1m0 1h1m0 1h1m0 1h1m0 1h1m0 1h1m0 1h1m0 1h1m0 1h1m0 1h1m0 1h1m0 1h1m0 1h1m0 1h1m0 1h1m0 1h1m0 1h1m0 1h1m0 1h1m0 1h1m0 1h1m0 1h1m0 1h1m0 1h1M0 230.5h1m0 1h1m0 1h1m0 1h1m0 1h1m0 1h1m0 1h1m0 1h1m0 1h1" fill="none" stroke="#000" stroke-width="1"/></pattern><pattern id="hp" width="239" height="239" patternUnits="userSpaceOnUse"><path d="M10 0.5h1m-2 1h1m-2 1h1m-2 1h1m-2 1h1m-2 1h1m-2 1h1m-2 1h1m-2 1h1m-2 1h1m-2 1h1M28 0.5h1m-2 1h1m-2 1h1m-2 1h1m-2 1h1m-2 1h1m-2 1h1m-2 1h1m-2 1h1m-2 1h1m-2 1h1m-2 1h1m-2 1h1m-2 1h1m-2 1h1m-2 1h1m-2 1h1m-2 1h1m-2 1h1m-2 1h1m-2 1h1m-2 1h1m-2 1h1m-2 1h1m-2 1h1m-2 1h1m-2 1h1m-2 1h1m-2 1h1M46 0.5h1m-2 1h1m-2 1h1m-2 1h1m-2 1h1m-2 1h1m-2 1h1m-2 1h1m-2 1h1m-2 1h1m-2 1h1m-2 1h1m-2 1h1m-2 1h1m-2 1h1m-2 1h1m-2 1h1m-2 1h1m-2 1h1m-2 1h1m-2 1h1m-2 1h1m-2 1h1m-2 1h1m-2 1h1m-2 1h1m-2 1h1m-2 1h1m-2 1h1m-2 1h1m-2 1h1m-2 1h1m-2 1h1m-2 1h1m-2 1h1m-2 1h1m-2 1h1m-2 1h1m-2 1h1m-2 1h1m-2 1h1m-2 1h1m-2 1h1m-2 1h1m-2 1h1m-2 1h1m-2 1h1M65 0.5h1m-2 1h1m-2 1h1m-2 1h1m-2 1h1m-2 1h1m-2 1h1m-2 1h1m-2 1h1m-2 1h1m-2 1h1m-2 1h1m-2 1h1m-2 1h1m-2 1h1m-2 1h1m-2 1h1m-2 1h1m-2 1h1m-2 1h1m-2 1h1m-2 1h1m-2 1h1m-2 1h1m-2 1h1m-2 1h1m-2 1h1m-2 1h1m-2 1h1m-2 1h1m-2 1h1m-2 1h1m-2 1h1m-2 1h1m-2 1h1m-2 1h1m-2 1h1m-2 1h1m-2 1h1m-2 1h1m-2 1h1m-2 1h1m-2 1h1m-2 1h1m-2 1h1m-2 1h1m-2 1h1m-2 1h1m-2 1h1m-2 1h1m-2 1h1m-2 1h1m-2 1h1m-2 1h1m-2 1h1m-2 1h1m-2 1h1m-2 1h1m-2 1h1m-2 1h1m-2 1h1m-2 1h1m-2 1h1m-2 1h1m-2 1h1m-2 1h1M83 0.5h1m-2 1h1m-2 1h1m-2 1h1m-2 1h1m-2 1h1m-2 1h1m-2 1h1m-2 1h1m-2 1h1m-2 1h1m-2 1h1m-2 1h1m-2 1h1m-2 1h1m-2 1h1m-2 1h1m-2 1h1m-2 1h1m-2 1h1m-2 1h1m-2 1h1m-2 1h1m-2 1h1m-2 1h1m-2 1h1m-2 1h1m-2 1h1m-2 1h1m-2 1h1m-2 1h1m-2 1h1m-2 1h1m-2 1h1m-2 1h1m-2 1h1m-2 1h1m-2 1h1m-2 1h1m-2 1h1m-2 1h1m-2 1h1m-2 1h1m-2 1h1m-2 1h1m-2 1h1m-2 1h1m-2 1h1m-2 1h1m-2 1h1m-2 1h1m-2 1h1m-2 1h1m-2 1h1m-2 1h1m-2 1h1m-2 1h1m-2 1h1m-2 1h1m-2 1h1m-2 1h1m-2 1h1m-2 1h1m-2 1h1m-2 1h1m-2 1h1m-2 1h1m-2 1h1m-2 1h1m-2 1h1m-2 1h1m-2 1h1m-2 1h1m-2 1h1m-2 1h1m-2 1h1m-2 1h1m-2 1h1m-2 1h1m-2 1h1m-2 1h1m-2 1h1m-2 1h1m-2 1h1M102 0.5h1m-2 1h1m-2 1h1m-2 1h1m-2 1h1m-2 1h1m-2 1h1m-2 1h1m-2 1h1m-2 1h1m-2 1h1m-2 1h1m-2 1h1m-2 1h1m-2 1h1m-2 1h1m-2 1h1m-2 1h1m-2 1h1m-2 1h1m-2 1h1m-2 1h1m-2 1h1m-2 1h1m-2 1h1m-2 1h1m-2 1h1m-2 1h1m-2 1h1m-2 1h1m-2 1h1m-2 1h1m-2 1h1m-2 1h1m-2 1h1m-2 1h1m-2 1h1m-2 1h1m-2 1h1m-2 1h1m-2 1h1m-2 1h1m-2 1h1m-2 1h1m-2 1h1m-2 1h1m-2 1h1m-2 1h1m-2 1h1m-2 1h1m-2 1h1m-2 1h1m-2 1h1m-2 1h1m-2 1h1m-2 1h1m-2 1h1m-2 1h1m-2 1h1m-2 1h1m-2 1h1m-2 1h1m-2 1h1m-2 1h1m-2 1h1m-2 1h1m-2 1h1m-2 1h1m-2 1h1m-2 1h1m-2 1h1m-2 1h1m-2 1h1m-2 1h1m-2 1h1m-2 1h1m-2 1h1m-2 1h1m-2 1h1m-2 1h1m-2 1h1m-2 1h1m-2 1h1m-2 1h1m-2 1h1m-2 1h1m-2 1h1m-2 1h1m-2 1h1m-2 1h1m-2 1h1m-2 1h1m-2 1h1m-2 1h1m-2 1h1m-2 1h1m-2 1h1m-2 1h1m-2 1h1m-2 1h1m-2 1h1m-2 1h1m-2 1h1M120 0.5h1m-2 1h1m-2 1h1m-2 1h1m-2 1h1m-2 1h1m-2 1h1m-2 1h1m-2 1h1m-2 1h1m-2 1h1m-2 1h1m-2 1h1m-2 1h1m-2 1h1m-2 1h1m-2 1h1m-2 1h1m-2 1h1m-2 1h1m-2 1h1m-2 1h1m-2 1h1m-2 1h1m-2 1h1m-2 1h1m-2 1h1m-2 1h1m-2 1h1m-2 1h1m-2 1h1m-2 1h1m-2 1h1m-2 1h1m-2 1h1m-2 1h1m-2 1h1m-2 1h1m-2 1h1m-2 1h1m-2 1h1m-2 1h1m-2 1h1m-2 1h1m-2 1h1m-2 1h1m-2 1h1m-2 1h1m-2 1h1m-2 1h1m-2 1h1m-2 1h1m-2 1h1m-2 1h1m-2 1h1m-2 1h1m-2 1h1m-2 1h1m-2 1h1m-2 1h1m-2 1h1m-2 1h1m-2 1h1m-2 1h1m-2 1h1m-2 1h1m-2 1h1m-2 1h1m-2 1h1m-2 1h1m-2 1h1m-2 1h1m-2 1h1m-2 1h1m-2 1h1m-2 1h1m-2 1h1m-2 1h1m-2 1h1m-2 1h1m-2 1h1m-2 1h1m-2 1h1m-2 1h1m-2 1h1m-2 1h1m-2 1h1m-2 1h1m-2 1h1m-2 1h1m-2 1h1m-2 1h1m-2 1h1m-2 1h1m-2 1h1m-2 1h1m-2 1h1m-2 1h1m-2 1h1m-2 1h1m-2 1h1m-2 1h1m-2 1h1m-2 1h1m-2 1h1m-2 1h1m-2 1h1m-2 1h1m-2 1h1m-2 1h1m-2 1h1m-2 1h1m-2 1h1m-2 1h1m-2 1h1m-2 1h1m-2 1h1m-2 1h1m-2 1h1m-2 1h1m-2 1h1M138 0.5h1m-2 1h1m-2 1h1m-2 1h1m-2 1h1m-2 1h1m-2 1h1m-2 1h1m-2 1h1m-2 1h1m-2 1h1m-2 1h1m-2 1h1m-2 1h1m-2 1h1m-2 1h1m-2 1h1m-2 1h1m-2 1h1m-2 1h1m-2 1h1m-2 1h1m-2 1h1m-2 1h1m-2 1h1m-2 1h1m-2 1h1m-2 1h1m-2 1h1m-2 1h1m-2 1h1m-2 1h1m-2 1h1m-2 1h1m-2 1h1m-2 1h1m-2 1h1m-2 1h1m-2 1h1m-2 1h1m-2 1h1m-2 1h1m-2 1h1m-2 1h1m-2 1h1m-2 1h1m-2 1h1m-2 1h1m-2 1h1m-2 1h1m-2 1h1m-2 1h1m-2 1h1m-2 1h1m-2 1h1m-2 1h1m-2 1h1m-2 1h1m-2 1h1m-2 1h1m-2 1h1m-2 1h1m-2 1h1m-2 1h1m-2 1h1m-2 1h1m-2 1h1m-2 1h1m-2 1h1m-2 1h1m-2 1h1m-2 1h1m-2 1h1m-2 1h1m-2 1h1m-2 1h1m-2 1h1m-2 1h1m-2 1h1m-2 1h1m-2 1h1m-2 1h1m-2 1h1m-2 1h1m-2 1h1m-2 1h1m-2 1h1m-2 1h1m-2 1h1m-2 1h1m-2 1h1m-2 1h1m-2 1h1m-2 1h1m-2 1h1m-2 1h1m-2 1h1m-2 1h1m-2 1h1m-2 1h1m-2 1h1m-2 1h1m-2 1h1m-2 1h1m-2 1h1m-2 1h1m-2 1h1m-2 1h1m-2 1h1m-2 1h1m-2 1h1m-2 1h1m-2 1h1m-2 1h1m-2 1h1m-2 1h1m-2 1h1m-2 1h1m-2 1h1m-2 1h1m-2 1h1m-2 1h1m-2 1h1m-2 1h1m-2 1h1m-2 1h1m-2 1h1m-2 1h1m-2 1h1m-2 1h1m-2 1h1m-2 1h1m-2 1h1m-2 1h1m-2 1h1m-2 1h1m-2 1h1m-2 1h1m-2 1h1M157 0.5h1m-2 1h1m-2 1h1m-2 1h1m-2 1h1m-2 1h1m-2 1h1m-2 1h1m-2 1h1m-2 1h1m-2 1h1m-2 1h1m-2 1h1m-2 1h1m-2 1h1m-2 1h1m-2 1h1m-2 1h1m-2 1h1m-2 1h1m-2 1h1m-2 1h1m-2 1h1m-2 1h1m-2 1h1m-2 1h1m-2 1h1m-2 1h1m-2 1h1m-2 1h1m-2 1h1m-2 1h1m-2 1h1m-2 1h1m-2 1h1m-2 1h1m-2 1h1m-2 1h1m-2 1h1m-2 1h1m-2 1h1m-2 1h1m-2 1h1m-2 1h1m-2 1h1m-2 1h1m-2 1h1m-2 1h1m-2 1h1m-2 1h1m-2 1h1m-2 1h1m-2 1h1m-2 1h1m-2 1h1m-2 1h1m-2 1h1m-2 1h1m-2 1h1m-2 1h1m-2 1h1m-2 1h1m-2 1h1m-2 1h1m-2 1h1m-2 1h1m-2 1h1m-2 1h1m-2 1h1m-2 1h1m-2 1h1m-2 1h1m-2 1h1m-2 1h1m-2 1h1m-2 1h1m-2 1h1m-2 1h1m-2 1h1m-2 1h1m-2 1h1m-2 1h1m-2 1h1m-2 1h1m-2 1h1m-2 1h1m-2 1h1m-2 1h1m-2 1h1m-2 1h1m-2 1h1m-2 1h1m-2 1h1m-2 1h1m-2 1h1m-2 1h1m-2 1h1m-2 1h1m-2 1h1m-2 1h1m-2 1h1m-2 1h1m-2 1h1m-2 1h1m-2 1h1m-2 1h1m-2 1h1m-2 1h1m-2 1h1m-2 1h1m-2 1h1m-2 1h1m-2 1h1m-2 1h1m-2 1h1m-2 1h1m-2 1h1m-2 1h1m-2 1h1m-2 1h1m-2 1h1m-2 1h1m-2 1h1m-2 1h1m-2 1h1m-2 1h1m-2 1h1m-2 1h1m-2 1h1m-2 1h1m-2 1h1m-2 1h1m-2 1h1m-2 1h1m-2 1h1m-2 1h1m-2 1h1m-2 1h1m-2 1h1m-2 1h1m-2 1h1m-2 1h1m-2 1h1m-2 1h1m-2 1h1m-2 1h1m-2 1h1m-2 1h1m-2 1h1m-2 1h1m-2 1h1m-2 1h1m-2 1h1m-2 1h1m-2 1h1m-2 1h1m-2 1h1m-2 1h1M175 0.5h1m-2 1h1m-2 1h1m-2 1h1m-2 1h1m-2 1h1m-2 1h1m-2 1h1m-2 1h1m-2 1h1m-2 1h1m-2 1h1m-2 1h1m-2 1h1m-2 1h1m-2 1h1m-2 1h1m-2 1h1m-2 1h1m-2 1h1m-2 1h1m-2 1h1m-2 1h1m-2 1h1m-2 1h1m-2 1h1m-2 1h1m-2 1h1m-2 1h1m-2 1h1m-2 1h1m-2 1h1m-2 1h1m-2 1h1m-2 1h1m-2 1h1m-2 1h1m-2 1h1m-2 1h1m-2 1h1m-2 1h1m-2 1h1m-2 1h1m-2 1h1m-2 1h1m-2 1h1m-2 1h1m-2 1h1m-2 1h1m-2 1h1m-2 1h1m-2 1h1m-2 1h1m-2 1h1m-2 1h1m-2 1h1m-2 1h1m-2 1h1m-2 1h1m-2 1h1m-2 1h1m-2 1h1m-2 1h1m-2 1h1m-2 1h1m-2 1h1m-2 1h1m-2 1h1m-2 1h1m-2 1h1m-2 1h1m-2 1h1m-2 1h1m-2 1h1m-2 1h1m-2 1h1m-2 1h1m-2 1h1m-2 1h1m-2 1h1m-2 1h1m-2 1h1m-2 1h1m-2 1h1m-2 1h1m-2 1h1m-2 1h1m-2 1h1m-2 1h1m-2 1h1m-2 1h1m-2 1h1m-2 1h1m-2 1h1m-2 1h1m-2 1h1m-2 1h1m-2 1h1m-2 1h1m-2 1h1m-2 1h1m-2 1h1m-2 1h1m-2 1h1m-2 1h1m-2 1h1m-2 1h1m-2 1h1m-2 1h1m-2 1h1m-2 1h1m-2 1h1m-2 1h1m-2 1h1m-2 1h1m-2 1h1m-2 1h1m-2 1h1m-2 1h1m-2 1h1m-2 1h1m-2 1h1m-2 1h1m-2 1h1m-2 1h1m-2 1h1m-2 1h1m-2 1h1m-2 1h1m-2 1h1m-2 1h1m-2 1h1m-2 1h1m-2 1h1m-2 1h1m-2 1h1m-2 1h1m-2 1h1m-2 1h1m-2 1h1m-2 1h1m-2 1h1m-2 1h1m-2 1h1m-2 1h1m-2 1h1m-2 1h1m-2 1h1m-2 1h1m-2 1h1m-2 1h1m-2 1h1m-2 1h1m-2 1h1m-2 1h1m-2 1h1m-2 1h1m-2 1h1m-2 1h1m-2 1h1m-2 1h1m-2 1h1m-2 1h1m-2 1h1m-2 1h1m-2 1h1m-2 1h1m-2 1h1m-2 1h1m-2 1h1m-2 1h1m-2 1h1m-2 1h1m-2 1h1m-2 1h1m-2 1h1M193 0.5h1m-2 1h1m-2 1h1m-2 1h1m-2 1h1m-2 1h1m-2 1h1m-2 1h1m-2 1h1m-2 1h1m-2 1h1m-2 1h1m-2 1h1m-2 1h1m-2 1h1m-2 1h1m-2 1h1m-2 1h1m-2 1h1m-2 1h1m-2 1h1m-2 1h1m-2 1h1m-2 1h1m-2 1h1m-2 1h1m-2 1h1m-2 1h1m-2 1h1m-2 1h1m-2 1h1m-2 1h1m-2 1h1m-2 1h1m-2 1h1m-2 1h1m-2 1h1m-2 1h1m-2 1h1m-2 1h1m-2 1h1m-2 1h1m-2 1h1m-2 1h1m-2 1h1m-2 1h1m-2 1h1m-2 1h1m-2 1h1m-2 1h1m-2 1h1m-2 1h1m-2 1h1m-2 1h1m-2 1h1m-2 1h1m-2 1h1m-2 1h1m-2 1h1m-2 1h1m-2 1h1m-2 1h1m-2 1h1m-2 1h1m-2 1h1m-2 1h1m-2 1h1m-2 1h1m-2 1h1m-2 1h1m-2 1h1m-2 1h1m-2 1h1m-2 1h1m-2 1h1m-2 1h1m-2 1h1m-2 1h1m-2 1h1m-2 1h1m-2 1h1m-2 1h1m-2 1h1m-2 1h1m-2 1h1m-2 1h1m-2 1h1m-2 1h1m-2 1h1m-2 1h1m-2 1h1m-2 1h1m-2 1h1m-2 1h1m-2 1h1m-2 1h1m-2 1h1m-2 1h1m-2 1h1m-2 1h1m-2 1h1m-2 1h1m-2 1h1m-2 1h1m-2 1h1m-2 1h1m-2 1h1m-2 1h1m-2 1h1m-2 1h1m-2 1h1m-2 1h1m-2 1h1m-2 1h1m-2 1h1m-2 1h1m-2 1h1m-2 1h1m-2 1h1m-2 1h1m-2 1h1m-2 1h1m-2 1h1m-2 1h1m-2 1h1m-2 1h1m-2 1h1m-2 1h1m-2 1h1m-2 1h1m-2 1h1m-2 1h1m-2 1h1m-2 1h1m-2 1h1m-2 1h1m-2 1h1m-2 1h1m-2 1h1m-2 1h1m-2 1h1m-2 1h1m-2 1h1m-2 1h1m-2 1h1m-2 1h1m-2 1h1m-2 1h1m-2 1h1m-2 1h1m-2 1h1m-2 1h1m-2 1h1m-2 1h1m-2 1h1m-2 1h1m-2 1h1m-2 1h1m-2 1h1m-2 1h1m-2 1h1m-2 1h1m-2 1h1m-2 1h1m-2 1h1m-2 1h1m-2 1h1m-2 1h1m-2 1h1m-2 1h1m-2 1h1m-2 1h1m-2 1h1m-2 1h1m-2 1h1m-2 1h1m-2 1h1m-2 1h1m-2 1h1m-2 1h1m-2 1h1m-2 1h1m-2 1h1m-2 1h1m-2 1h1m-2 1h1m-2 1h1m-2 1h1m-2 1h1m-2 1h1m-2 1h1m-2 1h1m-2 1h1m-2 1h1M212 0.5h1m-2 1h1m-2 1h1m-2 1h1m-2 1h1m-2 1h1m-2 1h1m-2 1h1m-2 1h1m-2 1h1m-2 1h1m-2 1h1m-2 1h1m-2 1h1m-2 1h1m-2 1h1m-2 1h1m-2 1h1m-2 1h1m-2 1h1m-2 1h1m-2 1h1m-2 1h1m-2 1h1m-2 1h1m-2 1h1m-2 1h1m-2 1h1m-2 1h1m-2 1h1m-2 1h1m-2 1h1m-2 1h1m-2 1h1m-2 1h1m-2 1h1m-2 1h1m-2 1h1m-2 1h1m-2 1h1m-2 1h1m-2 1h1m-2 1h1m-2 1h1m-2 1h1m-2 1h1m-2 1h1m-2 1h1m-2 1h1m-2 1h1m-2 1h1m-2 1h1m-2 1h1m-2 1h1m-2 1h1m-2 1h1m-2 1h1m-2 1h1m-2 1h1m-2 1h1m-2 1h1m-2 1h1m-2 1h1m-2 1h1m-2 1h1m-2 1h1m-2 1h1m-2 1h1m-2 1h1m-2 1h1m-2 1h1m-2 1h1m-2 1h1m-2 1h1m-2 1h1m-2 1h1m-2 1h1m-2 1h1m-2 1h1m-2 1h1m-2 1h1m-2 1h1m-2 1h1m-2 1h1m-2 1h1m-2 1h1m-2 1h1m-2 1h1m-2 1h1m-2 1h1m-2 1h1m-2 1h1m-2 1h1m-2 1h1m-2 1h1m-2 1h1m-2 1h1m-2 1h1m-2 1h1m-2 1h1m-2 1h1m-2 1h1m-2 1h1m-2 1h1m-2 1h1m-2 1h1m-2 1h1m-2 1h1m-2 1h1m-2 1h1m-2 1h1m-2 1h1m-2 1h1m-2 1h1m-2 1h1m-2 1h1m-2 1h1m-2 1h1m-2 1h1m-2 1h1m-2 1h1m-2 1h1m-2 1h1m-2 1h1m-2 1h1m-2 1h1m-2 1h1m-2 1h1m-2 1h1m-2 1h1m-2 1h1m-2 1h1m-2 1h1m-2 1h1m-2 1h1m-2 1h1m-2 1h1m-2 1h1m-2 1h1m-2 1h1m-2 1h1m-2 1h1m-2 1h1m-2 1h1m-2 1h1m-2 1h1m-2 1h1m-2 1h1m-2 1h1m-2 1h1m-2 1h1m-2 1h1m-2 1h1m-2 1h1m-2 1h1m-2 1h1m-2 1h1m-2 1h1m-2 1h1m-2 1h1m-2 1h1m-2 1h1m-2 1h1m-2 1h1m-2 1h1m-2 1h1m-2 1h1m-2 1h1m-2 1h1m-2 1h1m-2 1h1m-2 1h1m-2 1h1m-2 1h1m-2 1h1m-2 1h1m-2 1h1m-2 1h1m-2 1h1m-2 1h1m-2 1h1m-2 1h1m-2 1h1m-2 1h1m-2 1h1m-2 1h1m-2 1h1m-2 1h1m-2 1h1m-2 1h1m-2 1h1m-2 1h1m-2 1h1m-2 1h1m-2 1h1m-2 1h1m-2 1h1m-2 1h1m-2 1h1m-2 1h1m-2 1h1m-2 1h1m-2 1h1m-2 1h1m-2 1h1m-2 1h1m-2 1h1m-2 1h1m-2 1h1m-2 1h1m-2 1h1m-2 1h1m-2 1h1M230 0.5h1m-2 1h1m-2 1h1m-2 1h1m-2 1h1m-2 1h1m-2 1h1m-2 1h1m-2 1h1m-2 1h1m-2 1h1m-2 1h1m-2 1h1m-2 1h1m-2 1h1m-2 1h1m-2 1h1m-2 1h1m-2 1h1m-2 1h1m-2 1h1m-2 1h1m-2 1h1m-2 1h1m-2 1h1m-2 1h1m-2 1h1m-2 1h1m-2 1h1m-2 1h1m-2 1h1m-2 1h1m-2 1h1m-2 1h1m-2 1h1m-2 1h1m-2 1h1m-2 1h1m-2 1h1m-2 1h1m-2 1h1m-2 1h1m-2 1h1m-2 1h1m-2 1h1m-2 1h1m-2 1h1m-2 1h1m-2 1h1m-2 1h1m-2 1h1m-2 1h1m-2 1h1m-2 1h1m-2 1h1m-2 1h1m-2 1h1m-2 1h1m-2 1h1m-2 1h1m-2 1h1m-2 1h1m-2 1h1m-2 1h1m-2 1h1m-2 1h1m-2 1h1m-2 1h1m-2 1h1m-2 1h1m-2 1h1m-2 1h1m-2 1h1m-2 1h1m-2 1h1m-2 1h1m-2 1h1m-2 1h1m-2 1h1m-2 1h1m-2 1h1m-2 1h1m-2 1h1m-2 1h1m-2 1h1m-2 1h1m-2 1h1m-2 1h1m-2 1h1m-2 1h1m-2 1h1m-2 1h1m-2 1h1m-2 1h1m-2 1h1m-2 1h1m-2 1h1m-2 1h1m-2 1h1m-2 1h1m-2 1h1m-2 1h1m-2 1h1m-2 1h1m-2 1h1m-2 1h1m-2 1h1m-2 1h1m-2 1h1m-2 1h1m-2 1h1m-2 1h1m-2 1h1m-2 1h1m-2 1h1m-2 1h1m-2 1h1m-2 1h1m-2 1h1m-2 1h1m-2 1h1m-2 1h1m-2 1h1m-2 1h1m-2 1h1m-2 1h1m-2 1h1m-2 1h1m-2 1h1m-2 1h1m-2 1h1m-2 1h1m-2 1h1m-2 1h1m-2 1h1m-2 1h1m-2 1h1m-2 1h1m-2 1h1m-2 1h1m-2 1h1m-2 1h1m-2 1h1m-2 1h1m-2 1h1m-2 1h1m-2 1h1m-2 1h1m-2 1h1m-2 1h1m-2 1h1m-2 1h1m-2 1h1m-2 1h1m-2 1h1m-2 1h1m-2 1h1m-2 1h1m-2 1h1m-2 1h1m-2 1h1m-2 1h1m-2 1h1m-2 1h1m-2 1h1m-2 1h1m-2 1h1m-2 1h1m-2 1h1m-2 1h1m-2 1h1m-2 1h1m-2 1h1m-2 1h1m-2 1h1m-2 1h1m-2 1h1m-2 1h1m-2 1h1m-2 1h1m-2 1h1m-2 1h1m-2 1h1m-2 1h1m-2 1h1m-2 1h1m-2 1h1m-2 1h1m-2 1h1m-2 1h1m-2 1h1m-2 1h1m-2 1h1m-2 1h1m-2 1h1m-2 1h1m-2 1h1m-2 1h1m-2 1h1m-2 1h1m-2 1h1m-2 1h1m-2 1h1m-2 1h1m-2 1h1m-2 1h1m-2 1h1m-2 1h1m-2 1h1m-2 1h1m-2 1h1m-2 1h1m-2 1h1m-2 1h1m-2 1h1m-2 1h1m-2 1h1m-2 1h1m-2 1h1m-2 1h1m-2 1h1m-2 1h1m-2 1h1m-2 1h1m-2 1h1m-2 1h1m-2 1h1m-2 1h1m-2 1h1m-2 1h1m-2 1h1M238 11.5h1m-2 1h1m-2 1h1m-2 1h1m-2 1h1m-2 1h1m-2 1h1m-2 1h1m-2 1h1m-2 1h1m-2 1h1m-2 1h1m-2 1h1m-2 1h1m-2 1h1m-2 1h1m-2 1h1m-2 1h1m-2 1h1m-2 1h1m-2 1h1m-2 1h1m-2 1h1m-2 1h1m-2 1h1m-2 1h1m-2 1h1m-2 1h1m-2 1h1m-2 1h1m-2 1h1m-2 1h1m-2 1h1m-2 1h1m-2 1h1m-2 1h1m-2 1h1m-2 1h1m-2 1h1m-2 1h1m-2 1h1m-2 1h1m-2 1h1m-2 1h1m-2 1h1m-2 1h1m-2 1h1m-2 1h1m-2 1h1m-2 1h1m-2 1h1m-2 1h1m-2 1h1m-2 1h1m-2 1h1m-2 1h1m-2 1h1m-2 1h1m-2 1h1m-2 1h1m-2 1h1m-2 1h1m-2 1h1m-2 1h1m-2 1h1m-2 1h1m-2 1h1m-2 1h1m-2 1h1m-2 1h1m-2 1h1m-2 1h1m-2 1h1m-2 1h1m-2 1h1m-2 1h1m-2 1h1m-2 1h1m-2 1h1m-2 1h1m-2 1h1m-2 1h1m-2 1h1m-2 1h1m-2 1h1m-2 1h1m-2 1h1m-2 1h1m-2 1h1m-2 1h1m-2 1h1m-2 1h1m-2 1h1m-2 1h1m-2 1h1m-2 1h1m-2 1h1m-2 1h1m-2 1h1m-2 1h1m-2 1h1m-2 1h1m-2 1h1m-2 1h1m-2 1h1m-2 1h1m-2 1h1m-2 1h1m-2 1h1m-2 1h1m-2 1h1m-2 1h1m-2 1h1m-2 1h1m-2 1h1m-2 1h1m-2 1h1m-2 1h1m-2 1h1m-2 1h1m-2 1h1m-2 1h1m-2 1h1m-2 1h1m-2 1h1m-2 1h1m-2 1h1m-2 1h1m-2 1h1m-2 1h1m-2 1h1m-2 1h1m-2 1h1m-2 1h1m-2 1h1m-2 1h1m-2 1h1m-2 1h1m-2 1h1m-2 1h1m-2 1h1m-2 1h1m-2 1h1m-2 1h1m-2 1h1m-2 1h1m-2 1h1m-2 1h1m-2 1h1m-2 1h1m-2 1h1m-2 1h1m-2 1h1m-2 1h1m-2 1h1m-2 1h1m-2 1h1m-2 1h1m-2 1h1m-2 1h1m-2 1h1m-2 1h1m-2 1h1m-2 1h1m-2 1h1m-2 1h1m-2 1h1m-2 1h1m-2 1h1m-2 1h1m-2 1h1m-2 1h1m-2 1h1m-2 1h1m-2 1h1m-2 1h1m-2 1h1m-2 1h1m-2 1h1m-2 1h1m-2 1h1m-2 1h1m-2 1h1m-2 1h1m-2 1h1m-2 1h1m-2 1h1m-2 1h1m-2 1h1m-2 1h1m-2 1h1m-2 1h1m-2 1h1m-2 1h1m-2 1h1m-2 1h1m-2 1h1m-2 1h1m-2 1h1m-2 1h1m-2 1h1m-2 1h1m-2 1h1m-2 1h1m-2 1h1m-2 1h1m-2 1h1m-2 1h1m-2 1h1m-2 1h1m-2 1h1m-2 1h1m-2 1h1m-2 1h1m-2 1h1m-2 1h1m-2 1h1m-2 1h1m-2 1h1m-2 1h1m-2 1h1m-2 1h1m-2 1h1m-2 1h1m-2 1h1m-2 1h1m-2 1h1m-2 1h1M238 29.5h1m-2 1h1m-2 1h1m-2 1h1m-2 1h1m-2 1h1m-2 1h1m-2 1h1m-2 1h1m-2 1h1m-2 1h1m-2 1h1m-2 1h1m-2 1h1m-2 1h1m-2 1h1m-2 1h1m-2 1h1m-2 1h1m-2 1h1m-2 1h1m-2 1h1m-2 1h1m-2 1h1m-2 1h1m-2 1h1m-2 1h1m-2 1h1m-2 1h1m-2 1h1m-2 1h1m-2 1h1m-2 1h1m-2 1h1m-2 1h1m-2 1h1m-2 1h1m-2 1h1m-2 1h1m-2 1h1m-2 1h1m-2 1h1m-2 1h1m-2 1h1m-2 1h1m-2 1h1m-2 1h1m-2 1h1m-2 1h1m-2 1h1m-2 1h1m-2 1h1m-2 1h1m-2 1h1m-2 1h1m-2 1h1m-2 1h1m-2 1h1m-2 1h1m-2 1h1m-2 1h1m-2 1h1m-2 1h1m-2 1h1m-2 1h1m-2 1h1m-2 1h1m-2 1h1m-2 1h1m-2 1h1m-2 1h1m-2 1h1m-2 1h1m-2 1h1m-2 1h1m-2 1h1m-2 1h1m-2 1h1m-2 1h1m-2 1h1m-2 1h1m-2 1h1m-2 1h1m-2 1h1m-2 1h1m-2 1h1m-2 1h1m-2 1h1m-2 1h1m-2 1h1m-2 1h1m-2 1h1m-2 1h1m-2 1h1m-2 1h1m-2 1h1m-2 1h1m-2 1h1m-2 1h1m-2 1h1m-2 1h1m-2 1h1m-2 1h1m-2 1h1m-2 1h1m-2 1h1m-2 1h1m-2 1h1m-2 1h1m-2 1h1m-2 1h1m-2 1h1m-2 1h1m-2 1h1m-2 1h1m-2 1h1m-2 1h1m-2 1h1m-2 1h1m-2 1h1m-2 1h1m-2 1h1m-2 1h1m-2 1h1m-2 1h1m-2 1h1m-2 1h1m-2 1h1m-2 1h1m-2 1h1m-2 1h1m-2 1h1m-2 1h1m-2 1h1m-2 1h1m-2 1h1m-2 1h1m-2 1h1m-2 1h1m-2 1h1m-2 1h1m-2 1h1m-2 1h1m-2 1h1m-2 1h1m-2 1h1m-2 1h1m-2 1h1m-2 1h1m-2 1h1m-2 1h1m-2 1h1m-2 1h1m-2 1h1m-2 1h1m-2 1h1m-2 1h1m-2 1h1m-2 1h1m-2 1h1m-2 1h1m-2 1h1m-2 1h1m-2 1h1m-2 1h1m-2 1h1m-2 1h1m-2 1h1m-2 1h1m-2 1h1m-2 1h1m-2 1h1m-2 1h1m-2 1h1m-2 1h1m-2 1h1m-2 1h1m-2 1h1m-2 1h1m-2 1h1m-2 1h1m-2 1h1m-2 1h1m-2 1h1m-2 1h1m-2 1h1m-2 1h1m-2 1h1m-2 1h1m-2 1h1m-2 1h1m-2 1h1m-2 1h1m-2 1h1m-2 1h1m-2 1h1m-2 1h1m-2 1h1m-2 1h1m-2 1h1m-2 1h1m-2 1h1m-2 1h1m-2 1h1m-2 1h1m-2 1h1m-2 1h1m-2 1h1m-2 1h1m-2 1h1M238 47.5h1m-2 1h1m-2 1h1m-2 1h1m-2 1h1m-2 1h1m-2 1h1m-2 1h1m-2 1h1m-2 1h1m-2 1h1m-2 1h1m-2 1h1m-2 1h1m-2 1h1m-2 1h1m-2 1h1m-2 1h1m-2 1h1m-2 1h1m-2 1h1m-2 1h1m-2 1h1m-2 1h1m-2 1h1m-2 1h1m-2 1h1m-2 1h1m-2 1h1m-2 1h1m-2 1h1m-2 1h1m-2 1h1m-2 1h1m-2 1h1m-2 1h1m-2 1h1m-2 1h1m-2 1h1m-2 1h1m-2 1h1m-2 1h1m-2 1h1m-2 1h1m-2 1h1m-2 1h1m-2 1h1m-2 1h1m-2 1h1m-2 1h1m-2 1h1m-2 1h1m-2 1h1m-2 1h1m-2 1h1m-2 1h1m-2 1h1m-2 1h1m-2 1h1m-2 1h1m-2 1h1m-2 1h1m-2 1h1m-2 1h1m-2 1h1m-2 1h1m-2 1h1m-2 1h1m-2 1h1m-2 1h1m-2 1h1m-2 1h1m-2 1h1m-2 1h1m-2 1h1m-2 1h1m-2 1h1m-2 1h1m-2 1h1m-2 1h1m-2 1h1m-2 1h1m-2 1h1m-2 1h1m-2 1h1m-2 1h1m-2 1h1m-2 1h1m-2 1h1m-2 1h1m-2 1h1m-2 1h1m-2 1h1m-2 1h1m-2 1h1m-2 1h1m-2 1h1m-2 1h1m-2 1h1m-2 1h1m-2 1h1m-2 1h1m-2 1h1m-2 1h1m-2 1h1m-2 1h1m-2 1h1m-2 1h1m-2 1h1m-2 1h1m-2 1h1m-2 1h1m-2 1h1m-2 1h1m-2 1h1m-2 1h1m-2 1h1m-2 1h1m-2 1h1m-2 1h1m-2 1h1m-2 1h1m-2 1h1m-2 1h1m-2 1h1m-2 1h1m-2 1h1m-2 1h1m-2 1h1m-2 1h1m-2 1h1m-2 1h1m-2 1h1m-2 1h1m-2 1h1m-2 1h1m-2 1h1m-2 1h1m-2 1h1m-2 1h1m-2 1h1m-2 1h1m-2 1h1m-2 1h1m-2 1h1m-2 1h1m-2 1h1m-2 1h1m-2 1h1m-2 1h1m-2 1h1m-2 1h1m-2 1h1m-2 1h1m-2 1h1m-2 1h1m-2 1h1m-2 1h1m-2 1h1m-2 1h1m-2 1h1m-2 1h1m-2 1h1m-2 1h1m-2 1h1m-2 1h1m-2 1h1m-2 1h1m-2 1h1m-2 1h1m-2 1h1m-2 1h1m-2 1h1m-2 1h1m-2 1h1m-2 1h1m-2 1h1m-2 1h1m-2 1h1m-2 1h1m-2 1h1m-2 1h1m-2 1h1m-2 1h1m-2 1h1m-2 1h1m-2 1h1m-2 1h1m-2 1h1m-2 1h1m-2 1h1m-2 1h1M238 66.5h1m-2 1h1m-2 1h1m-2 1h1m-2 1h1m-2 1h1m-2 1h1m-2 1h1m-2 1h1m-2 1h1m-2 1h1m-2 1h1m-2 1h1m-2 1h1m-2 1h1m-2 1h1m-2 1h1m-2 1h1m-2 1h1m-2 1h1m-2 1h1m-2 1h1m-2 1h1m-2 1h1m-2 1h1m-2 1h1m-2 1h1m-2 1h1m-2 1h1m-2 1h1m-2 1h1m-2 1h1m-2 1h1m-2 1h1m-2 1h1m-2 1h1m-2 1h1m-2 1h1m-2 1h1m-2 1h1m-2 1h1m-2 1h1m-2 1h1m-2 1h1m-2 1h1m-2 1h1m-2 1h1m-2 1h1m-2 1h1m-2 1h1m-2 1h1m-2 1h1m-2 1h1m-2 1h1m-2 1h1m-2 1h1m-2 1h1m-2 1h1m-2 1h1m-2 1h1m-2 1h1m-2 1h1m-2 1h1m-2 1h1m-2 1h1m-2 1h1m-2 1h1m-2 1h1m-2 1h1m-2 1h1m-2 1h1m-2 1h1m-2 1h1m-2 1h1m-2 1h1m-2 1h1m-2 1h1m-2 1h1m-2 1h1m-2 1h1m-2 1h1m-2 1h1m-2 1h1m-2 1h1m-2 1h1m-2 1h1m-2 1h1m-2 1h1m-2 1h1m-2 1h1m-2 1h1m-2 1h1m-2 1h1m-2 1h1m-2 1h1m-2 1h1m-2 1h1m-2 1h1m-2 1h1m-2 1h1m-2 1h1m-2 1h1m-2 1h1m-2 1h1m-2 1h1m-2 1h1m-2 1h1m-2 1h1m-2 1h1m-2 1h1m-2 1h1m-2 1h1m-2 1h1m-2 1h1m-2 1h1m-2 1h1m-2 1h1m-2 1h1m-2 1h1m-2 1h1m-2 1h1m-2 1h1m-2 1h1m-2 1h1m-2 1h1m-2 1h1m-2 1h1m-2 1h1m-2 1h1m-2 1h1m-2 1h1m-2 1h1m-2 1h1m-2 1h1m-2 1h1m-2 1h1m-2 1h1m-2 1h1m-2 1h1m-2 1h1m-2 1h1m-2 1h1m-2 1h1m-2 1h1m-2 1h1m-2 1h1m-2 1h1m-2 1h1m-2 1h1m-2 1h1m-2 1h1m-2 1h1m-2 1h1m-2 1h1m-2 1h1m-2 1h1m-2 1h1m-2 1h1m-2 1h1m-2 1h1m-2 1h1m-2 1h1m-2 1h1m-2 1h1m-2 1h1m-2 1h1m-2 1h1m-2 1h1m-2 1h1m-2 1h1m-2 1h1m-2 1h1m-2 1h1M238 84.5h1m-2 1h1m-2 1h1m-2 1h1m-2 1h1m-2 1h1m-2 1h1m-2 1h1m-2 1h1m-2 1h1m-2 1h1m-2 1h1m-2 1h1m-2 1h1m-2 1h1m-2 1h1m-2 1h1m-2 1h1m-2 1h1m-2 1h1m-2 1h1m-2 1h1m-2 1h1m-2 1h1m-2 1h1m-2 1h1m-2 1h1m-2 1h1m-2 1h1m-2 1h1m-2 1h1m-2 1h1m-2 1h1m-2 1h1m-2 1h1m-2 1h1m-2 1h1m-2 1h1m-2 1h1m-2 1h1m-2 1h1m-2 1h1m-2 1h1m-2 1h1m-2 1h1m-2 1h1m-2 1h1m-2 1h1m-2 1h1m-2 1h1m-2 1h1m-2 1h1m-2 1h1m-2 1h1m-2 1h1m-2 1h1m-2 1h1m-2 1h1m-2 1h1m-2 1h1m-2 1h1m-2 1h1m-2 1h1m-2 1h1m-2 1h1m-2 1h1m-2 1h1m-2 1h1m-2 1h1m-2 1h1m-2 1h1m-2 1h1m-2 1h1m-2 1h1m-2 1h1m-2 1h1m-2 1h1m-2 1h1m-2 1h1m-2 1h1m-2 1h1m-2 1h1m-2 1h1m-2 1h1m-2 1h1m-2 1h1m-2 1h1m-2 1h1m-2 1h1m-2 1h1m-2 1h1m-2 1h1m-2 1h1m-2 1h1m-2 1h1m-2 1h1m-2 1h1m-2 1h1m-2 1h1m-2 1h1m-2 1h1m-2 1h1m-2 1h1m-2 1h1m-2 1h1m-2 1h1m-2 1h1m-2 1h1m-2 1h1m-2 1h1m-2 1h1m-2 1h1m-2 1h1m-2 1h1m-2 1h1m-2 1h1m-2 1h1m-2 1h1m-2 1h1m-2 1h1m-2 1h1m-2 1h1m-2 1h1m-2 1h1m-2 1h1m-2 1h1m-2 1h1m-2 1h1m-2 1h1m-2 1h1m-2 1h1m-2 1h1m-2 1h1m-2 1h1m-2 1h1m-2 1h1m-2 1h1m-2 1h1m-2 1h1m-2 1h1m-2 1h1m-2 1h1m-2 1h1m-2 1h1m-2 1h1m-2 1h1m-2 1h1m-2 1h1m-2 1h1m-2 1h1m-2 1h1m-2 1h1m-2 1h1m-2 1h1m-2 1h1M238 103.5h1m-2 1h1m-2 1h1m-2 1h1m-2 1h1m-2 1h1m-2 1h1m-2 1h1m-2 1h1m-2 1h1m-2 1h1m-2 1h1m-2 1h1m-2 1h1m-2 1h1m-2 1h1m-2 1h1m-2 1h1m-2 1h1m-2 1h1m-2 1h1m-2 1h1m-2 1h1m-2 1h1m-2 1h1m-2 1h1m-2 1h1m-2 1h1m-2 1h1m-2 1h1m-2 1h1m-2 1h1m-2 1h1m-2 1h1m-2 1h1m-2 1h1m-2 1h1m-2 1h1m-2 1h1m-2 1h1m-2 1h1m-2 1h1m-2 1h1m-2 1h1m-2 1h1m-2 1h1m-2 1h1m-2 1h1m-2 1h1m-2 1h1m-2 1h1m-2 1h1m-2 1h1m-2 1h1m-2 1h1m-2 1h1m-2 1h1m-2 1h1m-2 1h1m-2 1h1m-2 1h1m-2 1h1m-2 1h1m-2 1h1m-2 1h1m-2 1h1m-2 1h1m-2 1h1m-2 1h1m-2 1h1m-2 1h1m-2 1h1m-2 1h1m-2 1h1m-2 1h1m-2 1h1m-2 1h1m-2 1h1m-2 1h1m-2 1h1m-2 1h1m-2 1h1m-2 1h1m-2 1h1m-2 1h1m-2 1h1m-2 1h1m-2 1h1m-2 1h1m-2 1h1m-2 1h1m-2 1h1m-2 1h1m-2 1h1m-2 1h1m-2 1h1m-2 1h1m-2 1h1m-2 1h1m-2 1h1m-2 1h1m-2 1h1m-2 1h1m-2 1h1m-2 1h1m-2 1h1m-2 1h1m-2 1h1m-2 1h1m-2 1h1m-2 1h1m-2 1h1m-2 1h1m-2 1h1m-2 1h1m-2 1h1m-2 1h1m-2 1h1m-2 1h1m-2 1h1m-2 1h1m-2 1h1m-2 1h1m-2 1h1m-2 1h1m-2 1h1m-2 1h1m-2 1h1m-2 1h1m-2 1h1m-2 1h1m-2 1h1m-2 1h1m-2 1h1m-2 1h1m-2 1h1M238 121.5h1m-2 1h1m-2 1h1m-2 1h1m-2 1h1m-2 1h1m-2 1h1m-2 1h1m-2 1h1m-2 1h1m-2 1h1m-2 1h1m-2 1h1m-2 1h1m-2 1h1m-2 1h1m-2 1h1m-2 1h1m-2 1h1m-2 1h1m-2 1h1m-2 1h1m-2 1h1m-2 1h1m-2 1h1m-2 1h1m-2 1h1m-2 1h1m-2 1h1m-2 1h1m-2 1h1m-2 1h1m-2 1h1m-2 1h1m-2 1h1m-2 1h1m-2 1h1m-2 1h1m-2 1h1m-2 1h1m-2 1h1m-2 1h1m-2 1h1m-2 1h1m-2 1h1m-2 1h1m-2 1h1m-2 1h1m-2 1h1m-2 1h1m-2 1h1m-2 1h1m-2 1h1m-2 1h1m-2 1h1m-2 1h1m-2 1h1m-2 1h1m-2 1h1m-2 1h1m-2 1h1m-2 1h1m-2 1h1m-2 1h1m-2 1h1m-2 1h1m-2 1h1m-2 1h1m-2 1h1m-2 1h1m-2 1h1m-2 1h1m-2 1h1m-2 1h1m-2 1h1m-2 1h1m-2 1h1m-2 1h1m-2 1h1m-2 1h1m-2 1h1m-2 1h1m-2 1h1m-2 1h1m-2 1h1m-2 1h1m-2 1h1m-2 1h1m-2 1h1m-2 1h1m-2 1h1m-2 1h1m-2 1h1m-2 1h1m-2 1h1m-2 1h1m-2 1h1m-2 1h1m-2 1h1m-2 1h1m-2 1h1m-2 1h1m-2 1h1m-2 1h1m-2 1h1m-2 1h1m-2 1h1m-2 1h1m-2 1h1m-2 1h1m-2 1h1m-2 1h1m-2 1h1m-2 1h1m-2 1h1m-2 1h1m-2 1h1m-2 1h1M238 139.5h1m-2 1h1m-2 1h1m-2 1h1m-2 1h1m-2 1h1m-2 1h1m-2 1h1m-2 1h1m-2 1h1m-2 1h1m-2 1h1m-2 1h1m-2 1h1m-2 1h1m-2 1h1m-2 1h1m-2 1h1m-2 1h1m-2 1h1m-2 1h1m-2 1h1m-2 1h1m-2 1h1m-2 1h1m-2 1h1m-2 1h1m-2 1h1m-2 1h1m-2 1h1m-2 1h1m-2 1h1m-2 1h1m-2 1h1m-2 1h1m-2 1h1m-2 1h1m-2 1h1m-2 1h1m-2 1h1m-2 1h1m-2 1h1m-2 1h1m-2 1h1m-2 1h1m-2 1h1m-2 1h1m-2 1h1m-2 1h1m-2 1h1m-2 1h1m-2 1h1m-2 1h1m-2 1h1m-2 1h1m-2 1h1m-2 1h1m-2 1h1m-2 1h1m-2 1h1m-2 1h1m-2 1h1m-2 1h1m-2 1h1m-2 1h1m-2 1h1m-2 1h1m-2 1h1m-2 1h1m-2 1h1m-2 1h1m-2 1h1m-2 1h1m-2 1h1m-2 1h1m-2 1h1m-2 1h1m-2 1h1m-2 1h1m-2 1h1m-2 1h1m-2 1h1m-2 1h1m-2 1h1m-2 1h1m-2 1h1m-2 1h1m-2 1h1m-2 1h1m-2 1h1m-2 1h1m-2 1h1m-2 1h1m-2 1h1m-2 1h1m-2 1h1m-2 1h1m-2 1h1m-2 1h1m-2 1h1M238 158.5h1m-2 1h1m-2 1h1m-2 1h1m-2 1h1m-2 1h1m-2 1h1m-2 1h1m-2 1h1m-2 1h1m-2 1h1m-2 1h1m-2 1h1m-2 1h1m-2 1h1m-2 1h1m-2 1h1m-2 1h1m-2 1h1m-2 1h1m-2 1h1m-2 1h1m-2 1h1m-2 1h1m-2 1h1m-2 1h1m-2 1h1m-2 1h1m-2 1h1m-2 1h1m-2 1h1m-2 1h1m-2 1h1m-2 1h1m-2 1h1m-2 1h1m-2 1h1m-2 1h1m-2 1h1m-2 1h1m-2 1h1m-2 1h1m-2 1h1m-2 1h1m-2 1h1m-2 1h1m-2 1h1m-2 1h1m-2 1h1m-2 1h1m-2 1h1m-2 1h1m-2 1h1m-2 1h1m-2 1h1m-2 1h1m-2 1h1m-2 1h1m-2 1h1m-2 1h1m-2 1h1m-2 1h1m-2 1h1m-2 1h1m-2 1h1m-2 1h1m-2 1h1m-2 1h1m-2 1h1m-2 1h1m-2 1h1m-2 1h1m-2 1h1m-2 1h1m-2 1h1m-2 1h1m-2 1h1m-2 1h1m-2 1h1m-2 1h1m-2 1h1M238 176.5h1m-2 1h1m-2 1h1m-2 1h1m-2 1h1m-2 1h1m-2 1h1m-2 1h1m-2 1h1m-2 1h1m-2 1h1m-2 1h1m-2 1h1m-2 1h1m-2 1h1m-2 1h1m-2 1h1m-2 1h1m-2 1h1m-2 1h1m-2 1h1m-2 1h1m-2 1h1m-2 1h1m-2 1h1m-2 1h1m-2 1h1m-2 1h1m-2 1h1m-2 1h1m-2 1h1m-2 1h1m-2 1h1m-2 1h1m-2 1h1m-2 1h1m-2 1h1m-2 1h1m-2 1h1m-2 1h1m-2 1h1m-2 1h1m-2 1h1m-2 1h1m-2 1h1m-2 1h1m-2 1h1m-2 1h1m-2 1h1m-2 1h1m-2 1h1m-2 1h1m-2 1h1m-2 1h1m-2 1h1m-2 1h1m-2 1h1m-2 1h1m-2 1h1m-2 1h1m-2 1h1m-2 1h1m-2 1h1M238 194.5h1m-2 1h1m-2 1h1m-2 1h1m-2 1h1m-2 1h1m-2 1h1m-2 1h1m-2 1h1m-2 1h1m-2 1h1m-2 1h1m-2 1h1m-2 1h1m-2 1h1m-2 1h1m-2 1h1m-2 1h1m-2 1h1m-2 1h1m-2 1h1m-2 1h1m-2 1h1m-2 1h1m-2 1h1m-2 1h1m-2 1h1m-2 1h1m-2 1h1m-2 1h1m-2 1h1m-2 1h1m-2 1h1m-2 1h1m-2 1h1m-2 1h1m-2 1h1m-2 1h1m-2 1h1m-2 1h1m-2 1h1m-2 1h1m-2 1h1m-2 1h1m-2 1h1M238 213.5h1m-2 1h1m-2 1h1m-2 1h1m-2 1h1m-2 1h1m-2 1h1m-2 1h1m-2 1h1m-2 1h1m-2 1h1m-2 1h1m-2 1h1m-2 1h1m-2 1h1m-2 1h1m-2 1h1m-2 1h1m-2 1h1m-2 1h1m-2 1h1m-2 1h1m-2 1h1m-2 1h1m-2 1h1m-2 1h1M238 231.5h1m-2 1h1m-2 1h1m-2 1h1m-2 1h1m-2 1h1m-2 1h1m-2 1h1" fill="none" stroke="#000" stroke-width="1"/></pattern></defs><g clip-path="url(#cd)"><rect x="120" y="76" width="544" height="560" fill="url(#hn)" clip-path="url(#cn)"/><rect x="120" y="76" width="544" height="560" fill="url(#hp)" clip-path="url(#cp)"/></g>
<ellipse cx="391.5" cy="355.5" rx="269.5" ry="277.5" fill="none" stroke="#000" stroke-width="1"/>
<circle cx="391.8" cy="355.5" r="14" fill="#fff" stroke="#000" stroke-width="1"/>
<path d="M121.5 77.5H661.5V633.5H121.5ZM135.5 634v6M121 91.5h-5M148.5 634v6M121 105.5h-5M162.5 634v6M121 119.5h-5M175.5 634v6M121 133.5h-5M189.5 634v6M121 147.5h-5M202.5 634v6M121 160.5h-5M216.5 634v6M121 174.5h-5M229.5 634v6M121 188.5h-5M243.5 634v6M121 202.5h-5M256.5 634v11M121 216.5h-11M270.5 634v6M121 230.5h-5M283.5 634v6M121 244.5h-5M297.5 634v6M121 258.5h-5M310.5 634v6M121 272.5h-5M324.5 634v6M121 286.5h-5M337.5 634v6M121 299.5h-5M351.5 634v6M121 313.5h-5M364.5 634v6M121 327.5h-5M378.5 634v6M121 341.5h-5M391.5 634v11M121 355.5h-11M405.5 634v6M121 369.5h-5M418.5 634v6M121 383.5h-5M432.5 634v6M121 397.5h-5M445.5 634v6M121 411.5h-5M459.5 634v6M121 425.5h-5M472.5 634v6M121 438.5h-5M486.5 634v6M121 452.5h-5M499.5 634v6M121 466.5h-5M513.5 634v6M121 480.5h-5M526.5 634v11M121 494.5h-11M540.5 634v6M121 508.5h-5M553.5 634v6M121 522.5h-5M567.5 634v6M121 536.5h-5M580.5 634v6M121 550.5h-5M594.5 634v6M121 564.5h-5M607.5 634v6M121 577.5h-5M621.5 634v6M121 591.5h-5M634.5 634v6M121 605.5h-5M648.5 634v6M121 619.5h-5" fill="none" stroke="#000" stroke-width="1" shape-rendering="crispEdges"/>
<path d="M679 260.5H800M679 447.5H800M680.5 290V312" fill="none" stroke="#000" stroke-width="1" shape-rendering="crispEdges"/>
<path d="M733 338L747.5 352M733 408L747.5 393.8" fill="none" stroke="#000" stroke-width="1"/>
<defs><linearGradient id="cb" x1="0" y1="1" x2="0" y2="0"><stop offset="0.000" stop-color="#3200a5"/><stop offset="0.012" stop-color="#2800b4"/><stop offset="0.030" stop-color="#1a00c8"/><stop offset="0.070" stop-color="#0a0ae1"/><stop offset="0.108" stop-color="#0032f0"/><stop offset="0.146" stop-color="#006efa"/><stop offset="0.184" stop-color="#00aaff"/><stop offset="0.231" stop-color="#00d7ff"/><stop offset="0.278" stop-color="#00f0ff"/><stop offset="0.335" stop-color="#0ffff5"/><stop offset="0.373" stop-color="#19ffdc"/><stop offset="0.390" stop-color="#2dff82"/><stop offset="0.420" stop-color="#46ff50"/><stop offset="0.458" stop-color="#6eff00"/><stop offset="0.495" stop-color="#7dfc00"/><stop offset="0.533" stop-color="#a0fc00"/><stop offset="0.580" stop-color="#c8fc00"/><stop offset="0.637" stop-color="#ebfa00"/><stop offset="0.693" stop-color="#f5f500"/><stop offset="0.740" stop-color="#f5e100"/><stop offset="0.778" stop-color="#f8c800"/><stop offset="0.816" stop-color="#faa000"/><stop offset="0.854" stop-color="#ff6400"/><stop offset="0.900" stop-color="#ff2d05"/><stop offset="0.930" stop-color="#ff1e0f"/><stop offset="1.000" stop-color="#ff1620"/></linearGradient></defs><rect x="678.5" y="566.5" width="34" height="107" fill="url(#cb)" stroke="#000" stroke-width="1" shape-rendering="crispEdges"/>
<path d="M371 317.5H380M375.5 313V322M523.5 355.5H532.5M528 351V360M524.5 352L531.5 359M531.5 352L524.5 359M287 547.5L295 555.5M295 547.5L287 555.5M484 351L488 347L492 351L488 355Z" fill="none" stroke="#fff" stroke-width="2"/>
<text><tspan x="92.5" y="28.75" font-size="21.5" class="ser" textLength="142.5" lengthAdjust="spacingAndGlyphs" letter-spacing="1.2">08/28/2025</tspan> <tspan x="250" y="28.75" font-size="21.5" class="ser" textLength="57.5" lengthAdjust="spacingAndGlyphs" letter-spacing="1.2">Time</tspan> <tspan x="321" y="28.75" font-size="21.5" class="ser" textLength="18" lengthAdjust="spacingAndGlyphs" letter-spacing="1.2">=</tspan> <tspan x="350" y="28.75" font-size="21.5" class="ser" textLength="97.5" lengthAdjust="spacingAndGlyphs" letter-spacing="1.2">06:30:15</tspan> <tspan x="461" y="28.75" font-size="21.5" class="ser" textLength="29.5" lengthAdjust="spacingAndGlyphs" letter-spacing="1.2">UT</tspan> <tspan x="504.5" y="30.5" font-size="21" stroke-width="0.31" textLength="45" lengthAdjust="spacing">lat=</tspan> <tspan x="560" y="30.5" font-size="21" stroke-width="0.31" textLength="63" lengthAdjust="spacing">0.000</tspan><tspan x="624" y="17.5" font-size="11" stroke-width="0.71">°</tspan></text>
<text><tspan x="2" y="60" font-size="15" stroke-width="0.55" textLength="10" lengthAdjust="spacing">+</tspan> <tspan x="23" y="60" font-size="15" stroke-width="0.55" textLength="59" lengthAdjust="spacing">Mercury</tspan> <tspan x="92" y="60" font-size="15" stroke-width="0.55">at</tspan> <tspan x="116" y="60" font-size="15" stroke-width="0.55" textLength="52" lengthAdjust="spacing">r=0.31</tspan> <tspan x="178" y="60" font-size="15" stroke-width="0.55" textLength="55" lengthAdjust="spacing">CLON=</tspan> <tspan x="241" y="60" font-size="15" stroke-width="0.55" textLength="24.5" lengthAdjust="spacing">91.</tspan></text>
<text><tspan x="4" y="73.2" font-size="11" stroke-width="0.71">◇</tspan> <tspan x="23.5" y="75" font-size="15" stroke-width="0.55" textLength="47" lengthAdjust="spacing">Venus</tspan> <tspan x="79.5" y="75" font-size="15" stroke-width="0.55">at</tspan> <tspan x="102.5" y="75" font-size="15" stroke-width="0.55" textLength="53" lengthAdjust="spacing">r=0.72</tspan> <tspan x="165.5" y="75" font-size="15" stroke-width="0.55" textLength="55" lengthAdjust="spacing">CLON=</tspan> <tspan x="237" y="75" font-size="15" stroke-width="0.55" textLength="13.5" lengthAdjust="spacing">3.</tspan></text>
<text><tspan x="546" y="51.75" font-size="15" stroke-width="0.55" textLength="8" lengthAdjust="spacing">*</tspan> <tspan x="561.5" y="51.75" font-size="15" stroke-width="0.55" textLength="41.5" lengthAdjust="spacing">Earth</tspan> <tspan x="611" y="51.75" font-size="15" stroke-width="0.55">at</tspan> <tspan x="644.5" y="51.75" font-size="15" stroke-width="0.55" textLength="53" lengthAdjust="spacing">r=1.01</tspan> <tspan x="707.5" y="51.75" font-size="15" stroke-width="0.55" textLength="83" lengthAdjust="spacing">CLON=157</tspan></text>
<text><tspan x="552.5" y="74.5" font-size="15" stroke-width="0.55" textLength="10" lengthAdjust="spacing">X</tspan> <tspan x="570.5" y="74.5" font-size="15" stroke-width="0.55" textLength="36" lengthAdjust="spacing">Mars</tspan> <tspan x="615" y="74.5" font-size="15" stroke-width="0.55">at</tspan> <tspan x="639.5" y="74.5" font-size="15" stroke-width="0.55" textLength="53" lengthAdjust="spacing">r=1.58</tspan> <tspan x="702.3" y="74.5" font-size="15" stroke-width="0.55" textLength="88" lengthAdjust="spacing">CLON=219.</tspan></text>
<text><tspan x="60.5" y="226.9" font-size="27.4" stroke-width="0.05" textLength="42.5" lengthAdjust="spacing">1.0</tspan></text>
<text><tspan x="57.5" y="366.7" font-size="27.4" stroke-width="0.05" textLength="45.5" lengthAdjust="spacing">0.0</tspan></text>
<text><tspan x="32.71" y="506" font-size="27.4" stroke-width="0.05" textLength="23.47" lengthAdjust="spacingAndGlyphs">-</tspan><tspan x="60.5" y="506" font-size="27.4" stroke-width="0.05" textLength="42.5" lengthAdjust="spacing">1.0</tspan></text>
<text><tspan x="-3.5" y="439.9" font-size="27.4" stroke-width="0.05">y</tspan> <tspan x="29.4" y="441.3" font-size="36.6" stroke-width="0.00" textLength="10" lengthAdjust="spacingAndGlyphs">[</tspan><tspan x="42.5" y="439.9" font-size="27.4" stroke-width="0.05" textLength="34" lengthAdjust="spacingAndGlyphs">AU</tspan><tspan x="80.2" y="441.3" font-size="36.6" stroke-width="0.00" textLength="10" lengthAdjust="spacingAndGlyphs">]</tspan></text>
<text><tspan x="220.35" y="683.75" font-size="27.4" stroke-width="0.05" textLength="25.05" lengthAdjust="spacingAndGlyphs">-</tspan><tspan x="248.9" y="683.75" font-size="27.4" stroke-width="0.05" textLength="42.5" lengthAdjust="spacing">1.0</tspan></text>
<text><tspan x="369.5" y="683.75" font-size="27.4" stroke-width="0.05" textLength="41.75" lengthAdjust="spacing">0.0</tspan></text>
<text><tspan x="506" y="683.75" font-size="27.4" stroke-width="0.05" textLength="41.5" lengthAdjust="spacing">1.0</tspan></text>
<text><tspan x="345.5" y="717.5" font-size="27.4" stroke-width="0.05">x</tspan> <tspan x="375.7" y="718.9" font-size="36.6" stroke-width="0.00" textLength="10" lengthAdjust="spacingAndGlyphs">[</tspan><tspan x="388.8" y="717.5" font-size="27.4" stroke-width="0.05" textLength="34" lengthAdjust="spacingAndGlyphs">AU</tspan><tspan x="426.5" y="718.9" font-size="36.6" stroke-width="0.00" textLength="10" lengthAdjust="spacingAndGlyphs">]</tspan></text>
<text><tspan x="3" y="739" font-size="19.9" stroke-width="0.35" textLength="217" lengthAdjust="spacing">Model at CCMC: ENLIL</tspan></text>
<text><tspan x="700.4" y="312.8" font-size="19.9" stroke-width="0.35" textLength="47.5" lengthAdjust="spacing">polB</tspan> <tspan x="760" y="314.5" font-size="29" stroke-width="0.00" textLength="8" lengthAdjust="spacingAndGlyphs">[</tspan><tspan x="771.6" y="314.5" font-size="29" stroke-width="0.00" textLength="8" lengthAdjust="spacingAndGlyphs">]</tspan></text>
<text><tspan x="680.6" y="353.5" font-size="19.9" stroke-width="0.35">Min:</tspan></text>
<text><tspan x="710.48" y="383.5" font-size="19.9" stroke-width="0.35" textLength="18.53" lengthAdjust="spacingAndGlyphs">-</tspan><tspan x="732" y="383.5" font-size="19.9" stroke-width="0.35" textLength="57.7" lengthAdjust="spacing">1.000</tspan></text>
<text><tspan x="680.6" y="410" font-size="19.9" stroke-width="0.35">Max:</tspan></text>
<text><tspan x="732" y="439" font-size="19.9" stroke-width="0.35" textLength="57.7" lengthAdjust="spacing">1.000</tspan></text>
<text><tspan x="679.25" y="515.9" font-size="15.6" stroke-width="0.53" textLength="26.7" lengthAdjust="spacing">N*r</tspan><tspan x="706.2" y="508.6" font-size="8" stroke-width="0.83">2</tspan> <tspan x="719.6" y="517.4" font-size="21.9" stroke-width="0.27" textLength="6" lengthAdjust="spacingAndGlyphs">[</tspan><tspan x="727.6" y="517.4" font-size="21.9" stroke-width="0.27" textLength="6" lengthAdjust="spacingAndGlyphs">[</tspan><tspan x="734.8" y="515.9" font-size="15.6" stroke-width="0.53" textLength="21.5" lengthAdjust="spacingAndGlyphs">AU</tspan><tspan x="757.3" y="517.4" font-size="21.9" stroke-width="0.27" textLength="6" lengthAdjust="spacingAndGlyphs">]</tspan><tspan x="764.6" y="510.3" font-size="11" stroke-width="0.71">2</tspan><tspan x="771.4" y="515.9" font-size="15.6" stroke-width="0.53" textLength="24.5" lengthAdjust="spacing">cm</tspan><tspan x="796.5" y="510.3" font-size="11" stroke-width="0.71">-3</tspan></text>
<text><tspan x="680.4" y="561.9" font-size="19" stroke-width="0.39" textLength="51.4" lengthAdjust="spacing">12.86</tspan></text>
<text><tspan x="679.3" y="694" font-size="19" stroke-width="0.39" textLength="40.7" lengthAdjust="spacing">2.83</tspan></text>
</svg>
</body></html>
